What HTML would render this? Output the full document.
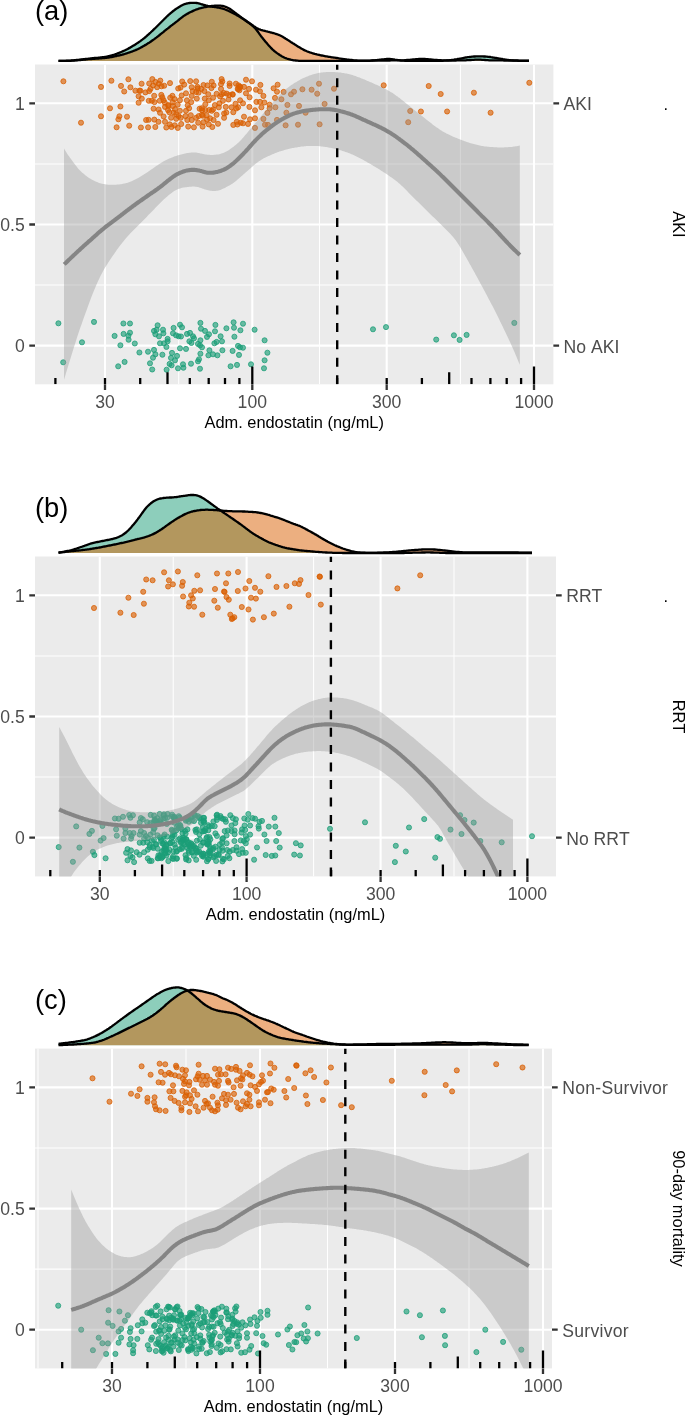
<!DOCTYPE html>
<html><head><meta charset="utf-8"><title>Figure</title>
<style>
html,body{margin:0;padding:0;background:#fff;}
body{width:685px;height:1416px;overflow:hidden;}
svg{display:block;will-change:transform;font-family:"Liberation Sans",sans-serif;font-kerning:none;}
</style></head><body>
<svg width="685" height="1416" viewBox="0 0 685 1416">
<rect width="685" height="1416" fill="#fff"/>
<clipPath id="clip_a"><rect x="35" y="64.5" width="518.4" height="319.8"/></clipPath>
<path d="M58.5 60.9L59.5 60.9L60.5 60.9L61.5 60.9L62.5 60.8L63.5 60.8L64.5 60.8L65.5 60.8L66.5 60.7L67.5 60.7L68.5 60.7L69.5 60.6L70.5 60.6L71.5 60.5L72.5 60.4L73.5 60.3L74.5 60.2L75.5 60.1L76.5 60L77.5 59.9L78.5 59.8L79.5 59.7L80.5 59.6L81.5 59.5L82.5 59.4L83.5 59.2L84.5 59.1L85.5 59L86.5 58.9L87.5 58.8L88.5 58.7L89.5 58.6L90.5 58.4L91.5 58.3L92.5 58.2L93.5 58.1L94.5 58L95.5 58L96.5 57.9L97.5 57.8L98.5 57.7L99.5 57.6L100.5 57.5L101.5 57.4L102.5 57.2L103.5 57.1L104.5 57L105.6 56.8L106.6 56.6L107.6 56.4L108.6 56.1L109.6 55.9L110.6 55.6L111.6 55.4L112.6 55.1L113.6 54.8L114.6 54.5L115.6 54.1L116.6 53.8L117.6 53.4L118.6 53L119.6 52.6L120.6 52.2L121.6 51.8L122.6 51.4L123.6 50.9L124.6 50.5L125.6 50L126.6 49.5L127.6 49L128.6 48.4L129.6 47.9L130.6 47.3L131.6 46.7L132.6 46.1L133.6 45.5L134.6 44.9L135.6 44.3L136.6 43.6L137.6 42.9L138.6 42.3L139.6 41.6L140.6 40.9L141.6 40.1L142.6 39.4L143.6 38.6L144.6 37.8L145.6 37L146.6 36.1L147.6 35.2L148.6 34.3L149.6 33.4L150.6 32.5L151.6 31.5L152.6 30.6L153.6 29.6L154.6 28.7L155.6 27.7L156.6 26.7L157.6 25.7L158.6 24.7L159.6 23.7L160.6 22.7L161.6 21.7L162.6 20.7L163.6 19.7L164.6 18.7L165.6 17.8L166.6 16.8L167.6 15.8L168.6 14.9L169.6 14L170.6 13.2L171.6 12.3L172.6 11.5L173.6 10.7L174.6 10L175.6 9.2L176.6 8.6L177.6 7.9L178.6 7.3L179.6 6.7L180.6 6.1L181.6 5.5L182.6 5L183.6 4.5L184.6 4.1L185.6 3.8L186.6 3.5L187.6 3.3L188.6 3.1L189.6 3L190.6 2.9L191.6 2.8L192.6 2.8L193.6 2.8L194.6 2.8L195.6 2.9L196.6 3L197.6 3.2L198.6 3.4L199.7 3.7L200.7 4L201.7 4.3L202.7 4.5L203.7 4.8L204.7 5.1L205.7 5.4L206.7 5.6L207.7 5.9L208.7 6.1L209.7 6.3L210.7 6.5L211.7 6.6L212.7 6.8L213.7 6.9L214.7 7L215.7 7.2L216.7 7.3L217.7 7.5L218.7 7.7L219.7 7.8L220.7 8.1L221.7 8.3L222.7 8.6L223.7 8.9L224.7 9.3L225.7 9.7L226.7 10.1L227.7 10.5L228.7 11L229.7 11.5L230.7 12L231.7 12.5L232.7 13L233.7 13.5L234.7 14L235.7 14.5L236.7 15.1L237.7 15.6L238.7 16.2L239.7 16.8L240.7 17.4L241.7 18L242.7 18.7L243.7 19.4L244.7 20.1L245.7 20.8L246.7 21.5L247.7 22.2L248.7 22.9L249.7 23.7L250.7 24.4L251.7 25.2L252.7 26L253.7 26.9L254.7 27.8L255.7 28.9L256.7 30.2L257.7 31.5L258.7 32.9L259.7 34.3L260.7 35.7L261.7 37L262.7 38.2L263.7 39.5L264.7 40.7L265.7 41.9L266.7 43.1L267.7 44.3L268.7 45.4L269.7 46.5L270.7 47.6L271.7 48.6L272.7 49.6L273.7 50.5L274.7 51.3L275.7 52.1L276.7 52.9L277.7 53.6L278.7 54.3L279.7 55L280.7 55.6L281.7 56.2L282.7 56.7L283.7 57.2L284.7 57.7L285.7 58.1L286.7 58.5L287.7 58.8L288.7 59.2L289.7 59.4L290.7 59.7L291.7 59.9L292.7 60.1L293.8 60.3L294.8 60.4L295.8 60.5L296.8 60.6L297.8 60.7L298.8 60.8L299.8 60.8L300.8 60.8L301.8 60.9L302.8 60.9L303.8 60.9L304.8 60.9L305.8 60.9L306.8 60.9L307.8 60.9L308.8 60.9L309.8 60.9L310.8 60.9L311.8 60.9L312.8 60.9L313.8 60.9L314.8 60.9L315.8 60.9L316.8 60.9L317.8 60.9L318.8 60.9L319.8 60.9L320.8 60.9L321.8 60.9L322.8 60.9L323.8 60.9L324.8 60.9L325.8 60.9L326.8 60.9L327.8 60.9L328.8 60.9L329.8 60.9L330.8 60.9L331.8 60.9L332.8 60.9L333.8 60.9L334.8 60.9L335.8 60.9L336.8 60.9L337.8 60.9L338.8 60.9L339.8 60.9L340.8 60.9L341.8 60.9L342.8 60.9L343.8 60.9L344.8 60.9L345.8 60.9L346.8 60.9L347.8 60.9L348.8 60.9L349.8 60.9L350.8 60.9L351.8 60.9L352.8 60.9L353.8 60.9L354.8 60.9L355.8 60.9L356.8 60.9L357.8 60.9L358.8 60.9L359.8 60.9L360.8 60.9L361.8 60.9L362.8 60.9L363.8 60.9L364.8 60.9L365.8 60.9L366.8 60.9L367.8 60.9L368.8 60.8L369.8 60.8L370.8 60.7L371.8 60.6L372.8 60.5L373.8 60.4L374.8 60.3L375.8 60.2L376.8 60.1L377.8 59.9L378.8 59.8L379.8 59.7L380.8 59.6L381.8 59.5L382.8 59.4L383.8 59.3L384.8 59.2L385.8 59.1L386.8 59L387.9 59L388.9 59L389.9 59L390.9 59.1L391.9 59.2L392.9 59.4L393.9 59.5L394.9 59.7L395.9 59.8L396.9 59.9L397.9 60.1L398.9 60.2L399.9 60.3L400.9 60.5L401.9 60.6L402.9 60.6L403.9 60.7L404.9 60.8L405.9 60.8L406.9 60.9L407.9 60.9L408.9 60.9L409.9 60.9L410.9 60.9L411.9 60.9L412.9 60.9L413.9 60.9L414.9 60.9L415.9 60.9L416.9 60.9L417.9 60.9L418.9 60.9L419.9 60.9L420.9 60.9L421.9 60.9L422.9 60.9L423.9 60.9L424.9 60.9L425.9 60.9L426.9 60.9L427.9 60.9L428.9 60.9L429.9 60.9L430.9 60.9L431.9 60.9L432.9 60.9L433.9 60.9L434.9 60.9L435.9 60.9L436.9 60.9L437.9 60.9L438.9 60.9L439.9 60.9L440.9 60.9L441.9 60.8L442.9 60.8L443.9 60.7L444.9 60.7L445.9 60.6L446.9 60.5L447.9 60.4L448.9 60.3L449.9 60.2L450.9 60.1L451.9 59.9L452.9 59.8L453.9 59.7L454.9 59.5L455.9 59.3L456.9 59.2L457.9 59L458.9 58.8L459.9 58.6L460.9 58.5L461.9 58.3L462.9 58.1L463.9 57.9L464.9 57.7L465.9 57.5L466.9 57.4L467.9 57.2L468.9 57.1L469.9 56.9L470.9 56.8L471.9 56.7L472.9 56.6L473.9 56.5L474.9 56.5L475.9 56.4L476.9 56.4L477.9 56.3L478.9 56.3L479.9 56.3L480.9 56.3L481.9 56.4L483 56.4L484 56.5L485 56.5L486 56.6L487 56.7L488 56.8L489 56.9L490 57L491 57.2L492 57.3L493 57.5L494 57.6L495 57.8L496 57.9L497 58.1L498 58.3L499 58.5L500 58.6L501 58.8L502 59L503 59.2L504 59.3L505 59.5L506 59.6L507 59.8L508 59.9L509 60.1L510 60.2L511 60.3L512 60.4L513 60.5L514 60.6L515 60.6L516 60.7L517 60.7L518 60.8L519 60.8L520 60.9L521 60.9L522 60.9L523 60.9L524 60.9L525 60.9L526 60.9L527 60.9L528 60.9L529 60.9L529 60.9L58.5 60.9Z" fill="#1B9E77" fill-opacity="0.5" stroke="none"/>
<path d="M58.5 60.9L59.5 60.9L60.5 60.9L61.5 60.9L62.5 60.9L63.5 60.9L64.5 60.9L65.5 60.9L66.5 60.9L67.5 60.9L68.5 60.8L69.5 60.8L70.5 60.8L71.5 60.7L72.5 60.7L73.5 60.6L74.5 60.5L75.5 60.4L76.5 60.4L77.5 60.3L78.5 60.2L79.5 60.1L80.5 60L81.5 59.9L82.5 59.8L83.5 59.7L84.5 59.6L85.5 59.5L86.5 59.4L87.5 59.3L88.5 59.2L89.5 59.1L90.5 59.1L91.5 59L92.5 58.9L93.5 58.8L94.5 58.8L95.5 58.7L96.5 58.6L97.5 58.6L98.5 58.5L99.5 58.4L100.5 58.4L101.5 58.3L102.5 58.2L103.5 58.1L104.5 58L105.6 57.9L106.6 57.8L107.6 57.7L108.6 57.5L109.6 57.4L110.6 57.2L111.6 57L112.6 56.8L113.6 56.6L114.6 56.4L115.6 56.2L116.6 56L117.6 55.7L118.6 55.5L119.6 55.3L120.6 55L121.6 54.8L122.6 54.5L123.6 54.3L124.6 54L125.6 53.7L126.6 53.4L127.6 53L128.6 52.7L129.6 52.4L130.6 52L131.6 51.6L132.6 51.3L133.6 50.9L134.6 50.5L135.6 50.1L136.6 49.6L137.6 49.2L138.6 48.7L139.6 48.2L140.6 47.7L141.6 47.1L142.6 46.6L143.6 46L144.6 45.4L145.6 44.9L146.6 44.3L147.6 43.6L148.6 43L149.6 42.4L150.6 41.7L151.6 41L152.6 40.3L153.6 39.6L154.6 38.9L155.6 38.1L156.6 37.4L157.6 36.6L158.6 35.8L159.6 35L160.6 34.2L161.6 33.4L162.6 32.6L163.6 31.8L164.6 30.9L165.6 30.1L166.6 29.3L167.6 28.6L168.6 27.8L169.6 27L170.6 26.2L171.6 25.4L172.6 24.7L173.6 23.9L174.6 23.2L175.6 22.4L176.6 21.6L177.6 20.9L178.6 20L179.6 19.2L180.6 18.4L181.6 17.6L182.6 16.8L183.6 16.1L184.6 15.4L185.6 14.8L186.6 14.2L187.6 13.6L188.6 13.1L189.6 12.5L190.6 12L191.6 11.6L192.6 11.1L193.6 10.6L194.6 10.2L195.6 9.8L196.6 9.4L197.6 9.1L198.6 8.7L199.7 8.4L200.7 8.2L201.7 7.9L202.7 7.7L203.7 7.4L204.7 7.2L205.7 7L206.7 6.8L207.7 6.6L208.7 6.4L209.7 6.3L210.7 6.1L211.7 6L212.7 5.9L213.7 5.8L214.7 5.7L215.7 5.6L216.7 5.6L217.7 5.6L218.7 5.6L219.7 5.7L220.7 5.7L221.7 5.8L222.7 6L223.7 6.2L224.7 6.5L225.7 6.8L226.7 7.2L227.7 7.7L228.7 8.2L229.7 8.8L230.7 9.5L231.7 10.2L232.7 10.9L233.7 11.6L234.7 12.4L235.7 13.1L236.7 13.9L237.7 14.6L238.7 15.4L239.7 16.2L240.7 16.9L241.7 17.7L242.7 18.4L243.7 19.1L244.7 19.8L245.7 20.5L246.7 21.2L247.7 21.9L248.7 22.6L249.7 23.2L250.7 23.9L251.7 24.6L252.7 25.3L253.7 26.1L254.7 26.8L255.7 27.5L256.7 28.1L257.7 28.6L258.7 29.1L259.7 29.4L260.7 29.8L261.7 30.1L262.7 30.4L263.7 30.6L264.7 30.9L265.7 31.2L266.7 31.4L267.7 31.7L268.7 31.9L269.7 32.2L270.7 32.5L271.7 32.7L272.7 33L273.7 33.2L274.7 33.5L275.7 33.8L276.7 34.1L277.7 34.5L278.7 34.9L279.7 35.3L280.7 35.8L281.7 36.3L282.7 36.8L283.7 37.4L284.7 38L285.7 38.7L286.7 39.3L287.7 39.9L288.7 40.6L289.7 41.2L290.7 41.9L291.7 42.5L292.7 43.2L293.8 43.8L294.8 44.5L295.8 45.1L296.8 45.8L297.8 46.4L298.8 47L299.8 47.6L300.8 48.2L301.8 48.8L302.8 49.3L303.8 49.9L304.8 50.4L305.8 50.8L306.8 51.3L307.8 51.7L308.8 52L309.8 52.4L310.8 52.7L311.8 53L312.8 53.3L313.8 53.6L314.8 53.9L315.8 54.1L316.8 54.4L317.8 54.6L318.8 54.8L319.8 55L320.8 55.3L321.8 55.5L322.8 55.7L323.8 55.9L324.8 56.1L325.8 56.3L326.8 56.4L327.8 56.6L328.8 56.8L329.8 56.9L330.8 57.1L331.8 57.3L332.8 57.4L333.8 57.6L334.8 57.7L335.8 57.9L336.8 58L337.8 58.2L338.8 58.4L339.8 58.6L340.8 58.7L341.8 58.9L342.8 59L343.8 59.1L344.8 59.2L345.8 59.3L346.8 59.5L347.8 59.6L348.8 59.7L349.8 59.8L350.8 59.9L351.8 60L352.8 60.1L353.8 60.3L354.8 60.4L355.8 60.4L356.8 60.5L357.8 60.6L358.8 60.6L359.8 60.6L360.8 60.6L361.8 60.6L362.8 60.6L363.8 60.6L364.8 60.6L365.8 60.6L366.8 60.6L367.8 60.6L368.8 60.6L369.8 60.6L370.8 60.6L371.8 60.5L372.8 60.5L373.8 60.5L374.8 60.5L375.8 60.5L376.8 60.5L377.8 60.5L378.8 60.5L379.8 60.5L380.8 60.5L381.8 60.5L382.8 60.5L383.8 60.5L384.8 60.5L385.8 60.5L386.8 60.5L387.9 60.5L388.9 60.5L389.9 60.5L390.9 60.4L391.9 60.4L392.9 60.4L393.9 60.4L394.9 60.4L395.9 60.4L396.9 60.4L397.9 60.4L398.9 60.4L399.9 60.4L400.9 60.4L401.9 60.3L402.9 60.3L403.9 60.3L404.9 60.2L405.9 60.1L406.9 60L407.9 60L408.9 59.9L409.9 59.8L410.9 59.7L411.9 59.6L412.9 59.5L413.9 59.4L414.9 59.3L415.9 59.2L416.9 59.1L417.9 59.1L418.9 59L419.9 59L420.9 58.9L421.9 58.9L422.9 58.9L423.9 59L424.9 59L425.9 59.1L426.9 59.1L427.9 59.2L428.9 59.3L429.9 59.4L430.9 59.5L431.9 59.6L432.9 59.7L433.9 59.8L434.9 59.9L435.9 59.9L436.9 60L437.9 60.1L438.9 60.1L439.9 60.2L440.9 60.2L441.9 60.3L442.9 60.3L443.9 60.4L444.9 60.4L445.9 60.4L446.9 60.4L447.9 60.5L448.9 60.5L449.9 60.5L450.9 60.5L451.9 60.5L452.9 60.5L453.9 60.5L454.9 60.5L455.9 60.5L456.9 60.4L457.9 60.4L458.9 60.4L459.9 60.4L460.9 60.4L461.9 60.4L462.9 60.3L463.9 60.3L464.9 60.3L465.9 60.3L466.9 60.2L467.9 60.2L468.9 60.1L469.9 60L470.9 60L471.9 59.9L472.9 59.8L473.9 59.8L474.9 59.7L475.9 59.7L476.9 59.6L477.9 59.6L478.9 59.6L479.9 59.7L480.9 59.7L481.9 59.8L483 59.9L484 59.9L485 60L486 60.1L487 60.2L488 60.2L489 60.3L490 60.3L491 60.3L492 60.3L493 60.3L494 60.3L495 60.4L496 60.4L497 60.4L498 60.4L499 60.4L500 60.4L501 60.4L502 60.4L503 60.4L504 60.5L505 60.5L506 60.5L507 60.5L508 60.5L509 60.5L510 60.5L511 60.5L512 60.5L513 60.5L514 60.5L515 60.5L516 60.5L517 60.5L518 60.5L519 60.6L520 60.6L521 60.6L522 60.6L523 60.6L524 60.6L525 60.6L526 60.6L527 60.6L528 60.6L529 60.6L529 60.9L58.5 60.9Z" fill="#D95F02" fill-opacity="0.5" stroke="none"/>
<path d="M58.5 60.9L59.5 60.9L60.5 60.9L61.5 60.9L62.5 60.8L63.5 60.8L64.5 60.8L65.5 60.8L66.5 60.7L67.5 60.7L68.5 60.7L69.5 60.6L70.5 60.6L71.5 60.5L72.5 60.4L73.5 60.3L74.5 60.2L75.5 60.1L76.5 60L77.5 59.9L78.5 59.8L79.5 59.7L80.5 59.6L81.5 59.5L82.5 59.4L83.5 59.2L84.5 59.1L85.5 59L86.5 58.9L87.5 58.8L88.5 58.7L89.5 58.6L90.5 58.4L91.5 58.3L92.5 58.2L93.5 58.1L94.5 58L95.5 58L96.5 57.9L97.5 57.8L98.5 57.7L99.5 57.6L100.5 57.5L101.5 57.4L102.5 57.2L103.5 57.1L104.5 57L105.6 56.8L106.6 56.6L107.6 56.4L108.6 56.1L109.6 55.9L110.6 55.6L111.6 55.4L112.6 55.1L113.6 54.8L114.6 54.5L115.6 54.1L116.6 53.8L117.6 53.4L118.6 53L119.6 52.6L120.6 52.2L121.6 51.8L122.6 51.4L123.6 50.9L124.6 50.5L125.6 50L126.6 49.5L127.6 49L128.6 48.4L129.6 47.9L130.6 47.3L131.6 46.7L132.6 46.1L133.6 45.5L134.6 44.9L135.6 44.3L136.6 43.6L137.6 42.9L138.6 42.3L139.6 41.6L140.6 40.9L141.6 40.1L142.6 39.4L143.6 38.6L144.6 37.8L145.6 37L146.6 36.1L147.6 35.2L148.6 34.3L149.6 33.4L150.6 32.5L151.6 31.5L152.6 30.6L153.6 29.6L154.6 28.7L155.6 27.7L156.6 26.7L157.6 25.7L158.6 24.7L159.6 23.7L160.6 22.7L161.6 21.7L162.6 20.7L163.6 19.7L164.6 18.7L165.6 17.8L166.6 16.8L167.6 15.8L168.6 14.9L169.6 14L170.6 13.2L171.6 12.3L172.6 11.5L173.6 10.7L174.6 10L175.6 9.2L176.6 8.6L177.6 7.9L178.6 7.3L179.6 6.7L180.6 6.1L181.6 5.5L182.6 5L183.6 4.5L184.6 4.1L185.6 3.8L186.6 3.5L187.6 3.3L188.6 3.1L189.6 3L190.6 2.9L191.6 2.8L192.6 2.8L193.6 2.8L194.6 2.8L195.6 2.9L196.6 3L197.6 3.2L198.6 3.4L199.7 3.7L200.7 4L201.7 4.3L202.7 4.5L203.7 4.8L204.7 5.1L205.7 5.4L206.7 5.6L207.7 5.9L208.7 6.1L209.7 6.3L210.7 6.5L211.7 6.6L212.7 6.8L213.7 6.9L214.7 7L215.7 7.2L216.7 7.3L217.7 7.5L218.7 7.7L219.7 7.8L220.7 8.1L221.7 8.3L222.7 8.6L223.7 8.9L224.7 9.3L225.7 9.7L226.7 10.1L227.7 10.5L228.7 11L229.7 11.5L230.7 12L231.7 12.5L232.7 13L233.7 13.5L234.7 14L235.7 14.5L236.7 15.1L237.7 15.6L238.7 16.2L239.7 16.8L240.7 17.4L241.7 18L242.7 18.7L243.7 19.4L244.7 20.1L245.7 20.8L246.7 21.5L247.7 22.2L248.7 22.9L249.7 23.7L250.7 24.4L251.7 25.2L252.7 26L253.7 26.9L254.7 27.8L255.7 28.9L256.7 30.2L257.7 31.5L258.7 32.9L259.7 34.3L260.7 35.7L261.7 37L262.7 38.2L263.7 39.5L264.7 40.7L265.7 41.9L266.7 43.1L267.7 44.3L268.7 45.4L269.7 46.5L270.7 47.6L271.7 48.6L272.7 49.6L273.7 50.5L274.7 51.3L275.7 52.1L276.7 52.9L277.7 53.6L278.7 54.3L279.7 55L280.7 55.6L281.7 56.2L282.7 56.7L283.7 57.2L284.7 57.7L285.7 58.1L286.7 58.5L287.7 58.8L288.7 59.2L289.7 59.4L290.7 59.7L291.7 59.9L292.7 60.1L293.8 60.3L294.8 60.4L295.8 60.5L296.8 60.6L297.8 60.7L298.8 60.8L299.8 60.8L300.8 60.8L301.8 60.9L302.8 60.9L303.8 60.9L304.8 60.9L305.8 60.9L306.8 60.9L307.8 60.9L308.8 60.9L309.8 60.9L310.8 60.9L311.8 60.9L312.8 60.9L313.8 60.9L314.8 60.9L315.8 60.9L316.8 60.9L317.8 60.9L318.8 60.9L319.8 60.9L320.8 60.9L321.8 60.9L322.8 60.9L323.8 60.9L324.8 60.9L325.8 60.9L326.8 60.9L327.8 60.9L328.8 60.9L329.8 60.9L330.8 60.9L331.8 60.9L332.8 60.9L333.8 60.9L334.8 60.9L335.8 60.9L336.8 60.9L337.8 60.9L338.8 60.9L339.8 60.9L340.8 60.9L341.8 60.9L342.8 60.9L343.8 60.9L344.8 60.9L345.8 60.9L346.8 60.9L347.8 60.9L348.8 60.9L349.8 60.9L350.8 60.9L351.8 60.9L352.8 60.9L353.8 60.9L354.8 60.9L355.8 60.9L356.8 60.9L357.8 60.9L358.8 60.9L359.8 60.9L360.8 60.9L361.8 60.9L362.8 60.9L363.8 60.9L364.8 60.9L365.8 60.9L366.8 60.9L367.8 60.9L368.8 60.8L369.8 60.8L370.8 60.7L371.8 60.6L372.8 60.5L373.8 60.4L374.8 60.3L375.8 60.2L376.8 60.1L377.8 59.9L378.8 59.8L379.8 59.7L380.8 59.6L381.8 59.5L382.8 59.4L383.8 59.3L384.8 59.2L385.8 59.1L386.8 59L387.9 59L388.9 59L389.9 59L390.9 59.1L391.9 59.2L392.9 59.4L393.9 59.5L394.9 59.7L395.9 59.8L396.9 59.9L397.9 60.1L398.9 60.2L399.9 60.3L400.9 60.5L401.9 60.6L402.9 60.6L403.9 60.7L404.9 60.8L405.9 60.8L406.9 60.9L407.9 60.9L408.9 60.9L409.9 60.9L410.9 60.9L411.9 60.9L412.9 60.9L413.9 60.9L414.9 60.9L415.9 60.9L416.9 60.9L417.9 60.9L418.9 60.9L419.9 60.9L420.9 60.9L421.9 60.9L422.9 60.9L423.9 60.9L424.9 60.9L425.9 60.9L426.9 60.9L427.9 60.9L428.9 60.9L429.9 60.9L430.9 60.9L431.9 60.9L432.9 60.9L433.9 60.9L434.9 60.9L435.9 60.9L436.9 60.9L437.9 60.9L438.9 60.9L439.9 60.9L440.9 60.9L441.9 60.8L442.9 60.8L443.9 60.7L444.9 60.7L445.9 60.6L446.9 60.5L447.9 60.4L448.9 60.3L449.9 60.2L450.9 60.1L451.9 59.9L452.9 59.8L453.9 59.7L454.9 59.5L455.9 59.3L456.9 59.2L457.9 59L458.9 58.8L459.9 58.6L460.9 58.5L461.9 58.3L462.9 58.1L463.9 57.9L464.9 57.7L465.9 57.5L466.9 57.4L467.9 57.2L468.9 57.1L469.9 56.9L470.9 56.8L471.9 56.7L472.9 56.6L473.9 56.5L474.9 56.5L475.9 56.4L476.9 56.4L477.9 56.3L478.9 56.3L479.9 56.3L480.9 56.3L481.9 56.4L483 56.4L484 56.5L485 56.5L486 56.6L487 56.7L488 56.8L489 56.9L490 57L491 57.2L492 57.3L493 57.5L494 57.6L495 57.8L496 57.9L497 58.1L498 58.3L499 58.5L500 58.6L501 58.8L502 59L503 59.2L504 59.3L505 59.5L506 59.6L507 59.8L508 59.9L509 60.1L510 60.2L511 60.3L512 60.4L513 60.5L514 60.6L515 60.6L516 60.7L517 60.7L518 60.8L519 60.8L520 60.9L521 60.9L522 60.9L523 60.9L524 60.9L525 60.9L526 60.9L527 60.9L528 60.9L529 60.9" fill="none" stroke="#000" stroke-width="2.3" stroke-linejoin="round"/>
<path d="M58.5 60.9L59.5 60.9L60.5 60.9L61.5 60.9L62.5 60.9L63.5 60.9L64.5 60.9L65.5 60.9L66.5 60.9L67.5 60.9L68.5 60.8L69.5 60.8L70.5 60.8L71.5 60.7L72.5 60.7L73.5 60.6L74.5 60.5L75.5 60.4L76.5 60.4L77.5 60.3L78.5 60.2L79.5 60.1L80.5 60L81.5 59.9L82.5 59.8L83.5 59.7L84.5 59.6L85.5 59.5L86.5 59.4L87.5 59.3L88.5 59.2L89.5 59.1L90.5 59.1L91.5 59L92.5 58.9L93.5 58.8L94.5 58.8L95.5 58.7L96.5 58.6L97.5 58.6L98.5 58.5L99.5 58.4L100.5 58.4L101.5 58.3L102.5 58.2L103.5 58.1L104.5 58L105.6 57.9L106.6 57.8L107.6 57.7L108.6 57.5L109.6 57.4L110.6 57.2L111.6 57L112.6 56.8L113.6 56.6L114.6 56.4L115.6 56.2L116.6 56L117.6 55.7L118.6 55.5L119.6 55.3L120.6 55L121.6 54.8L122.6 54.5L123.6 54.3L124.6 54L125.6 53.7L126.6 53.4L127.6 53L128.6 52.7L129.6 52.4L130.6 52L131.6 51.6L132.6 51.3L133.6 50.9L134.6 50.5L135.6 50.1L136.6 49.6L137.6 49.2L138.6 48.7L139.6 48.2L140.6 47.7L141.6 47.1L142.6 46.6L143.6 46L144.6 45.4L145.6 44.9L146.6 44.3L147.6 43.6L148.6 43L149.6 42.4L150.6 41.7L151.6 41L152.6 40.3L153.6 39.6L154.6 38.9L155.6 38.1L156.6 37.4L157.6 36.6L158.6 35.8L159.6 35L160.6 34.2L161.6 33.4L162.6 32.6L163.6 31.8L164.6 30.9L165.6 30.1L166.6 29.3L167.6 28.6L168.6 27.8L169.6 27L170.6 26.2L171.6 25.4L172.6 24.7L173.6 23.9L174.6 23.2L175.6 22.4L176.6 21.6L177.6 20.9L178.6 20L179.6 19.2L180.6 18.4L181.6 17.6L182.6 16.8L183.6 16.1L184.6 15.4L185.6 14.8L186.6 14.2L187.6 13.6L188.6 13.1L189.6 12.5L190.6 12L191.6 11.6L192.6 11.1L193.6 10.6L194.6 10.2L195.6 9.8L196.6 9.4L197.6 9.1L198.6 8.7L199.7 8.4L200.7 8.2L201.7 7.9L202.7 7.7L203.7 7.4L204.7 7.2L205.7 7L206.7 6.8L207.7 6.6L208.7 6.4L209.7 6.3L210.7 6.1L211.7 6L212.7 5.9L213.7 5.8L214.7 5.7L215.7 5.6L216.7 5.6L217.7 5.6L218.7 5.6L219.7 5.7L220.7 5.7L221.7 5.8L222.7 6L223.7 6.2L224.7 6.5L225.7 6.8L226.7 7.2L227.7 7.7L228.7 8.2L229.7 8.8L230.7 9.5L231.7 10.2L232.7 10.9L233.7 11.6L234.7 12.4L235.7 13.1L236.7 13.9L237.7 14.6L238.7 15.4L239.7 16.2L240.7 16.9L241.7 17.7L242.7 18.4L243.7 19.1L244.7 19.8L245.7 20.5L246.7 21.2L247.7 21.9L248.7 22.6L249.7 23.2L250.7 23.9L251.7 24.6L252.7 25.3L253.7 26.1L254.7 26.8L255.7 27.5L256.7 28.1L257.7 28.6L258.7 29.1L259.7 29.4L260.7 29.8L261.7 30.1L262.7 30.4L263.7 30.6L264.7 30.9L265.7 31.2L266.7 31.4L267.7 31.7L268.7 31.9L269.7 32.2L270.7 32.5L271.7 32.7L272.7 33L273.7 33.2L274.7 33.5L275.7 33.8L276.7 34.1L277.7 34.5L278.7 34.9L279.7 35.3L280.7 35.8L281.7 36.3L282.7 36.8L283.7 37.4L284.7 38L285.7 38.7L286.7 39.3L287.7 39.9L288.7 40.6L289.7 41.2L290.7 41.9L291.7 42.5L292.7 43.2L293.8 43.8L294.8 44.5L295.8 45.1L296.8 45.8L297.8 46.4L298.8 47L299.8 47.6L300.8 48.2L301.8 48.8L302.8 49.3L303.8 49.9L304.8 50.4L305.8 50.8L306.8 51.3L307.8 51.7L308.8 52L309.8 52.4L310.8 52.7L311.8 53L312.8 53.3L313.8 53.6L314.8 53.9L315.8 54.1L316.8 54.4L317.8 54.6L318.8 54.8L319.8 55L320.8 55.3L321.8 55.5L322.8 55.7L323.8 55.9L324.8 56.1L325.8 56.3L326.8 56.4L327.8 56.6L328.8 56.8L329.8 56.9L330.8 57.1L331.8 57.3L332.8 57.4L333.8 57.6L334.8 57.7L335.8 57.9L336.8 58L337.8 58.2L338.8 58.4L339.8 58.6L340.8 58.7L341.8 58.9L342.8 59L343.8 59.1L344.8 59.2L345.8 59.3L346.8 59.5L347.8 59.6L348.8 59.7L349.8 59.8L350.8 59.9L351.8 60L352.8 60.1L353.8 60.3L354.8 60.4L355.8 60.4L356.8 60.5L357.8 60.6L358.8 60.6L359.8 60.6L360.8 60.6L361.8 60.6L362.8 60.6L363.8 60.6L364.8 60.6L365.8 60.6L366.8 60.6L367.8 60.6L368.8 60.6L369.8 60.6L370.8 60.6L371.8 60.5L372.8 60.5L373.8 60.5L374.8 60.5L375.8 60.5L376.8 60.5L377.8 60.5L378.8 60.5L379.8 60.5L380.8 60.5L381.8 60.5L382.8 60.5L383.8 60.5L384.8 60.5L385.8 60.5L386.8 60.5L387.9 60.5L388.9 60.5L389.9 60.5L390.9 60.4L391.9 60.4L392.9 60.4L393.9 60.4L394.9 60.4L395.9 60.4L396.9 60.4L397.9 60.4L398.9 60.4L399.9 60.4L400.9 60.4L401.9 60.3L402.9 60.3L403.9 60.3L404.9 60.2L405.9 60.1L406.9 60L407.9 60L408.9 59.9L409.9 59.8L410.9 59.7L411.9 59.6L412.9 59.5L413.9 59.4L414.9 59.3L415.9 59.2L416.9 59.1L417.9 59.1L418.9 59L419.9 59L420.9 58.9L421.9 58.9L422.9 58.9L423.9 59L424.9 59L425.9 59.1L426.9 59.1L427.9 59.2L428.9 59.3L429.9 59.4L430.9 59.5L431.9 59.6L432.9 59.7L433.9 59.8L434.9 59.9L435.9 59.9L436.9 60L437.9 60.1L438.9 60.1L439.9 60.2L440.9 60.2L441.9 60.3L442.9 60.3L443.9 60.4L444.9 60.4L445.9 60.4L446.9 60.4L447.9 60.5L448.9 60.5L449.9 60.5L450.9 60.5L451.9 60.5L452.9 60.5L453.9 60.5L454.9 60.5L455.9 60.5L456.9 60.4L457.9 60.4L458.9 60.4L459.9 60.4L460.9 60.4L461.9 60.4L462.9 60.3L463.9 60.3L464.9 60.3L465.9 60.3L466.9 60.2L467.9 60.2L468.9 60.1L469.9 60L470.9 60L471.9 59.9L472.9 59.8L473.9 59.8L474.9 59.7L475.9 59.7L476.9 59.6L477.9 59.6L478.9 59.6L479.9 59.7L480.9 59.7L481.9 59.8L483 59.9L484 59.9L485 60L486 60.1L487 60.2L488 60.2L489 60.3L490 60.3L491 60.3L492 60.3L493 60.3L494 60.3L495 60.4L496 60.4L497 60.4L498 60.4L499 60.4L500 60.4L501 60.4L502 60.4L503 60.4L504 60.5L505 60.5L506 60.5L507 60.5L508 60.5L509 60.5L510 60.5L511 60.5L512 60.5L513 60.5L514 60.5L515 60.5L516 60.5L517 60.5L518 60.5L519 60.6L520 60.6L521 60.6L522 60.6L523 60.6L524 60.6L525 60.6L526 60.6L527 60.6L528 60.6L529 60.6" fill="none" stroke="#000" stroke-width="2.3" stroke-linejoin="round"/>
<rect x="35" y="64.5" width="518.4" height="319.8" fill="#EBEBEB"/>
<g clip-path="url(#clip_a)">
<path d="M31.4 64.5V384.3M178.7 64.5V384.3M319.5 64.5V384.3M460.4 64.5V384.3M607.6 64.5V384.3M35 163.9H553.4M35 285H553.4" stroke="#fff" stroke-width="1.05" fill="none"/>
<path d="M105 64.5V384.3M252.3 64.5V384.3M386.7 64.5V384.3M534 64.5V384.3M35 103.3H553.4M35 224.5H553.4M35 345.6H553.4" stroke="#fff" stroke-width="2.1" fill="none"/>
<g fill="#1B9E77" fill-opacity="0.64" stroke="#1B9E77" stroke-opacity="0.85" stroke-width="0.9"><circle cx="58.4" cy="323.3" r="2.55"/><circle cx="94" cy="321.9" r="2.55"/><circle cx="82" cy="342.3" r="2.55"/><circle cx="63.2" cy="362.3" r="2.55"/><circle cx="123.4" cy="323.5" r="2.55"/><circle cx="130" cy="323.5" r="2.55"/><circle cx="114.6" cy="335.9" r="2.55"/><circle cx="123.6" cy="333.9" r="2.55"/><circle cx="130" cy="332.7" r="2.55"/><circle cx="128.4" cy="335.7" r="2.55"/><circle cx="128.6" cy="339.7" r="2.55"/><circle cx="120.4" cy="345.3" r="2.55"/><circle cx="134.8" cy="343.5" r="2.55"/><circle cx="139.4" cy="352.5" r="2.55"/><circle cx="124.6" cy="361.9" r="2.55"/><circle cx="118.2" cy="366.3" r="2.55"/><circle cx="148" cy="351.7" r="2.55"/><circle cx="154" cy="349.9" r="2.55"/><circle cx="155.4" cy="354.3" r="2.55"/><circle cx="153" cy="357.7" r="2.55"/><circle cx="150" cy="363.3" r="2.55"/><circle cx="152.2" cy="369.5" r="2.55"/><circle cx="157.6" cy="325.3" r="2.55"/><circle cx="154" cy="330.9" r="2.55"/><circle cx="156.6" cy="329.7" r="2.55"/><circle cx="155.4" cy="334.3" r="2.55"/><circle cx="159" cy="336.3" r="2.55"/><circle cx="163" cy="329.7" r="2.55"/><circle cx="163.4" cy="333.3" r="2.55"/><circle cx="160" cy="343.3" r="2.55"/><circle cx="164" cy="343.3" r="2.55"/><circle cx="167.6" cy="338.9" r="2.55"/><circle cx="167.6" cy="341.3" r="2.55"/><circle cx="166.4" cy="346.9" r="2.55"/><circle cx="162.4" cy="354.7" r="2.55"/><circle cx="166.6" cy="369.7" r="2.55"/><circle cx="173.6" cy="327.9" r="2.55"/><circle cx="180" cy="324.7" r="2.55"/><circle cx="182" cy="327.3" r="2.55"/><circle cx="173" cy="333.3" r="2.55"/><circle cx="176" cy="335.3" r="2.55"/><circle cx="178.6" cy="336.3" r="2.55"/><circle cx="181" cy="336.5" r="2.55"/><circle cx="187" cy="333.9" r="2.55"/><circle cx="190" cy="332.9" r="2.55"/><circle cx="193" cy="336.3" r="2.55"/><circle cx="194" cy="338.3" r="2.55"/><circle cx="189.4" cy="341.3" r="2.55"/><circle cx="191.4" cy="342.9" r="2.55"/><circle cx="180" cy="348.3" r="2.55"/><circle cx="186" cy="348.9" r="2.55"/><circle cx="172" cy="352.9" r="2.55"/><circle cx="177" cy="355.9" r="2.55"/><circle cx="171" cy="357.9" r="2.55"/><circle cx="175" cy="360.3" r="2.55"/><circle cx="169.6" cy="363.9" r="2.55"/><circle cx="171.6" cy="365.3" r="2.55"/><circle cx="178" cy="368.3" r="2.55"/><circle cx="183" cy="364.3" r="2.55"/><circle cx="183.4" cy="367.7" r="2.55"/><circle cx="191" cy="363.7" r="2.55"/><circle cx="200.4" cy="322.9" r="2.55"/><circle cx="201" cy="328.7" r="2.55"/><circle cx="205" cy="330.9" r="2.55"/><circle cx="209" cy="334.3" r="2.55"/><circle cx="207" cy="336.9" r="2.55"/><circle cx="200.4" cy="340.3" r="2.55"/><circle cx="198" cy="343.9" r="2.55"/><circle cx="200" cy="345.3" r="2.55"/><circle cx="202" cy="347.3" r="2.55"/><circle cx="200.4" cy="353.7" r="2.55"/><circle cx="199" cy="359.3" r="2.55"/><circle cx="198" cy="361.3" r="2.55"/><circle cx="200" cy="368.7" r="2.55"/><circle cx="215.4" cy="324.9" r="2.55"/><circle cx="215" cy="331.3" r="2.55"/><circle cx="220.6" cy="336.3" r="2.55"/><circle cx="222" cy="341.3" r="2.55"/><circle cx="216.6" cy="341.9" r="2.55"/><circle cx="214.4" cy="343.3" r="2.55"/><circle cx="209.4" cy="350.3" r="2.55"/><circle cx="208.4" cy="355.3" r="2.55"/><circle cx="213" cy="354.3" r="2.55"/><circle cx="217.4" cy="355.3" r="2.55"/><circle cx="222.4" cy="350.3" r="2.55"/><circle cx="226.4" cy="328.3" r="2.55"/><circle cx="233.6" cy="322.3" r="2.55"/><circle cx="234" cy="327.7" r="2.55"/><circle cx="243" cy="323.7" r="2.55"/><circle cx="240.4" cy="330.3" r="2.55"/><circle cx="234.4" cy="336.7" r="2.55"/><circle cx="238" cy="345.9" r="2.55"/><circle cx="240" cy="347.3" r="2.55"/><circle cx="243" cy="347.7" r="2.55"/><circle cx="232.6" cy="350.9" r="2.55"/><circle cx="239" cy="354.9" r="2.55"/><circle cx="230.6" cy="366.3" r="2.55"/><circle cx="237" cy="364.9" r="2.55"/><circle cx="251" cy="364.3" r="2.55"/><circle cx="254.6" cy="329.7" r="2.55"/><circle cx="264.6" cy="340.3" r="2.55"/><circle cx="267.4" cy="352.7" r="2.55"/><circle cx="264.6" cy="360.3" r="2.55"/><circle cx="264" cy="368.3" r="2.55"/><circle cx="373" cy="329.3" r="2.55"/><circle cx="386" cy="327.1" r="2.55"/><circle cx="436.2" cy="339.6" r="2.55"/><circle cx="453.9" cy="335.3" r="2.55"/><circle cx="459.6" cy="339.9" r="2.55"/><circle cx="466.6" cy="334.9" r="2.55"/><circle cx="514.3" cy="322.9" r="2.55"/></g>
<g fill="#D95F02" fill-opacity="0.64" stroke="#D95F02" stroke-opacity="0.85" stroke-width="0.9"><circle cx="63.4" cy="81.3" r="2.55"/><circle cx="101" cy="86.9" r="2.55"/><circle cx="111.4" cy="80.7" r="2.55"/><circle cx="128.4" cy="79.3" r="2.55"/><circle cx="121" cy="85.9" r="2.55"/><circle cx="130.4" cy="87.3" r="2.55"/><circle cx="124.2" cy="91.5" r="2.55"/><circle cx="135.4" cy="90.7" r="2.55"/><circle cx="139.4" cy="90.7" r="2.55"/><circle cx="138.6" cy="96.3" r="2.55"/><circle cx="138.6" cy="102.7" r="2.55"/><circle cx="110" cy="108.3" r="2.55"/><circle cx="120.4" cy="106.5" r="2.55"/><circle cx="101" cy="116.3" r="2.55"/><circle cx="81" cy="122.7" r="2.55"/><circle cx="119.4" cy="116.3" r="2.55"/><circle cx="118.4" cy="119.3" r="2.55"/><circle cx="127" cy="116.7" r="2.55"/><circle cx="116.6" cy="127.3" r="2.55"/><circle cx="129.2" cy="125.7" r="2.55"/><circle cx="246" cy="79.7" r="2.55"/><circle cx="252" cy="81.3" r="2.55"/><circle cx="260.4" cy="84.9" r="2.55"/><circle cx="277.6" cy="84.7" r="2.55"/><circle cx="244" cy="86.9" r="2.55"/><circle cx="249" cy="88.9" r="2.55"/><circle cx="256" cy="89.7" r="2.55"/><circle cx="260" cy="91.3" r="2.55"/><circle cx="273.6" cy="88.3" r="2.55"/><circle cx="277" cy="91.7" r="2.55"/><circle cx="283.6" cy="91.9" r="2.55"/><circle cx="246" cy="93.3" r="2.55"/><circle cx="249.6" cy="97.3" r="2.55"/><circle cx="263.4" cy="95.9" r="2.55"/><circle cx="275" cy="97.9" r="2.55"/><circle cx="281.4" cy="99.3" r="2.55"/><circle cx="291" cy="94.3" r="2.55"/><circle cx="294" cy="91.7" r="2.55"/><circle cx="302.4" cy="89.3" r="2.55"/><circle cx="311.6" cy="89.7" r="2.55"/><circle cx="319" cy="83.7" r="2.55"/><circle cx="317.2" cy="93.7" r="2.55"/><circle cx="334" cy="88.7" r="2.55"/><circle cx="256.4" cy="101.9" r="2.55"/><circle cx="260" cy="101.9" r="2.55"/><circle cx="264.4" cy="102.5" r="2.55"/><circle cx="269.6" cy="104.7" r="2.55"/><circle cx="243" cy="103.3" r="2.55"/><circle cx="249.4" cy="106.9" r="2.55"/><circle cx="261.4" cy="107.3" r="2.55"/><circle cx="269.6" cy="108.3" r="2.55"/><circle cx="275.4" cy="107.3" r="2.55"/><circle cx="287.4" cy="104.9" r="2.55"/><circle cx="299" cy="105.9" r="2.55"/><circle cx="324.6" cy="103.9" r="2.55"/><circle cx="255" cy="110.3" r="2.55"/><circle cx="267.4" cy="112.9" r="2.55"/><circle cx="286.4" cy="112.7" r="2.55"/><circle cx="305.6" cy="112.7" r="2.55"/><circle cx="244" cy="116.7" r="2.55"/><circle cx="250" cy="119.3" r="2.55"/><circle cx="255" cy="118.3" r="2.55"/><circle cx="263.4" cy="118.9" r="2.55"/><circle cx="277" cy="119.9" r="2.55"/><circle cx="243" cy="123.3" r="2.55"/><circle cx="248" cy="123.9" r="2.55"/><circle cx="255" cy="127.9" r="2.55"/><circle cx="265" cy="124.7" r="2.55"/><circle cx="268" cy="124.9" r="2.55"/><circle cx="285.6" cy="125.3" r="2.55"/><circle cx="298" cy="124.7" r="2.55"/><circle cx="319.6" cy="124.3" r="2.55"/><circle cx="383.7" cy="85.3" r="2.55"/><circle cx="428.7" cy="86" r="2.55"/><circle cx="440.7" cy="94" r="2.55"/><circle cx="473.9" cy="92.7" r="2.55"/><circle cx="529.3" cy="82.8" r="2.55"/><circle cx="410.2" cy="111" r="2.55"/><circle cx="420.9" cy="111.5" r="2.55"/><circle cx="447.1" cy="111.5" r="2.55"/><circle cx="490.6" cy="112.7" r="2.55"/><circle cx="408.2" cy="122.2" r="2.55"/><circle cx="141.6" cy="83.7" r="2.55"/><circle cx="152.3" cy="79.1" r="2.55"/><circle cx="149.2" cy="83.5" r="2.55"/><circle cx="155.3" cy="81.9" r="2.55"/><circle cx="160.3" cy="80.6" r="2.55"/><circle cx="158.8" cy="83.7" r="2.55"/><circle cx="153.1" cy="85.4" r="2.55"/><circle cx="157.1" cy="87.2" r="2.55"/><circle cx="161.5" cy="86.3" r="2.55"/><circle cx="150.5" cy="88.9" r="2.55"/><circle cx="149.2" cy="91.1" r="2.55"/><circle cx="145.4" cy="92.4" r="2.55"/><circle cx="140.4" cy="90.7" r="2.55"/><circle cx="170" cy="83.1" r="2.55"/><circle cx="182.2" cy="81.5" r="2.55"/><circle cx="184.2" cy="84.6" r="2.55"/><circle cx="180.5" cy="87.6" r="2.55"/><circle cx="190.2" cy="81.1" r="2.55"/><circle cx="196.1" cy="81.3" r="2.55"/><circle cx="191.7" cy="87.2" r="2.55"/><circle cx="197.4" cy="86.8" r="2.55"/><circle cx="192.6" cy="91.1" r="2.55"/><circle cx="196.1" cy="92" r="2.55"/><circle cx="154.2" cy="95.8" r="2.55"/><circle cx="161.3" cy="94.9" r="2.55"/><circle cx="141.8" cy="98.6" r="2.55"/><circle cx="148.8" cy="100.8" r="2.55"/><circle cx="151.8" cy="100.8" r="2.55"/><circle cx="154.5" cy="102.1" r="2.55"/><circle cx="159.7" cy="100.8" r="2.55"/><circle cx="163.6" cy="100.2" r="2.55"/><circle cx="170.2" cy="97.7" r="2.55"/><circle cx="172.4" cy="95.8" r="2.55"/><circle cx="174.6" cy="99" r="2.55"/><circle cx="179.9" cy="100.2" r="2.55"/><circle cx="181.6" cy="95.5" r="2.55"/><circle cx="186" cy="93.3" r="2.55"/><circle cx="186.9" cy="100.3" r="2.55"/><circle cx="191.2" cy="102.1" r="2.55"/><circle cx="191.7" cy="95.9" r="2.55"/><circle cx="196.8" cy="98.6" r="2.55"/><circle cx="153.6" cy="108.7" r="2.55"/><circle cx="158.6" cy="109.5" r="2.55"/><circle cx="160" cy="112.8" r="2.55"/><circle cx="165" cy="106.9" r="2.55"/><circle cx="168.5" cy="106" r="2.55"/><circle cx="172.8" cy="106" r="2.55"/><circle cx="177.7" cy="104.7" r="2.55"/><circle cx="175" cy="109.1" r="2.55"/><circle cx="179.9" cy="110.8" r="2.55"/><circle cx="169.3" cy="112.2" r="2.55"/><circle cx="173.7" cy="112.6" r="2.55"/><circle cx="186" cy="110.8" r="2.55"/><circle cx="189.1" cy="108.2" r="2.55"/><circle cx="199.6" cy="108.7" r="2.55"/><circle cx="146.1" cy="120" r="2.55"/><circle cx="148.6" cy="119.8" r="2.55"/><circle cx="154.3" cy="119.6" r="2.55"/><circle cx="158.4" cy="121.8" r="2.55"/><circle cx="163.6" cy="116.5" r="2.55"/><circle cx="165" cy="121.8" r="2.55"/><circle cx="171.1" cy="117.7" r="2.55"/><circle cx="178.5" cy="116.1" r="2.55"/><circle cx="180.7" cy="117.8" r="2.55"/><circle cx="185.5" cy="116.1" r="2.55"/><circle cx="190.8" cy="115.2" r="2.55"/><circle cx="187.3" cy="120" r="2.55"/><circle cx="191.7" cy="120" r="2.55"/><circle cx="196.1" cy="117.8" r="2.55"/><circle cx="198.7" cy="116.1" r="2.55"/><circle cx="198.2" cy="122.7" r="2.55"/><circle cx="140.9" cy="127.5" r="2.55"/><circle cx="148.1" cy="127.3" r="2.55"/><circle cx="155.3" cy="127" r="2.55"/><circle cx="166.3" cy="127.5" r="2.55"/><circle cx="169.8" cy="124.4" r="2.55"/><circle cx="171.5" cy="127" r="2.55"/><circle cx="174.8" cy="125.3" r="2.55"/><circle cx="177.8" cy="127.9" r="2.55"/><circle cx="181.2" cy="124" r="2.55"/><circle cx="188.2" cy="126.6" r="2.55"/><circle cx="193.9" cy="127.3" r="2.55"/><circle cx="221.6" cy="79.1" r="2.55"/><circle cx="222.3" cy="81.5" r="2.55"/><circle cx="221" cy="84.1" r="2.55"/><circle cx="211.8" cy="81.8" r="2.55"/><circle cx="213.6" cy="85.4" r="2.55"/><circle cx="211.4" cy="88.1" r="2.55"/><circle cx="203.5" cy="85" r="2.55"/><circle cx="207.4" cy="85.4" r="2.55"/><circle cx="201.3" cy="88.9" r="2.55"/><circle cx="204.4" cy="91.1" r="2.55"/><circle cx="221" cy="88.9" r="2.55"/><circle cx="229.6" cy="83.5" r="2.55"/><circle cx="229.6" cy="85.9" r="2.55"/><circle cx="235.9" cy="83.7" r="2.55"/><circle cx="238.5" cy="85.4" r="2.55"/><circle cx="240.3" cy="86.8" r="2.55"/><circle cx="237.7" cy="88.9" r="2.55"/><circle cx="239.4" cy="90.3" r="2.55"/><circle cx="208.3" cy="94.2" r="2.55"/><circle cx="216.6" cy="93.8" r="2.55"/><circle cx="220.1" cy="96.4" r="2.55"/><circle cx="213.1" cy="97.7" r="2.55"/><circle cx="204.8" cy="98.6" r="2.55"/><circle cx="208.8" cy="100.3" r="2.55"/><circle cx="226.7" cy="93.6" r="2.55"/><circle cx="229.3" cy="95.1" r="2.55"/><circle cx="232.8" cy="94.6" r="2.55"/><circle cx="228.5" cy="99.5" r="2.55"/><circle cx="222.9" cy="100.8" r="2.55"/><circle cx="240.1" cy="100.3" r="2.55"/><circle cx="205.3" cy="104.3" r="2.55"/><circle cx="214.9" cy="105.1" r="2.55"/><circle cx="219.4" cy="103.4" r="2.55"/><circle cx="218.8" cy="107.3" r="2.55"/><circle cx="201.8" cy="108.2" r="2.55"/><circle cx="205.3" cy="110" r="2.55"/><circle cx="209.2" cy="110" r="2.55"/><circle cx="213.1" cy="109.5" r="2.55"/><circle cx="225.8" cy="106.9" r="2.55"/><circle cx="231.5" cy="107.3" r="2.55"/><circle cx="235.5" cy="103.8" r="2.55"/><circle cx="238.1" cy="107.3" r="2.55"/><circle cx="233.3" cy="112.2" r="2.55"/><circle cx="201.8" cy="114.8" r="2.55"/><circle cx="206.6" cy="115.2" r="2.55"/><circle cx="216.6" cy="114.8" r="2.55"/><circle cx="224.1" cy="113.5" r="2.55"/><circle cx="226.3" cy="112.6" r="2.55"/><circle cx="224.1" cy="117.8" r="2.55"/><circle cx="210.1" cy="118.3" r="2.55"/><circle cx="213.6" cy="120" r="2.55"/><circle cx="207" cy="119.6" r="2.55"/><circle cx="236.8" cy="121.8" r="2.55"/><circle cx="240.7" cy="122.7" r="2.55"/><circle cx="203.5" cy="122.2" r="2.55"/><circle cx="202.6" cy="126.6" r="2.55"/><circle cx="208.8" cy="124.4" r="2.55"/><circle cx="212.3" cy="127" r="2.55"/><circle cx="218" cy="123.8" r="2.55"/><circle cx="233.3" cy="124.9" r="2.55"/><circle cx="198.6" cy="92.6" r="2.55"/><circle cx="202.8" cy="115.7" r="2.55"/><circle cx="211.8" cy="110.8" r="2.55"/><circle cx="164.7" cy="102.6" r="2.55"/><circle cx="238.4" cy="89.1" r="2.55"/><circle cx="172.7" cy="102.2" r="2.55"/><circle cx="176.2" cy="114.5" r="2.55"/><circle cx="197.7" cy="88.5" r="2.55"/><circle cx="202.2" cy="110.2" r="2.55"/><circle cx="239.8" cy="86.9" r="2.55"/><circle cx="187.7" cy="105.3" r="2.55"/><circle cx="221.6" cy="94.5" r="2.55"/><circle cx="236.3" cy="108.5" r="2.55"/><circle cx="232.4" cy="94.2" r="2.55"/><circle cx="162.3" cy="97.2" r="2.55"/><circle cx="164.2" cy="85.7" r="2.55"/><circle cx="168.2" cy="105" r="2.55"/><circle cx="223.9" cy="93" r="2.55"/><circle cx="176.2" cy="118.8" r="2.55"/><circle cx="168" cy="110" r="2.55"/><circle cx="237.4" cy="124.5" r="2.55"/><circle cx="178.2" cy="88.5" r="2.55"/></g>
<path d="M64 148.6L65 150.2L66 151.8L67 153.4L68 154.9L69 156.3L70 157.7L71 159.1L72 160.5L73 161.8L74 163.2L75 164.5L76 165.8L77 167.1L78 168.4L79 169.5L80 170.6L81 171.6L82 172.5L83 173.3L84 174.1L85 174.9L86 175.7L87 176.4L88 177.2L89 177.9L90 178.5L91 179.1L92 179.7L93.1 180.3L94.1 180.8L95.1 181.3L96.1 181.7L97.1 182.1L98.1 182.5L99.1 182.9L100.1 183.2L101.1 183.5L102.1 183.7L103.1 184L104.1 184.1L105.1 184.3L106.1 184.5L107.1 184.6L108.1 184.7L109.1 184.7L110.1 184.8L111.1 184.8L112.1 184.8L113.1 184.8L114.1 184.8L115.1 184.7L116.1 184.7L117.1 184.6L118.1 184.5L119.1 184.4L120.1 184.3L121.1 184.2L122.1 184L123.1 183.8L124.1 183.6L125.1 183.4L126.1 183.1L127.1 182.9L128.1 182.6L129.1 182.2L130.1 181.8L131.1 181.5L132.1 181L133.1 180.6L134.1 180.1L135.1 179.6L136.1 179.1L137.1 178.5L138.1 177.9L139.1 177.4L140.1 176.8L141.1 176.2L142.1 175.6L143.1 175L144.1 174.3L145.1 173.7L146.1 173L147.1 172.4L148.1 171.7L149.1 171L150.2 170.3L151.2 169.6L152.2 168.9L153.2 168.2L154.2 167.5L155.2 166.8L156.2 166.1L157.2 165.4L158.2 164.7L159.2 164.1L160.2 163.4L161.2 162.8L162.2 162.2L163.2 161.6L164.2 161.1L165.2 160.6L166.2 160L167.2 159.6L168.2 159.1L169.2 158.6L170.2 158.2L171.2 157.8L172.2 157.4L173.2 157L174.2 156.6L175.2 156.3L176.2 155.9L177.2 155.6L178.2 155.3L179.2 155L180.2 154.7L181.2 154.5L182.2 154.2L183.2 154L184.2 153.8L185.2 153.5L186.2 153.3L187.2 153.1L188.2 153L189.2 152.8L190.2 152.7L191.2 152.6L192.2 152.5L193.2 152.5L194.2 152.5L195.2 152.5L196.2 152.6L197.2 152.7L198.2 152.9L199.2 153.1L200.2 153.4L201.2 153.6L202.2 153.8L203.2 154.1L204.2 154.3L205.2 154.4L206.2 154.6L207.3 154.7L208.3 154.8L209.3 154.8L210.3 154.9L211.3 154.9L212.3 154.9L213.3 154.9L214.3 154.8L215.3 154.7L216.3 154.6L217.3 154.5L218.3 154.4L219.3 154.2L220.3 153.9L221.3 153.6L222.3 153.3L223.3 152.9L224.3 152.5L225.3 152L226.3 151.5L227.3 151L228.3 150.4L229.3 149.7L230.3 149L231.3 148.3L232.3 147.6L233.3 146.9L234.3 146.1L235.3 145.3L236.3 144.4L237.3 143.6L238.3 142.7L239.3 141.7L240.3 140.7L241.3 139.7L242.3 138.6L243.3 137.4L244.3 136.3L245.3 135.1L246.3 133.9L247.3 132.7L248.3 131.5L249.3 130.3L250.3 129.1L251.3 127.9L252.3 126.7L253.3 125.5L254.3 124.3L255.3 123.1L256.3 121.9L257.3 120.7L258.3 119.5L259.3 118.3L260.3 117.1L261.3 115.9L262.3 114.7L263.3 113.5L264.4 112.3L265.4 111.1L266.4 109.9L267.4 108.7L268.4 107.5L269.4 106.3L270.4 105.1L271.4 104L272.4 102.8L273.4 101.7L274.4 100.6L275.4 99.5L276.4 98.4L277.4 97.4L278.4 96.3L279.4 95.3L280.4 94.3L281.4 93.3L282.4 92.3L283.4 91.4L284.4 90.5L285.4 89.6L286.4 88.8L287.4 88L288.4 87.2L289.4 86.5L290.4 85.8L291.4 85.1L292.4 84.4L293.4 83.7L294.4 83.1L295.4 82.5L296.4 81.9L297.4 81.3L298.4 80.7L299.4 80.2L300.4 79.6L301.4 79.1L302.4 78.6L303.4 78.1L304.4 77.7L305.4 77.2L306.4 76.8L307.4 76.4L308.4 76L309.4 75.6L310.4 75.2L311.4 74.9L312.4 74.6L313.4 74.2L314.4 74L315.4 73.7L316.4 73.4L317.4 73.2L318.4 73L319.4 72.8L320.5 72.7L321.5 72.5L322.5 72.4L323.5 72.3L324.5 72.2L325.5 72.2L326.5 72.1L327.5 72.1L328.5 72L329.5 72L330.5 72L331.5 72L332.5 72L333.5 72.1L334.5 72.1L335.5 72.2L336.5 72.2L337.5 72.3L338.5 72.4L339.5 72.5L340.5 72.6L341.5 72.7L342.5 72.9L343.5 73.1L344.5 73.2L345.5 73.4L346.5 73.6L347.5 73.8L348.5 74.1L349.5 74.3L350.5 74.6L351.5 74.8L352.5 75.1L353.5 75.4L354.5 75.8L355.5 76.1L356.5 76.5L357.5 76.9L358.5 77.2L359.5 77.6L360.5 78L361.5 78.4L362.5 78.8L363.5 79.2L364.5 79.6L365.5 80L366.5 80.5L367.5 80.9L368.5 81.3L369.5 81.7L370.5 82.2L371.5 82.6L372.5 83L373.5 83.5L374.5 83.9L375.5 84.4L376.5 84.8L377.6 85.3L378.6 85.7L379.6 86.2L380.6 86.6L381.6 87.1L382.6 87.6L383.6 88.1L384.6 88.6L385.6 89.1L386.6 89.6L387.6 90.2L388.6 90.7L389.6 91.3L390.6 91.9L391.6 92.5L392.6 93.1L393.6 93.8L394.6 94.5L395.6 95.2L396.6 95.9L397.6 96.6L398.6 97.4L399.6 98.1L400.6 98.9L401.6 99.7L402.6 100.5L403.6 101.3L404.6 102.1L405.6 102.9L406.6 103.7L407.6 104.5L408.6 105.3L409.6 106.1L410.6 107L411.6 107.8L412.6 108.6L413.6 109.4L414.6 110.2L415.6 111L416.6 111.8L417.6 112.6L418.6 113.4L419.6 114.2L420.6 114.9L421.6 115.7L422.6 116.5L423.6 117.3L424.6 118.1L425.6 118.9L426.6 119.7L427.6 120.5L428.6 121.3L429.6 122.1L430.6 122.8L431.6 123.6L432.6 124.4L433.6 125.2L434.7 125.9L435.7 126.7L436.7 127.4L437.7 128.1L438.7 128.8L439.7 129.5L440.7 130.2L441.7 130.8L442.7 131.5L443.7 132L444.7 132.6L445.7 133.1L446.7 133.7L447.7 134.1L448.7 134.6L449.7 135.1L450.7 135.5L451.7 136L452.7 136.4L453.7 136.9L454.7 137.3L455.7 137.7L456.7 138.1L457.7 138.5L458.7 138.9L459.7 139.3L460.7 139.7L461.7 140.1L462.7 140.5L463.7 140.8L464.7 141.2L465.7 141.5L466.7 141.9L467.7 142.2L468.7 142.5L469.7 142.9L470.7 143.2L471.7 143.5L472.7 143.8L473.7 144.1L474.7 144.3L475.7 144.6L476.7 144.8L477.7 145.1L478.7 145.3L479.7 145.5L480.7 145.7L481.7 145.9L482.7 146.1L483.7 146.2L484.7 146.4L485.7 146.5L486.7 146.6L487.7 146.7L488.7 146.8L489.7 146.9L490.7 147L491.8 147.1L492.8 147.1L493.8 147.2L494.8 147.2L495.8 147.3L496.8 147.3L497.8 147.4L498.8 147.4L499.8 147.4L500.8 147.4L501.8 147.4L502.8 147.4L503.8 147.4L504.8 147.3L505.8 147.3L506.8 147.2L507.8 147.2L508.8 147.1L509.8 147.1L510.8 147L511.8 146.9L512.8 146.8L513.8 146.6L514.8 146.5L515.8 146.3L516.8 146.2L517.8 146L518.8 145.8L519.8 145.6L519.8 364.8L518.8 362.4L517.8 360L516.8 357.6L515.8 355.2L514.8 352.8L513.8 350.5L512.8 348.3L511.8 346L510.8 343.8L509.8 341.6L508.8 339.5L507.8 337.3L506.8 335.2L505.8 333.1L504.8 331L503.8 328.9L502.8 326.8L501.8 324.8L500.8 322.7L499.8 320.7L498.8 318.6L497.8 316.6L496.8 314.6L495.8 312.6L494.8 310.6L493.8 308.6L492.8 306.6L491.8 304.7L490.7 302.7L489.7 300.8L488.7 298.9L487.7 297L486.7 295.1L485.7 293.2L484.7 291.3L483.7 289.4L482.7 287.6L481.7 285.7L480.7 283.9L479.7 282L478.7 280.2L477.7 278.3L476.7 276.5L475.7 274.7L474.7 272.8L473.7 271L472.7 269.2L471.7 267.4L470.7 265.6L469.7 263.9L468.7 262.1L467.7 260.3L466.7 258.6L465.7 256.8L464.7 255L463.7 253.3L462.7 251.6L461.7 249.8L460.7 248.1L459.7 246.5L458.7 244.8L457.7 243.3L456.7 241.8L455.7 240.3L454.7 239L453.7 237.7L452.7 236.5L451.7 235.4L450.7 234.3L449.7 233.3L448.7 232.2L447.7 231.2L446.7 230.2L445.7 229.2L444.7 228.2L443.7 227.2L442.7 226.2L441.7 225.2L440.7 224.2L439.7 223.3L438.7 222.3L437.7 221.3L436.7 220.3L435.7 219.3L434.7 218.3L433.6 217.3L432.6 216.4L431.6 215.4L430.6 214.4L429.6 213.4L428.6 212.4L427.6 211.4L426.6 210.4L425.6 209.5L424.6 208.5L423.6 207.5L422.6 206.5L421.6 205.5L420.6 204.6L419.6 203.6L418.6 202.6L417.6 201.6L416.6 200.7L415.6 199.7L414.6 198.7L413.6 197.7L412.6 196.7L411.6 195.7L410.6 194.7L409.6 193.7L408.6 192.7L407.6 191.6L406.6 190.6L405.6 189.6L404.6 188.6L403.6 187.6L402.6 186.6L401.6 185.7L400.6 184.7L399.6 183.8L398.6 183L397.6 182.1L396.6 181.3L395.6 180.5L394.6 179.7L393.6 179L392.6 178.3L391.6 177.6L390.6 176.9L389.6 176.2L388.6 175.5L387.6 174.8L386.6 174.1L385.6 173.5L384.6 172.8L383.6 172.2L382.6 171.5L381.6 170.9L380.6 170.2L379.6 169.6L378.6 169L377.6 168.3L376.5 167.7L375.5 167.1L374.5 166.5L373.5 165.9L372.5 165.3L371.5 164.7L370.5 164.1L369.5 163.5L368.5 162.9L367.5 162.4L366.5 161.8L365.5 161.2L364.5 160.7L363.5 160.1L362.5 159.6L361.5 159L360.5 158.5L359.5 158L358.5 157.5L357.5 157L356.5 156.5L355.5 156L354.5 155.5L353.5 155L352.5 154.6L351.5 154.2L350.5 153.7L349.5 153.3L348.5 152.9L347.5 152.6L346.5 152.2L345.5 151.9L344.5 151.5L343.5 151.2L342.5 150.9L341.5 150.6L340.5 150.3L339.5 150L338.5 149.7L337.5 149.4L336.5 149.2L335.5 148.9L334.5 148.7L333.5 148.5L332.5 148.3L331.5 148.1L330.5 147.8L329.5 147.7L328.5 147.5L327.5 147.3L326.5 147.1L325.5 147L324.5 146.8L323.5 146.7L322.5 146.5L321.5 146.4L320.5 146.3L319.4 146.2L318.4 146.1L317.4 146.1L316.4 146L315.4 145.9L314.4 145.9L313.4 145.9L312.4 145.9L311.4 145.9L310.4 145.9L309.4 145.9L308.4 146L307.4 146L306.4 146.1L305.4 146.2L304.4 146.3L303.4 146.4L302.4 146.5L301.4 146.6L300.4 146.7L299.4 146.9L298.4 147L297.4 147.2L296.4 147.4L295.4 147.5L294.4 147.7L293.4 147.9L292.4 148.1L291.4 148.3L290.4 148.6L289.4 148.8L288.4 149L287.4 149.3L286.4 149.5L285.4 149.8L284.4 150.1L283.4 150.4L282.4 150.7L281.4 151L280.4 151.3L279.4 151.6L278.4 152L277.4 152.3L276.4 152.7L275.4 153.1L274.4 153.5L273.4 153.9L272.4 154.3L271.4 154.8L270.4 155.2L269.4 155.7L268.4 156.1L267.4 156.6L266.4 157.1L265.4 157.6L264.4 158.1L263.3 158.6L262.3 159.2L261.3 159.8L260.3 160.4L259.3 161.1L258.3 161.8L257.3 162.5L256.3 163.3L255.3 164.1L254.3 165L253.3 165.8L252.3 166.7L251.3 167.6L250.3 168.4L249.3 169.3L248.3 170.2L247.3 171.1L246.3 171.9L245.3 172.8L244.3 173.7L243.3 174.6L242.3 175.5L241.3 176.3L240.3 177.2L239.3 178.1L238.3 179L237.3 179.8L236.3 180.7L235.3 181.5L234.3 182.3L233.3 183L232.3 183.7L231.3 184.3L230.3 184.9L229.3 185.5L228.3 186.1L227.3 186.6L226.3 187.1L225.3 187.7L224.3 188.2L223.3 188.6L222.3 189.1L221.3 189.5L220.3 189.9L219.3 190.2L218.3 190.5L217.3 190.7L216.3 190.8L215.3 190.9L214.3 191L213.3 191L212.3 190.9L211.3 190.8L210.3 190.7L209.3 190.5L208.3 190.3L207.3 190.1L206.2 189.8L205.2 189.5L204.2 189.2L203.2 188.8L202.2 188.4L201.2 188.1L200.2 187.7L199.2 187.4L198.2 187.1L197.2 186.9L196.2 186.8L195.2 186.7L194.2 186.6L193.2 186.6L192.2 186.6L191.2 186.7L190.2 186.7L189.2 186.8L188.2 186.9L187.2 187L186.2 187.2L185.2 187.3L184.2 187.5L183.2 187.6L182.2 187.8L181.2 188.1L180.2 188.4L179.2 188.7L178.2 189.1L177.2 189.5L176.2 190L175.2 190.6L174.2 191.1L173.2 191.8L172.2 192.5L171.2 193.2L170.2 194L169.2 194.8L168.2 195.6L167.2 196.4L166.2 197.3L165.2 198.2L164.2 199.1L163.2 200L162.2 200.9L161.2 201.9L160.2 202.9L159.2 203.9L158.2 205L157.2 206L156.2 207.1L155.2 208.1L154.2 209.2L153.2 210.2L152.2 211.2L151.2 212.3L150.2 213.3L149.1 214.3L148.1 215.3L147.1 216.4L146.1 217.4L145.1 218.4L144.1 219.4L143.1 220.5L142.1 221.5L141.1 222.5L140.1 223.4L139.1 224.4L138.1 225.4L137.1 226.4L136.1 227.4L135.1 228.4L134.1 229.4L133.1 230.4L132.1 231.5L131.1 232.5L130.1 233.6L129.1 234.7L128.1 235.8L127.1 237L126.1 238.1L125.1 239.3L124.1 240.5L123.1 241.7L122.1 242.9L121.1 244.2L120.1 245.5L119.1 246.8L118.1 248.2L117.1 249.6L116.1 251L115.1 252.4L114.1 253.9L113.1 255.3L112.1 256.8L111.1 258.3L110.1 259.8L109.1 261.3L108.1 262.8L107.1 264.4L106.1 266L105.1 267.6L104.1 269.3L103.1 271L102.1 272.9L101.1 274.8L100.1 276.8L99.1 278.9L98.1 281L97.1 283.3L96.1 285.6L95.1 287.9L94.1 290.3L93.1 292.8L92 295.4L91 298L90 300.7L89 303.4L88 306.2L87 308.9L86 311.7L85 314.5L84 317.3L83 320.1L82 322.9L81 325.8L80 328.6L79 331.6L78 334.6L77 337.6L76 340.8L75 343.9L74 347.1L73 350.3L72 353.5L71 356.8L70 360L69 363.3L68 366.5L67 369.8L66 373.1L65 376.5L64 379.8Z" fill="#999999" fill-opacity="0.4" stroke="none"/>
<path d="M64.2 264.4L65.2 263.4L66.2 262.5L67.2 261.5L68.2 260.5L69.2 259.6L70.2 258.6L71.2 257.6L72.2 256.7L73.2 255.7L74.2 254.8L75.2 253.9L76.2 252.9L77.2 252L78.2 251.1L79.2 250.2L80.2 249.2L81.2 248.3L82.2 247.4L83.2 246.5L84.2 245.6L85.2 244.7L86.2 243.8L87.2 242.9L88.2 242L89.2 241.1L90.2 240.3L91.2 239.4L92.2 238.5L93.2 237.6L94.2 236.7L95.2 235.8L96.2 234.9L97.2 234L98.2 233.1L99.2 232.2L100.2 231.4L101.2 230.5L102.3 229.7L103.3 228.8L104.3 228L105.3 227.2L106.3 226.4L107.3 225.6L108.3 224.9L109.3 224.1L110.3 223.4L111.3 222.6L112.3 221.9L113.3 221.1L114.3 220.4L115.3 219.6L116.3 218.8L117.3 218.1L118.3 217.3L119.3 216.6L120.3 215.8L121.3 215L122.3 214.3L123.3 213.5L124.3 212.7L125.3 212L126.3 211.2L127.3 210.4L128.3 209.7L129.3 208.9L130.3 208.2L131.3 207.4L132.3 206.7L133.3 205.9L134.3 205.2L135.3 204.5L136.3 203.7L137.3 203L138.3 202.3L139.3 201.6L140.3 200.9L141.3 200.2L142.3 199.5L143.3 198.8L144.3 198.1L145.3 197.4L146.3 196.7L147.3 196L148.3 195.3L149.3 194.6L150.3 193.9L151.3 193.2L152.3 192.5L153.3 191.9L154.3 191.2L155.3 190.5L156.3 189.8L157.3 189.1L158.3 188.3L159.3 187.6L160.3 186.9L161.3 186.1L162.3 185.3L163.3 184.5L164.3 183.7L165.3 182.9L166.3 182.1L167.3 181.2L168.3 180.4L169.3 179.7L170.3 178.9L171.3 178.1L172.3 177.4L173.3 176.6L174.3 176L175.3 175.3L176.3 174.7L177.3 174.2L178.4 173.7L179.4 173.2L180.4 172.7L181.4 172.3L182.4 171.9L183.4 171.5L184.4 171.2L185.4 170.9L186.4 170.6L187.4 170.4L188.4 170.2L189.4 170.1L190.4 170L191.4 169.9L192.4 169.9L193.4 169.9L194.4 169.9L195.4 170L196.4 170.1L197.4 170.2L198.4 170.4L199.4 170.6L200.4 170.9L201.4 171.1L202.4 171.4L203.4 171.8L204.4 172L205.4 172.3L206.4 172.5L207.4 172.7L208.4 172.8L209.4 172.8L210.4 172.8L211.4 172.8L212.4 172.7L213.4 172.6L214.4 172.5L215.4 172.3L216.4 172.1L217.4 171.9L218.4 171.6L219.4 171.3L220.4 171L221.4 170.6L222.4 170.2L223.4 169.8L224.4 169.3L225.4 168.8L226.4 168.3L227.4 167.7L228.4 167.1L229.4 166.4L230.4 165.7L231.4 164.9L232.4 164.1L233.4 163.3L234.4 162.5L235.4 161.6L236.4 160.6L237.4 159.7L238.4 158.7L239.4 157.7L240.4 156.7L241.4 155.7L242.4 154.7L243.4 153.7L244.4 152.6L245.4 151.6L246.4 150.5L247.4 149.4L248.4 148.3L249.4 147.1L250.4 146L251.4 144.9L252.4 143.7L253.4 142.6L254.5 141.5L255.5 140.4L256.5 139.4L257.5 138.4L258.5 137.4L259.5 136.4L260.5 135.5L261.5 134.5L262.5 133.6L263.5 132.7L264.5 131.9L265.5 131L266.5 130.2L267.5 129.4L268.5 128.6L269.5 127.8L270.5 127L271.5 126.3L272.5 125.5L273.5 124.8L274.5 124.1L275.5 123.4L276.5 122.7L277.5 122.1L278.5 121.4L279.5 120.8L280.5 120.2L281.5 119.6L282.5 119L283.5 118.4L284.5 117.8L285.5 117.3L286.5 116.8L287.5 116.3L288.5 115.8L289.5 115.3L290.5 114.9L291.5 114.5L292.5 114.1L293.5 113.7L294.5 113.4L295.5 113.1L296.5 112.8L297.5 112.5L298.5 112.2L299.5 112L300.5 111.7L301.5 111.5L302.5 111.3L303.5 111.1L304.5 110.9L305.5 110.8L306.5 110.6L307.5 110.5L308.5 110.4L309.5 110.2L310.5 110.1L311.5 110L312.5 109.9L313.5 109.8L314.5 109.7L315.5 109.6L316.5 109.5L317.5 109.5L318.5 109.4L319.5 109.3L320.5 109.3L321.5 109.3L322.5 109.2L323.5 109.2L324.5 109.2L325.5 109.2L326.5 109.2L327.5 109.2L328.5 109.3L329.5 109.3L330.6 109.4L331.6 109.5L332.6 109.6L333.6 109.8L334.6 109.9L335.6 110.1L336.6 110.3L337.6 110.5L338.6 110.7L339.6 110.9L340.6 111.2L341.6 111.4L342.6 111.7L343.6 112L344.6 112.3L345.6 112.6L346.6 112.9L347.6 113.2L348.6 113.5L349.6 113.8L350.6 114.2L351.6 114.5L352.6 114.9L353.6 115.3L354.6 115.7L355.6 116.1L356.6 116.6L357.6 117L358.6 117.5L359.6 117.9L360.6 118.4L361.6 118.8L362.6 119.3L363.6 119.8L364.6 120.2L365.6 120.7L366.6 121.1L367.6 121.6L368.6 122L369.6 122.5L370.6 122.9L371.6 123.4L372.6 123.8L373.6 124.3L374.6 124.7L375.6 125.2L376.6 125.6L377.6 126.1L378.6 126.6L379.6 127.1L380.6 127.5L381.6 128.1L382.6 128.6L383.6 129.1L384.6 129.6L385.6 130.2L386.6 130.8L387.6 131.3L388.6 131.9L389.6 132.5L390.6 133.1L391.6 133.8L392.6 134.4L393.6 135.1L394.6 135.7L395.6 136.4L396.6 137.1L397.6 137.9L398.6 138.6L399.6 139.3L400.6 140.1L401.6 140.8L402.6 141.6L403.6 142.4L404.6 143.2L405.6 143.9L406.7 144.7L407.7 145.5L408.7 146.3L409.7 147.1L410.7 148L411.7 148.8L412.7 149.6L413.7 150.5L414.7 151.3L415.7 152.2L416.7 153.1L417.7 154L418.7 154.9L419.7 155.7L420.7 156.6L421.7 157.5L422.7 158.4L423.7 159.3L424.7 160.2L425.7 161.1L426.7 162L427.7 162.9L428.7 163.8L429.7 164.7L430.7 165.6L431.7 166.5L432.7 167.4L433.7 168.3L434.7 169.2L435.7 170.1L436.7 171.1L437.7 172L438.7 172.9L439.7 173.9L440.7 174.9L441.7 175.9L442.7 176.8L443.7 177.8L444.7 178.8L445.7 179.8L446.7 180.8L447.7 181.8L448.7 182.8L449.7 183.8L450.7 184.8L451.7 185.8L452.7 186.8L453.7 187.8L454.7 188.8L455.7 189.8L456.7 190.8L457.7 191.8L458.7 192.8L459.7 193.8L460.7 194.8L461.7 195.8L462.7 196.8L463.7 197.8L464.7 198.8L465.7 199.8L466.7 200.8L467.7 201.8L468.7 202.8L469.7 203.8L470.7 204.8L471.7 205.8L472.7 206.8L473.7 207.8L474.7 208.8L475.7 209.8L476.7 210.8L477.7 211.8L478.7 212.9L479.7 213.9L480.7 214.9L481.7 215.9L482.8 216.9L483.8 217.9L484.8 218.9L485.8 219.9L486.8 220.9L487.8 221.9L488.8 223L489.8 224L490.8 225L491.8 226L492.8 227.1L493.8 228.1L494.8 229.1L495.8 230.2L496.8 231.3L497.8 232.3L498.8 233.4L499.8 234.5L500.8 235.6L501.8 236.7L502.8 237.7L503.8 238.8L504.8 239.9L505.8 241L506.8 242L507.8 243.1L508.8 244.1L509.8 245.2L510.8 246.2L511.8 247.2L512.8 248.2L513.8 249.2L514.8 250.2L515.8 251.1L516.8 252.1L517.8 253.1L518.8 254L519.8 255" fill="none" stroke="#858585" stroke-width="4.1" stroke-linejoin="round"/>
<line x1="337.2" y1="384.3" x2="337.2" y2="64.5" stroke="#000" stroke-width="2.4" stroke-dasharray="9 8.47"/>
<path d="M55.4 384.3V377.9M105 384.3V377.9M140.2 384.3V377.9M167.5 384.3V372.3M189.8 384.3V377.9M208.7 384.3V377.9M225 384.3V377.9M239.4 384.3V377.9M252.3 384.3V366.5M337.1 384.3V377.9M386.7 384.3V377.9M421.9 384.3V377.9M449.2 384.3V372.3M471.5 384.3V377.9M490.4 384.3V377.9M506.7 384.3V377.9M521.1 384.3V377.9M534 384.3V366.5" stroke="#000" stroke-width="2.3" fill="none"/>
</g>
<path d="M105 384.3V389.9M252.3 384.3V389.9M386.7 384.3V389.9M534 384.3V389.9M35 103.3H29.3M35 224.5H29.3M35 345.6H29.3M553.4 103.3H559.1M553.4 345.6H559.1" stroke="#333333" stroke-width="2.3" fill="none"/>
<g font-size="17.6" fill="#4D4D4D"><text x="105" y="407.9" text-anchor="middle">30</text><text x="252.3" y="407.9" text-anchor="middle">100</text><text x="386.7" y="407.9" text-anchor="middle">300</text><text x="534" y="407.9" text-anchor="middle">1000</text><text x="24.7" y="109.6" text-anchor="end">1</text><text x="24.7" y="230.8" text-anchor="end">0.5</text><text x="24.7" y="351.9" text-anchor="end">0</text><text x="563.6" y="110.3">AKI</text><text x="563.6" y="352.6">No AKI</text></g><text x="294.2" y="427.5" text-anchor="middle" font-size="16.4" fill="#000">Adm. endostatin (ng/mL)</text><text transform="translate(673 224.4) rotate(90)" text-anchor="middle" font-size="16.4" fill="#000">AKI</text><text x="34.9" y="20" font-size="27.3" fill="#000">(a)</text>
<clipPath id="clip_b"><rect x="35" y="556.5" width="521" height="319.9"/></clipPath>
<path d="M58.5 552.6L59.5 552.5L60.5 552.3L61.5 552.1L62.5 552L63.5 551.8L64.5 551.6L65.5 551.4L66.5 551.2L67.5 551L68.5 550.8L69.5 550.6L70.5 550.3L71.5 550.1L72.5 549.8L73.5 549.5L74.5 549.2L75.5 548.9L76.5 548.6L77.5 548.2L78.5 547.9L79.5 547.5L80.5 547.2L81.5 546.8L82.5 546.5L83.5 546.1L84.5 545.8L85.5 545.4L86.5 545.1L87.5 544.7L88.5 544.4L89.5 544L90.5 543.7L91.5 543.4L92.5 543.1L93.5 542.8L94.5 542.6L95.5 542.4L96.5 542.2L97.5 542L98.5 541.8L99.5 541.6L100.5 541.4L101.5 541.2L102.5 541L103.5 540.8L104.5 540.6L105.5 540.4L106.6 540.2L107.6 540L108.6 539.8L109.6 539.6L110.6 539.4L111.6 539.2L112.6 539L113.6 538.7L114.6 538.4L115.6 538.1L116.6 537.8L117.6 537.4L118.6 537L119.6 536.5L120.6 536L121.6 535.5L122.6 534.9L123.6 534.2L124.6 533.5L125.6 532.8L126.6 531.9L127.6 531L128.6 530.1L129.6 529L130.6 527.9L131.6 526.8L132.6 525.6L133.6 524.4L134.6 523.2L135.6 522L136.6 520.7L137.6 519.4L138.6 518L139.6 516.7L140.6 515.3L141.6 513.9L142.6 512.5L143.6 511.1L144.6 509.8L145.6 508.5L146.6 507.3L147.6 506.3L148.6 505.3L149.6 504.4L150.6 503.5L151.6 502.7L152.6 502L153.6 501.3L154.6 500.7L155.6 500.2L156.6 499.7L157.6 499.3L158.6 499L159.6 498.7L160.6 498.5L161.6 498.3L162.6 498.2L163.6 498L164.6 497.9L165.6 497.8L166.6 497.7L167.6 497.6L168.6 497.6L169.6 497.5L170.6 497.5L171.6 497.5L172.6 497.4L173.6 497.3L174.6 497.2L175.6 497.1L176.6 497L177.6 496.8L178.6 496.7L179.6 496.5L180.6 496.4L181.6 496.2L182.6 496.1L183.6 495.9L184.6 495.8L185.6 495.6L186.6 495.5L187.6 495.3L188.6 495.2L189.6 495.1L190.6 495L191.6 495L192.6 495L193.6 495L194.6 495.1L195.6 495.2L196.6 495.4L197.6 495.7L198.6 496L199.6 496.4L200.7 496.9L201.7 497.4L202.7 498L203.7 498.6L204.7 499.2L205.7 499.9L206.7 500.6L207.7 501.3L208.7 502L209.7 502.7L210.7 503.5L211.7 504.2L212.7 504.9L213.7 505.7L214.7 506.4L215.7 507.1L216.7 507.8L217.7 508.6L218.7 509.3L219.7 510L220.7 510.6L221.7 511.3L222.7 512L223.7 512.7L224.7 513.4L225.7 514.1L226.7 514.7L227.7 515.4L228.7 516.1L229.7 516.8L230.7 517.5L231.7 518.1L232.7 518.8L233.7 519.5L234.7 520.2L235.7 520.9L236.7 521.6L237.7 522.3L238.7 523L239.7 523.7L240.7 524.4L241.7 525.1L242.7 525.9L243.7 526.6L244.7 527.4L245.7 528.2L246.7 528.9L247.7 529.7L248.7 530.4L249.7 531.2L250.7 531.9L251.7 532.6L252.7 533.3L253.7 533.9L254.7 534.6L255.7 535.2L256.7 535.8L257.7 536.3L258.7 536.9L259.7 537.5L260.7 538L261.7 538.6L262.7 539.1L263.7 539.7L264.7 540.2L265.7 540.7L266.7 541.2L267.7 541.7L268.7 542.2L269.7 542.6L270.7 543L271.7 543.4L272.7 543.8L273.7 544.2L274.7 544.5L275.7 544.9L276.7 545.2L277.7 545.5L278.7 545.9L279.7 546.2L280.7 546.5L281.7 546.8L282.7 547.1L283.7 547.3L284.7 547.6L285.7 547.8L286.7 548.1L287.7 548.3L288.7 548.5L289.7 548.7L290.7 548.9L291.7 549L292.7 549.2L293.7 549.4L294.7 549.5L295.8 549.7L296.8 549.9L297.8 550L298.8 550.1L299.8 550.3L300.8 550.4L301.8 550.5L302.8 550.6L303.8 550.7L304.8 550.8L305.8 550.9L306.8 551L307.8 551.1L308.8 551.2L309.8 551.2L310.8 551.3L311.8 551.4L312.8 551.5L313.8 551.6L314.8 551.7L315.8 551.8L316.8 551.8L317.8 551.9L318.8 552L319.8 552.1L320.8 552.2L321.8 552.2L322.8 552.3L323.8 552.4L324.8 552.4L325.8 552.5L326.8 552.5L327.8 552.6L328.8 552.6L329.8 552.7L330.8 552.7L331.8 552.7L332.8 552.8L333.8 552.8L334.8 552.8L335.8 552.8L336.8 552.8L337.8 552.9L338.8 552.9L339.8 552.9L340.8 552.9L341.8 552.9L342.8 553L343.8 553L344.8 553L345.8 553L346.8 553L347.8 553L348.8 553L349.8 553L350.8 553L351.8 553L352.8 553L353.8 553L354.8 553L355.8 553L356.8 553L357.8 553L358.8 553L359.8 553L360.8 553L361.8 553L362.8 553L363.8 553L364.8 553L365.8 553L366.8 553L367.8 553L368.8 553L369.8 553L370.8 553L371.8 553L372.8 553L373.8 553L374.8 553L375.8 553L376.8 553L377.8 553L378.8 553L379.8 553L380.8 553L381.8 553L382.8 553L383.8 553L384.8 553L385.8 553L386.8 553L387.8 553L388.8 553L389.8 553L390.9 553L391.9 553L392.9 553L393.9 553L394.9 553L395.9 553L396.9 553L397.9 553L398.9 553L399.9 553L400.9 553L401.9 553L402.9 553L403.9 553L404.9 552.9L405.9 552.9L406.9 552.9L407.9 552.9L408.9 552.8L409.9 552.8L410.9 552.8L411.9 552.8L412.9 552.7L413.9 552.7L414.9 552.7L415.9 552.7L416.9 552.7L417.9 552.6L418.9 552.6L419.9 552.6L420.9 552.6L421.9 552.5L422.9 552.5L423.9 552.5L424.9 552.5L425.9 552.4L426.9 552.4L427.9 552.4L428.9 552.4L429.9 552.4L430.9 552.5L431.9 552.5L432.9 552.5L433.9 552.6L434.9 552.6L435.9 552.6L436.9 552.7L437.9 552.7L438.9 552.7L439.9 552.8L440.9 552.8L441.9 552.8L442.9 552.9L443.9 552.9L444.9 552.9L445.9 553L446.9 553L447.9 553L448.9 553L449.9 553L450.9 553L451.9 553L452.9 553L453.9 553L454.9 553L455.9 553L456.9 553L457.9 553L458.9 553L459.9 553L460.9 553L461.9 553L462.9 553L463.9 553L464.9 553L465.9 553L466.9 553L467.9 553L468.9 553L469.9 553L470.9 553L471.9 553L472.9 553L473.9 553L474.9 553L475.9 553L476.9 553L477.9 553L478.9 553L479.9 553L480.9 553L481.9 553L482.9 553L483.9 553L485 553L486 553L487 553L488 553L489 553L490 553L491 553L492 553L493 553L494 553L495 553L496 553L497 553L498 553L499 553L500 553L501 553L502 553L503 553L504 553L505 553L506 553L507 553L508 553L509 553L510 553L511 553L512 553L513 553L514 553L515 553L516 553L517 553L518 553L519 553L520 553L521 553L522 553L523 553L524 553L525 553L526 553L527 553L528 553L529 553L530 553L531 553L532 553L532 553L58.5 553Z" fill="#1B9E77" fill-opacity="0.5" stroke="none"/>
<path d="M58.5 552.6L59.5 552.5L60.5 552.4L61.5 552.3L62.5 552.2L63.5 552.1L64.5 552L65.5 551.9L66.5 551.7L67.5 551.6L68.5 551.5L69.5 551.4L70.5 551.3L71.5 551.2L72.5 551.1L73.5 551L74.5 550.9L75.5 550.8L76.5 550.7L77.5 550.6L78.5 550.5L79.5 550.4L80.5 550.3L81.5 550.2L82.5 550L83.5 549.9L84.5 549.8L85.5 549.7L86.5 549.6L87.5 549.4L88.5 549.3L89.5 549.2L90.5 549L91.5 548.9L92.5 548.7L93.5 548.5L94.5 548.4L95.5 548.2L96.5 548L97.5 547.8L98.5 547.7L99.5 547.5L100.5 547.3L101.5 547.1L102.5 546.9L103.5 546.7L104.5 546.5L105.5 546.3L106.6 546.1L107.6 545.9L108.6 545.7L109.6 545.5L110.6 545.3L111.6 545.1L112.6 544.9L113.6 544.7L114.6 544.5L115.6 544.3L116.6 544.1L117.6 543.9L118.6 543.7L119.6 543.4L120.6 543.2L121.6 543L122.6 542.8L123.6 542.6L124.6 542.3L125.6 542.1L126.6 541.9L127.6 541.6L128.6 541.4L129.6 541.1L130.6 540.9L131.6 540.6L132.6 540.3L133.6 540.1L134.6 539.8L135.6 539.5L136.6 539.3L137.6 539L138.6 538.8L139.6 538.6L140.6 538.3L141.6 538.1L142.6 537.8L143.6 537.6L144.6 537.3L145.6 537L146.6 536.7L147.6 536.3L148.6 536L149.6 535.6L150.6 535.2L151.6 534.8L152.6 534.4L153.6 533.9L154.6 533.4L155.6 532.9L156.6 532.3L157.6 531.7L158.6 531.1L159.6 530.5L160.6 529.8L161.6 529.2L162.6 528.5L163.6 527.8L164.6 527.1L165.6 526.3L166.6 525.6L167.6 524.9L168.6 524.2L169.6 523.5L170.6 522.8L171.6 522.1L172.6 521.4L173.6 520.8L174.6 520.1L175.6 519.4L176.6 518.8L177.6 518.2L178.6 517.6L179.6 517.1L180.6 516.5L181.6 516L182.6 515.4L183.6 514.9L184.6 514.4L185.6 513.9L186.6 513.5L187.6 513L188.6 512.7L189.6 512.3L190.6 512L191.6 511.7L192.6 511.5L193.6 511.2L194.6 511L195.6 510.8L196.6 510.6L197.6 510.4L198.6 510.3L199.6 510.2L200.7 510L201.7 509.9L202.7 509.9L203.7 509.8L204.7 509.8L205.7 509.7L206.7 509.7L207.7 509.7L208.7 509.8L209.7 509.8L210.7 509.8L211.7 509.9L212.7 509.9L213.7 510L214.7 510.1L215.7 510.1L216.7 510.2L217.7 510.3L218.7 510.4L219.7 510.5L220.7 510.5L221.7 510.6L222.7 510.7L223.7 510.8L224.7 510.8L225.7 510.9L226.7 511L227.7 511.1L228.7 511.1L229.7 511.2L230.7 511.2L231.7 511.2L232.7 511.3L233.7 511.3L234.7 511.3L235.7 511.3L236.7 511.3L237.7 511.3L238.7 511.4L239.7 511.4L240.7 511.4L241.7 511.4L242.7 511.5L243.7 511.5L244.7 511.5L245.7 511.6L246.7 511.6L247.7 511.7L248.7 511.8L249.7 511.8L250.7 511.9L251.7 511.9L252.7 512L253.7 512.1L254.7 512.1L255.7 512.2L256.7 512.4L257.7 512.5L258.7 512.6L259.7 512.8L260.7 513L261.7 513.2L262.7 513.4L263.7 513.6L264.7 513.8L265.7 514.1L266.7 514.4L267.7 514.7L268.7 514.9L269.7 515.2L270.7 515.6L271.7 515.9L272.7 516.2L273.7 516.5L274.7 516.8L275.7 517.1L276.7 517.4L277.7 517.7L278.7 518L279.7 518.4L280.7 518.7L281.7 519.1L282.7 519.5L283.7 519.9L284.7 520.3L285.7 520.7L286.7 521.1L287.7 521.5L288.7 521.9L289.7 522.3L290.7 522.7L291.7 523.1L292.7 523.5L293.7 523.9L294.7 524.2L295.8 524.6L296.8 524.9L297.8 525.3L298.8 525.6L299.8 526L300.8 526.5L301.8 526.9L302.8 527.5L303.8 528L304.8 528.5L305.8 529.1L306.8 529.6L307.8 530.2L308.8 530.8L309.8 531.3L310.8 531.8L311.8 532.4L312.8 532.9L313.8 533.5L314.8 534.1L315.8 534.6L316.8 535.2L317.8 535.8L318.8 536.5L319.8 537.1L320.8 537.7L321.8 538.3L322.8 538.9L323.8 539.4L324.8 540L325.8 540.6L326.8 541.1L327.8 541.7L328.8 542.2L329.8 542.7L330.8 543.2L331.8 543.7L332.8 544.2L333.8 544.7L334.8 545.2L335.8 545.6L336.8 546.1L337.8 546.5L338.8 546.9L339.8 547.3L340.8 547.7L341.8 548.1L342.8 548.5L343.8 548.8L344.8 549.2L345.8 549.5L346.8 549.8L347.8 550.1L348.8 550.4L349.8 550.7L350.8 551L351.8 551.3L352.8 551.5L353.8 551.7L354.8 551.9L355.8 552.1L356.8 552.2L357.8 552.3L358.8 552.4L359.8 552.5L360.8 552.6L361.8 552.6L362.8 552.7L363.8 552.7L364.8 552.7L365.8 552.8L366.8 552.8L367.8 552.8L368.8 552.8L369.8 552.8L370.8 552.8L371.8 552.8L372.8 552.8L373.8 552.8L374.8 552.8L375.8 552.8L376.8 552.8L377.8 552.7L378.8 552.7L379.8 552.7L380.8 552.7L381.8 552.6L382.8 552.6L383.8 552.5L384.8 552.5L385.8 552.4L386.8 552.4L387.8 552.3L388.8 552.3L389.8 552.2L390.9 552.1L391.9 552.1L392.9 552L393.9 551.9L394.9 551.8L395.9 551.8L396.9 551.7L397.9 551.6L398.9 551.5L399.9 551.4L400.9 551.3L401.9 551.2L402.9 551.1L403.9 551L404.9 550.9L405.9 550.8L406.9 550.7L407.9 550.6L408.9 550.5L409.9 550.4L410.9 550.3L411.9 550.2L412.9 550.1L413.9 550.1L414.9 550L415.9 549.9L416.9 549.8L417.9 549.8L418.9 549.7L419.9 549.6L420.9 549.6L421.9 549.5L422.9 549.4L423.9 549.4L424.9 549.4L425.9 549.3L426.9 549.3L427.9 549.3L428.9 549.3L429.9 549.3L430.9 549.3L431.9 549.4L432.9 549.4L433.9 549.5L434.9 549.5L435.9 549.6L436.9 549.7L437.9 549.8L438.9 549.9L439.9 550L440.9 550.1L441.9 550.2L442.9 550.3L443.9 550.4L444.9 550.5L445.9 550.6L446.9 550.7L447.9 550.9L448.9 551L449.9 551.1L450.9 551.2L451.9 551.4L452.9 551.5L453.9 551.6L454.9 551.7L455.9 551.8L456.9 551.9L457.9 552L458.9 552L459.9 552.1L460.9 552.2L461.9 552.2L462.9 552.3L463.9 552.3L464.9 552.4L465.9 552.4L466.9 552.4L467.9 552.5L468.9 552.5L469.9 552.5L470.9 552.5L471.9 552.5L472.9 552.5L473.9 552.5L474.9 552.5L475.9 552.5L476.9 552.5L477.9 552.5L478.9 552.5L479.9 552.5L480.9 552.5L481.9 552.5L482.9 552.5L483.9 552.5L485 552.5L486 552.5L487 552.5L488 552.5L489 552.5L490 552.5L491 552.5L492 552.5L493 552.5L494 552.5L495 552.5L496 552.5L497 552.5L498 552.5L499 552.5L500 552.5L501 552.5L502 552.5L503 552.5L504 552.5L505 552.5L506 552.5L507 552.5L508 552.5L509 552.5L510 552.5L511 552.5L512 552.5L513 552.5L514 552.5L515 552.5L516 552.5L517 552.5L518 552.5L519 552.6L520 552.6L521 552.6L522 552.6L523 552.6L524 552.6L525 552.6L526 552.6L527 552.6L528 552.6L529 552.6L530 552.6L531 552.6L532 552.6L532 553L58.5 553Z" fill="#D95F02" fill-opacity="0.5" stroke="none"/>
<path d="M58.5 552.6L59.5 552.5L60.5 552.3L61.5 552.1L62.5 552L63.5 551.8L64.5 551.6L65.5 551.4L66.5 551.2L67.5 551L68.5 550.8L69.5 550.6L70.5 550.3L71.5 550.1L72.5 549.8L73.5 549.5L74.5 549.2L75.5 548.9L76.5 548.6L77.5 548.2L78.5 547.9L79.5 547.5L80.5 547.2L81.5 546.8L82.5 546.5L83.5 546.1L84.5 545.8L85.5 545.4L86.5 545.1L87.5 544.7L88.5 544.4L89.5 544L90.5 543.7L91.5 543.4L92.5 543.1L93.5 542.8L94.5 542.6L95.5 542.4L96.5 542.2L97.5 542L98.5 541.8L99.5 541.6L100.5 541.4L101.5 541.2L102.5 541L103.5 540.8L104.5 540.6L105.5 540.4L106.6 540.2L107.6 540L108.6 539.8L109.6 539.6L110.6 539.4L111.6 539.2L112.6 539L113.6 538.7L114.6 538.4L115.6 538.1L116.6 537.8L117.6 537.4L118.6 537L119.6 536.5L120.6 536L121.6 535.5L122.6 534.9L123.6 534.2L124.6 533.5L125.6 532.8L126.6 531.9L127.6 531L128.6 530.1L129.6 529L130.6 527.9L131.6 526.8L132.6 525.6L133.6 524.4L134.6 523.2L135.6 522L136.6 520.7L137.6 519.4L138.6 518L139.6 516.7L140.6 515.3L141.6 513.9L142.6 512.5L143.6 511.1L144.6 509.8L145.6 508.5L146.6 507.3L147.6 506.3L148.6 505.3L149.6 504.4L150.6 503.5L151.6 502.7L152.6 502L153.6 501.3L154.6 500.7L155.6 500.2L156.6 499.7L157.6 499.3L158.6 499L159.6 498.7L160.6 498.5L161.6 498.3L162.6 498.2L163.6 498L164.6 497.9L165.6 497.8L166.6 497.7L167.6 497.6L168.6 497.6L169.6 497.5L170.6 497.5L171.6 497.5L172.6 497.4L173.6 497.3L174.6 497.2L175.6 497.1L176.6 497L177.6 496.8L178.6 496.7L179.6 496.5L180.6 496.4L181.6 496.2L182.6 496.1L183.6 495.9L184.6 495.8L185.6 495.6L186.6 495.5L187.6 495.3L188.6 495.2L189.6 495.1L190.6 495L191.6 495L192.6 495L193.6 495L194.6 495.1L195.6 495.2L196.6 495.4L197.6 495.7L198.6 496L199.6 496.4L200.7 496.9L201.7 497.4L202.7 498L203.7 498.6L204.7 499.2L205.7 499.9L206.7 500.6L207.7 501.3L208.7 502L209.7 502.7L210.7 503.5L211.7 504.2L212.7 504.9L213.7 505.7L214.7 506.4L215.7 507.1L216.7 507.8L217.7 508.6L218.7 509.3L219.7 510L220.7 510.6L221.7 511.3L222.7 512L223.7 512.7L224.7 513.4L225.7 514.1L226.7 514.7L227.7 515.4L228.7 516.1L229.7 516.8L230.7 517.5L231.7 518.1L232.7 518.8L233.7 519.5L234.7 520.2L235.7 520.9L236.7 521.6L237.7 522.3L238.7 523L239.7 523.7L240.7 524.4L241.7 525.1L242.7 525.9L243.7 526.6L244.7 527.4L245.7 528.2L246.7 528.9L247.7 529.7L248.7 530.4L249.7 531.2L250.7 531.9L251.7 532.6L252.7 533.3L253.7 533.9L254.7 534.6L255.7 535.2L256.7 535.8L257.7 536.3L258.7 536.9L259.7 537.5L260.7 538L261.7 538.6L262.7 539.1L263.7 539.7L264.7 540.2L265.7 540.7L266.7 541.2L267.7 541.7L268.7 542.2L269.7 542.6L270.7 543L271.7 543.4L272.7 543.8L273.7 544.2L274.7 544.5L275.7 544.9L276.7 545.2L277.7 545.5L278.7 545.9L279.7 546.2L280.7 546.5L281.7 546.8L282.7 547.1L283.7 547.3L284.7 547.6L285.7 547.8L286.7 548.1L287.7 548.3L288.7 548.5L289.7 548.7L290.7 548.9L291.7 549L292.7 549.2L293.7 549.4L294.7 549.5L295.8 549.7L296.8 549.9L297.8 550L298.8 550.1L299.8 550.3L300.8 550.4L301.8 550.5L302.8 550.6L303.8 550.7L304.8 550.8L305.8 550.9L306.8 551L307.8 551.1L308.8 551.2L309.8 551.2L310.8 551.3L311.8 551.4L312.8 551.5L313.8 551.6L314.8 551.7L315.8 551.8L316.8 551.8L317.8 551.9L318.8 552L319.8 552.1L320.8 552.2L321.8 552.2L322.8 552.3L323.8 552.4L324.8 552.4L325.8 552.5L326.8 552.5L327.8 552.6L328.8 552.6L329.8 552.7L330.8 552.7L331.8 552.7L332.8 552.8L333.8 552.8L334.8 552.8L335.8 552.8L336.8 552.8L337.8 552.9L338.8 552.9L339.8 552.9L340.8 552.9L341.8 552.9L342.8 553L343.8 553L344.8 553L345.8 553L346.8 553L347.8 553L348.8 553L349.8 553L350.8 553L351.8 553L352.8 553L353.8 553L354.8 553L355.8 553L356.8 553L357.8 553L358.8 553L359.8 553L360.8 553L361.8 553L362.8 553L363.8 553L364.8 553L365.8 553L366.8 553L367.8 553L368.8 553L369.8 553L370.8 553L371.8 553L372.8 553L373.8 553L374.8 553L375.8 553L376.8 553L377.8 553L378.8 553L379.8 553L380.8 553L381.8 553L382.8 553L383.8 553L384.8 553L385.8 553L386.8 553L387.8 553L388.8 553L389.8 553L390.9 553L391.9 553L392.9 553L393.9 553L394.9 553L395.9 553L396.9 553L397.9 553L398.9 553L399.9 553L400.9 553L401.9 553L402.9 553L403.9 553L404.9 552.9L405.9 552.9L406.9 552.9L407.9 552.9L408.9 552.8L409.9 552.8L410.9 552.8L411.9 552.8L412.9 552.7L413.9 552.7L414.9 552.7L415.9 552.7L416.9 552.7L417.9 552.6L418.9 552.6L419.9 552.6L420.9 552.6L421.9 552.5L422.9 552.5L423.9 552.5L424.9 552.5L425.9 552.4L426.9 552.4L427.9 552.4L428.9 552.4L429.9 552.4L430.9 552.5L431.9 552.5L432.9 552.5L433.9 552.6L434.9 552.6L435.9 552.6L436.9 552.7L437.9 552.7L438.9 552.7L439.9 552.8L440.9 552.8L441.9 552.8L442.9 552.9L443.9 552.9L444.9 552.9L445.9 553L446.9 553L447.9 553L448.9 553L449.9 553L450.9 553L451.9 553L452.9 553L453.9 553L454.9 553L455.9 553L456.9 553L457.9 553L458.9 553L459.9 553L460.9 553L461.9 553L462.9 553L463.9 553L464.9 553L465.9 553L466.9 553L467.9 553L468.9 553L469.9 553L470.9 553L471.9 553L472.9 553L473.9 553L474.9 553L475.9 553L476.9 553L477.9 553L478.9 553L479.9 553L480.9 553L481.9 553L482.9 553L483.9 553L485 553L486 553L487 553L488 553L489 553L490 553L491 553L492 553L493 553L494 553L495 553L496 553L497 553L498 553L499 553L500 553L501 553L502 553L503 553L504 553L505 553L506 553L507 553L508 553L509 553L510 553L511 553L512 553L513 553L514 553L515 553L516 553L517 553L518 553L519 553L520 553L521 553L522 553L523 553L524 553L525 553L526 553L527 553L528 553L529 553L530 553L531 553L532 553" fill="none" stroke="#000" stroke-width="2.3" stroke-linejoin="round"/>
<path d="M58.5 552.6L59.5 552.5L60.5 552.4L61.5 552.3L62.5 552.2L63.5 552.1L64.5 552L65.5 551.9L66.5 551.7L67.5 551.6L68.5 551.5L69.5 551.4L70.5 551.3L71.5 551.2L72.5 551.1L73.5 551L74.5 550.9L75.5 550.8L76.5 550.7L77.5 550.6L78.5 550.5L79.5 550.4L80.5 550.3L81.5 550.2L82.5 550L83.5 549.9L84.5 549.8L85.5 549.7L86.5 549.6L87.5 549.4L88.5 549.3L89.5 549.2L90.5 549L91.5 548.9L92.5 548.7L93.5 548.5L94.5 548.4L95.5 548.2L96.5 548L97.5 547.8L98.5 547.7L99.5 547.5L100.5 547.3L101.5 547.1L102.5 546.9L103.5 546.7L104.5 546.5L105.5 546.3L106.6 546.1L107.6 545.9L108.6 545.7L109.6 545.5L110.6 545.3L111.6 545.1L112.6 544.9L113.6 544.7L114.6 544.5L115.6 544.3L116.6 544.1L117.6 543.9L118.6 543.7L119.6 543.4L120.6 543.2L121.6 543L122.6 542.8L123.6 542.6L124.6 542.3L125.6 542.1L126.6 541.9L127.6 541.6L128.6 541.4L129.6 541.1L130.6 540.9L131.6 540.6L132.6 540.3L133.6 540.1L134.6 539.8L135.6 539.5L136.6 539.3L137.6 539L138.6 538.8L139.6 538.6L140.6 538.3L141.6 538.1L142.6 537.8L143.6 537.6L144.6 537.3L145.6 537L146.6 536.7L147.6 536.3L148.6 536L149.6 535.6L150.6 535.2L151.6 534.8L152.6 534.4L153.6 533.9L154.6 533.4L155.6 532.9L156.6 532.3L157.6 531.7L158.6 531.1L159.6 530.5L160.6 529.8L161.6 529.2L162.6 528.5L163.6 527.8L164.6 527.1L165.6 526.3L166.6 525.6L167.6 524.9L168.6 524.2L169.6 523.5L170.6 522.8L171.6 522.1L172.6 521.4L173.6 520.8L174.6 520.1L175.6 519.4L176.6 518.8L177.6 518.2L178.6 517.6L179.6 517.1L180.6 516.5L181.6 516L182.6 515.4L183.6 514.9L184.6 514.4L185.6 513.9L186.6 513.5L187.6 513L188.6 512.7L189.6 512.3L190.6 512L191.6 511.7L192.6 511.5L193.6 511.2L194.6 511L195.6 510.8L196.6 510.6L197.6 510.4L198.6 510.3L199.6 510.2L200.7 510L201.7 509.9L202.7 509.9L203.7 509.8L204.7 509.8L205.7 509.7L206.7 509.7L207.7 509.7L208.7 509.8L209.7 509.8L210.7 509.8L211.7 509.9L212.7 509.9L213.7 510L214.7 510.1L215.7 510.1L216.7 510.2L217.7 510.3L218.7 510.4L219.7 510.5L220.7 510.5L221.7 510.6L222.7 510.7L223.7 510.8L224.7 510.8L225.7 510.9L226.7 511L227.7 511.1L228.7 511.1L229.7 511.2L230.7 511.2L231.7 511.2L232.7 511.3L233.7 511.3L234.7 511.3L235.7 511.3L236.7 511.3L237.7 511.3L238.7 511.4L239.7 511.4L240.7 511.4L241.7 511.4L242.7 511.5L243.7 511.5L244.7 511.5L245.7 511.6L246.7 511.6L247.7 511.7L248.7 511.8L249.7 511.8L250.7 511.9L251.7 511.9L252.7 512L253.7 512.1L254.7 512.1L255.7 512.2L256.7 512.4L257.7 512.5L258.7 512.6L259.7 512.8L260.7 513L261.7 513.2L262.7 513.4L263.7 513.6L264.7 513.8L265.7 514.1L266.7 514.4L267.7 514.7L268.7 514.9L269.7 515.2L270.7 515.6L271.7 515.9L272.7 516.2L273.7 516.5L274.7 516.8L275.7 517.1L276.7 517.4L277.7 517.7L278.7 518L279.7 518.4L280.7 518.7L281.7 519.1L282.7 519.5L283.7 519.9L284.7 520.3L285.7 520.7L286.7 521.1L287.7 521.5L288.7 521.9L289.7 522.3L290.7 522.7L291.7 523.1L292.7 523.5L293.7 523.9L294.7 524.2L295.8 524.6L296.8 524.9L297.8 525.3L298.8 525.6L299.8 526L300.8 526.5L301.8 526.9L302.8 527.5L303.8 528L304.8 528.5L305.8 529.1L306.8 529.6L307.8 530.2L308.8 530.8L309.8 531.3L310.8 531.8L311.8 532.4L312.8 532.9L313.8 533.5L314.8 534.1L315.8 534.6L316.8 535.2L317.8 535.8L318.8 536.5L319.8 537.1L320.8 537.7L321.8 538.3L322.8 538.9L323.8 539.4L324.8 540L325.8 540.6L326.8 541.1L327.8 541.7L328.8 542.2L329.8 542.7L330.8 543.2L331.8 543.7L332.8 544.2L333.8 544.7L334.8 545.2L335.8 545.6L336.8 546.1L337.8 546.5L338.8 546.9L339.8 547.3L340.8 547.7L341.8 548.1L342.8 548.5L343.8 548.8L344.8 549.2L345.8 549.5L346.8 549.8L347.8 550.1L348.8 550.4L349.8 550.7L350.8 551L351.8 551.3L352.8 551.5L353.8 551.7L354.8 551.9L355.8 552.1L356.8 552.2L357.8 552.3L358.8 552.4L359.8 552.5L360.8 552.6L361.8 552.6L362.8 552.7L363.8 552.7L364.8 552.7L365.8 552.8L366.8 552.8L367.8 552.8L368.8 552.8L369.8 552.8L370.8 552.8L371.8 552.8L372.8 552.8L373.8 552.8L374.8 552.8L375.8 552.8L376.8 552.8L377.8 552.7L378.8 552.7L379.8 552.7L380.8 552.7L381.8 552.6L382.8 552.6L383.8 552.5L384.8 552.5L385.8 552.4L386.8 552.4L387.8 552.3L388.8 552.3L389.8 552.2L390.9 552.1L391.9 552.1L392.9 552L393.9 551.9L394.9 551.8L395.9 551.8L396.9 551.7L397.9 551.6L398.9 551.5L399.9 551.4L400.9 551.3L401.9 551.2L402.9 551.1L403.9 551L404.9 550.9L405.9 550.8L406.9 550.7L407.9 550.6L408.9 550.5L409.9 550.4L410.9 550.3L411.9 550.2L412.9 550.1L413.9 550.1L414.9 550L415.9 549.9L416.9 549.8L417.9 549.8L418.9 549.7L419.9 549.6L420.9 549.6L421.9 549.5L422.9 549.4L423.9 549.4L424.9 549.4L425.9 549.3L426.9 549.3L427.9 549.3L428.9 549.3L429.9 549.3L430.9 549.3L431.9 549.4L432.9 549.4L433.9 549.5L434.9 549.5L435.9 549.6L436.9 549.7L437.9 549.8L438.9 549.9L439.9 550L440.9 550.1L441.9 550.2L442.9 550.3L443.9 550.4L444.9 550.5L445.9 550.6L446.9 550.7L447.9 550.9L448.9 551L449.9 551.1L450.9 551.2L451.9 551.4L452.9 551.5L453.9 551.6L454.9 551.7L455.9 551.8L456.9 551.9L457.9 552L458.9 552L459.9 552.1L460.9 552.2L461.9 552.2L462.9 552.3L463.9 552.3L464.9 552.4L465.9 552.4L466.9 552.4L467.9 552.5L468.9 552.5L469.9 552.5L470.9 552.5L471.9 552.5L472.9 552.5L473.9 552.5L474.9 552.5L475.9 552.5L476.9 552.5L477.9 552.5L478.9 552.5L479.9 552.5L480.9 552.5L481.9 552.5L482.9 552.5L483.9 552.5L485 552.5L486 552.5L487 552.5L488 552.5L489 552.5L490 552.5L491 552.5L492 552.5L493 552.5L494 552.5L495 552.5L496 552.5L497 552.5L498 552.5L499 552.5L500 552.5L501 552.5L502 552.5L503 552.5L504 552.5L505 552.5L506 552.5L507 552.5L508 552.5L509 552.5L510 552.5L511 552.5L512 552.5L513 552.5L514 552.5L515 552.5L516 552.5L517 552.5L518 552.5L519 552.6L520 552.6L521 552.6L522 552.6L523 552.6L524 552.6L525 552.6L526 552.6L527 552.6L528 552.6L529 552.6L530 552.6L531 552.6L532 552.6" fill="none" stroke="#000" stroke-width="2.3" stroke-linejoin="round"/>
<rect x="35" y="556.5" width="521" height="319.9" fill="#EBEBEB"/>
<g clip-path="url(#clip_b)">
<path d="M26.4 556.5V876.4M173.2 556.5V876.4M313.6 556.5V876.4M454 556.5V876.4M600.8 556.5V876.4M35 655.9H556M35 777H556" stroke="#fff" stroke-width="1.05" fill="none"/>
<path d="M99.8 556.5V876.4M246.6 556.5V876.4M380.6 556.5V876.4M527.4 556.5V876.4M35 595.3H556M35 716.5H556M35 837.6H556" stroke="#fff" stroke-width="2.1" fill="none"/>
<g fill="#1B9E77" fill-opacity="0.64" stroke="#1B9E77" stroke-opacity="0.85" stroke-width="0.9"><circle cx="58.7" cy="847.1" r="2.55"/><circle cx="76.2" cy="826.4" r="2.55"/><circle cx="79.4" cy="847.6" r="2.55"/><circle cx="72.9" cy="861.8" r="2.55"/><circle cx="91.9" cy="830.9" r="2.55"/><circle cx="89.4" cy="833.9" r="2.55"/><circle cx="102.4" cy="825.9" r="2.55"/><circle cx="103.6" cy="838.1" r="2.55"/><circle cx="100.6" cy="840.6" r="2.55"/><circle cx="92.9" cy="851.8" r="2.55"/><circle cx="94.4" cy="855.1" r="2.55"/><circle cx="105.6" cy="858.3" r="2.55"/><circle cx="262" cy="820.9" r="2.55"/><circle cx="274.5" cy="817.8" r="2.55"/><circle cx="268.8" cy="826.6" r="2.55"/><circle cx="275.3" cy="826.6" r="2.55"/><circle cx="264.4" cy="834.5" r="2.55"/><circle cx="278.8" cy="833.1" r="2.55"/><circle cx="266.6" cy="841" r="2.55"/><circle cx="276.2" cy="841" r="2.55"/><circle cx="279.7" cy="847.6" r="2.55"/><circle cx="265.7" cy="855" r="2.55"/><circle cx="271.8" cy="855.9" r="2.55"/><circle cx="275.3" cy="855.5" r="2.55"/><circle cx="295.9" cy="843.2" r="2.55"/><circle cx="300.7" cy="845.4" r="2.55"/><circle cx="294.2" cy="854.6" r="2.55"/><circle cx="299.9" cy="855.5" r="2.55"/><circle cx="330" cy="828.8" r="2.55"/><circle cx="365" cy="822.3" r="2.55"/><circle cx="409" cy="827.5" r="2.55"/><circle cx="424.2" cy="819.1" r="2.55"/><circle cx="395.8" cy="845.8" r="2.55"/><circle cx="405.8" cy="851.5" r="2.55"/><circle cx="394.9" cy="862.1" r="2.55"/><circle cx="435.2" cy="857.7" r="2.55"/><circle cx="437.4" cy="837.1" r="2.55"/><circle cx="440" cy="838.8" r="2.55"/><circle cx="450.5" cy="829.6" r="2.55"/><circle cx="461.5" cy="834" r="2.55"/><circle cx="460.1" cy="815.2" r="2.55"/><circle cx="464.5" cy="820" r="2.55"/><circle cx="473.7" cy="822.6" r="2.55"/><circle cx="480.3" cy="841" r="2.55"/><circle cx="501.7" cy="842.3" r="2.55"/><circle cx="532" cy="836.2" r="2.55"/><circle cx="114.9" cy="818.5" r="2.55"/><circle cx="118.6" cy="818.7" r="2.55"/><circle cx="123" cy="816.8" r="2.55"/><circle cx="129.2" cy="815" r="2.55"/><circle cx="132.9" cy="815.2" r="2.55"/><circle cx="130.4" cy="817.7" r="2.55"/><circle cx="116.1" cy="829.3" r="2.55"/><circle cx="116.8" cy="835.7" r="2.55"/><circle cx="123.6" cy="838.6" r="2.55"/><circle cx="125.4" cy="833" r="2.55"/><circle cx="129.8" cy="833" r="2.55"/><circle cx="133.5" cy="833" r="2.55"/><circle cx="131.6" cy="836.1" r="2.55"/><circle cx="131" cy="838.6" r="2.55"/><circle cx="125.4" cy="828.6" r="2.55"/><circle cx="140.9" cy="818.1" r="2.55"/><circle cx="142.8" cy="819.3" r="2.55"/><circle cx="139.7" cy="822.4" r="2.55"/><circle cx="147.2" cy="822.2" r="2.55"/><circle cx="140.9" cy="831.1" r="2.55"/><circle cx="139.7" cy="834.6" r="2.55"/><circle cx="144.1" cy="833" r="2.55"/><circle cx="145.9" cy="836.1" r="2.55"/><circle cx="144.1" cy="838.6" r="2.55"/><circle cx="147.8" cy="837.9" r="2.55"/><circle cx="139.7" cy="842.7" r="2.55"/><circle cx="143.2" cy="842.7" r="2.55"/><circle cx="147.2" cy="842.3" r="2.55"/><circle cx="127.5" cy="849.1" r="2.55"/><circle cx="131" cy="850.4" r="2.55"/><circle cx="126.1" cy="852.8" r="2.55"/><circle cx="130.4" cy="855.9" r="2.55"/><circle cx="132.5" cy="857.4" r="2.55"/><circle cx="127.5" cy="860.3" r="2.55"/><circle cx="134.1" cy="862.1" r="2.55"/><circle cx="136.6" cy="852.2" r="2.55"/><circle cx="139.5" cy="854.7" r="2.55"/><circle cx="144.1" cy="852.2" r="2.55"/><circle cx="147.8" cy="849.7" r="2.55"/><circle cx="149.6" cy="847.2" r="2.55"/><circle cx="147.8" cy="858.4" r="2.55"/><circle cx="149.6" cy="860.9" r="2.55"/><circle cx="154" cy="815.6" r="2.55"/><circle cx="154.6" cy="819.3" r="2.55"/><circle cx="159.6" cy="814" r="2.55"/><circle cx="163.9" cy="814.4" r="2.55"/><circle cx="167.6" cy="814" r="2.55"/><circle cx="165.1" cy="818.1" r="2.55"/><circle cx="157.1" cy="821.8" r="2.55"/><circle cx="173.8" cy="817.7" r="2.55"/><circle cx="178.8" cy="816.2" r="2.55"/><circle cx="225.3" cy="819.3" r="2.55"/><circle cx="225.9" cy="821.8" r="2.55"/><circle cx="230.3" cy="815.2" r="2.55"/><circle cx="232.8" cy="818.1" r="2.55"/><circle cx="235.9" cy="819.3" r="2.55"/><circle cx="235.3" cy="823.1" r="2.55"/><circle cx="231.5" cy="825.5" r="2.55"/><circle cx="224.7" cy="831.1" r="2.55"/><circle cx="227.8" cy="830.5" r="2.55"/><circle cx="226.6" cy="835.5" r="2.55"/><circle cx="231.5" cy="831.1" r="2.55"/><circle cx="234.6" cy="830.5" r="2.55"/><circle cx="234.6" cy="834.2" r="2.55"/><circle cx="234.4" cy="841" r="2.55"/><circle cx="226.6" cy="843.3" r="2.55"/><circle cx="227.2" cy="850" r="2.55"/><circle cx="229.7" cy="851.6" r="2.55"/><circle cx="232.8" cy="850" r="2.55"/><circle cx="236.5" cy="847.2" r="2.55"/><circle cx="236.5" cy="850.7" r="2.55"/><circle cx="227.8" cy="855.9" r="2.55"/><circle cx="229.4" cy="858.2" r="2.55"/><circle cx="239" cy="854.1" r="2.55"/><circle cx="242.1" cy="849.1" r="2.55"/><circle cx="242.7" cy="852.8" r="2.55"/><circle cx="245.8" cy="852.8" r="2.55"/><circle cx="244.3" cy="818.5" r="2.55"/><circle cx="248.3" cy="814" r="2.55"/><circle cx="247.7" cy="819.7" r="2.55"/><circle cx="252.6" cy="818.1" r="2.55"/><circle cx="255.1" cy="818.7" r="2.55"/><circle cx="244.6" cy="825.5" r="2.55"/><circle cx="250.1" cy="825.5" r="2.55"/><circle cx="242.1" cy="829.3" r="2.55"/><circle cx="245.2" cy="829.9" r="2.55"/><circle cx="241.5" cy="832.6" r="2.55"/><circle cx="245.8" cy="836.1" r="2.55"/><circle cx="250.1" cy="834.6" r="2.55"/><circle cx="246.8" cy="839.2" r="2.55"/><circle cx="240.8" cy="840.4" r="2.55"/><circle cx="243.9" cy="841" r="2.55"/><circle cx="245.8" cy="843.3" r="2.55"/><circle cx="259.5" cy="821.8" r="2.55"/><circle cx="258.5" cy="826.2" r="2.55"/><circle cx="258.8" cy="828.6" r="2.55"/><circle cx="257" cy="847.5" r="2.55"/><circle cx="254.1" cy="859.7" r="2.55"/><circle cx="216.9" cy="835.9" r="2.55"/><circle cx="188.8" cy="842.4" r="2.55"/><circle cx="183.1" cy="839.9" r="2.55"/><circle cx="187.4" cy="829.4" r="2.55"/><circle cx="153.4" cy="822.4" r="2.55"/><circle cx="193.8" cy="855.8" r="2.55"/><circle cx="176.2" cy="830.5" r="2.55"/><circle cx="202.8" cy="827.3" r="2.55"/><circle cx="162.4" cy="857.2" r="2.55"/><circle cx="156.4" cy="844.4" r="2.55"/><circle cx="190.5" cy="846.6" r="2.55"/><circle cx="207.3" cy="844" r="2.55"/><circle cx="157.2" cy="818.3" r="2.55"/><circle cx="166.8" cy="823.9" r="2.55"/><circle cx="222.1" cy="847.7" r="2.55"/><circle cx="150.7" cy="814.9" r="2.55"/><circle cx="207" cy="861.2" r="2.55"/><circle cx="222.1" cy="842.5" r="2.55"/><circle cx="163.7" cy="815.5" r="2.55"/><circle cx="188.7" cy="850.7" r="2.55"/><circle cx="180.6" cy="827.4" r="2.55"/><circle cx="174.3" cy="816.8" r="2.55"/><circle cx="201" cy="822.8" r="2.55"/><circle cx="179.7" cy="824.8" r="2.55"/><circle cx="188.9" cy="852.8" r="2.55"/><circle cx="173.6" cy="832" r="2.55"/><circle cx="191.2" cy="843.4" r="2.55"/><circle cx="182.7" cy="837.8" r="2.55"/><circle cx="176.8" cy="858.4" r="2.55"/><circle cx="164.3" cy="848.5" r="2.55"/><circle cx="201.5" cy="854.2" r="2.55"/><circle cx="188.2" cy="844.9" r="2.55"/><circle cx="214.7" cy="826.2" r="2.55"/><circle cx="204.9" cy="831" r="2.55"/><circle cx="171.7" cy="829.8" r="2.55"/><circle cx="210.2" cy="851" r="2.55"/><circle cx="155.7" cy="844.1" r="2.55"/><circle cx="210.7" cy="848.8" r="2.55"/><circle cx="158.2" cy="858.2" r="2.55"/><circle cx="168.3" cy="861.1" r="2.55"/><circle cx="209.5" cy="846.4" r="2.55"/><circle cx="160.1" cy="855.3" r="2.55"/><circle cx="178.1" cy="839.7" r="2.55"/><circle cx="216.1" cy="860.9" r="2.55"/><circle cx="150.4" cy="834.6" r="2.55"/><circle cx="202.2" cy="856.1" r="2.55"/><circle cx="208.3" cy="830.2" r="2.55"/><circle cx="213.3" cy="848" r="2.55"/><circle cx="172.4" cy="858.2" r="2.55"/><circle cx="197.8" cy="816.1" r="2.55"/><circle cx="172.1" cy="814.7" r="2.55"/><circle cx="207" cy="837" r="2.55"/><circle cx="178.1" cy="825.3" r="2.55"/><circle cx="153.4" cy="848" r="2.55"/><circle cx="208.4" cy="843.7" r="2.55"/><circle cx="172.3" cy="842" r="2.55"/><circle cx="208.3" cy="825.2" r="2.55"/><circle cx="194.6" cy="814.7" r="2.55"/><circle cx="153.7" cy="828.7" r="2.55"/><circle cx="151.6" cy="860.9" r="2.55"/><circle cx="202.2" cy="831.5" r="2.55"/><circle cx="161.7" cy="851.8" r="2.55"/><circle cx="186.5" cy="839.5" r="2.55"/><circle cx="197.1" cy="852.5" r="2.55"/><circle cx="202.9" cy="842.6" r="2.55"/><circle cx="174.6" cy="844.6" r="2.55"/><circle cx="185" cy="830.9" r="2.55"/><circle cx="208.3" cy="859.2" r="2.55"/><circle cx="160.6" cy="822.2" r="2.55"/><circle cx="157.6" cy="835.3" r="2.55"/><circle cx="155.1" cy="820.9" r="2.55"/><circle cx="219.9" cy="844.3" r="2.55"/><circle cx="190.5" cy="817.2" r="2.55"/><circle cx="163.8" cy="836.2" r="2.55"/><circle cx="165.3" cy="853.5" r="2.55"/><circle cx="159.8" cy="857" r="2.55"/><circle cx="203.6" cy="856.7" r="2.55"/><circle cx="208.8" cy="851.7" r="2.55"/><circle cx="186.3" cy="858" r="2.55"/><circle cx="199.3" cy="818.3" r="2.55"/><circle cx="164.6" cy="834.5" r="2.55"/><circle cx="159.6" cy="823.4" r="2.55"/><circle cx="180.4" cy="825.6" r="2.55"/><circle cx="188" cy="819" r="2.55"/><circle cx="194" cy="821" r="2.55"/><circle cx="219.4" cy="849.9" r="2.55"/><circle cx="186.6" cy="819.8" r="2.55"/><circle cx="176.7" cy="827.1" r="2.55"/><circle cx="161" cy="838.8" r="2.55"/><circle cx="191.9" cy="820.5" r="2.55"/><circle cx="160.5" cy="820" r="2.55"/><circle cx="218.6" cy="855.3" r="2.55"/><circle cx="182.9" cy="840.1" r="2.55"/><circle cx="208.4" cy="853.6" r="2.55"/><circle cx="176.7" cy="858.7" r="2.55"/><circle cx="213.4" cy="821.5" r="2.55"/><circle cx="157.1" cy="823.1" r="2.55"/><circle cx="220.5" cy="816.1" r="2.55"/><circle cx="188.7" cy="860.4" r="2.55"/><circle cx="194.9" cy="815.6" r="2.55"/><circle cx="178.4" cy="828.4" r="2.55"/><circle cx="149.8" cy="845" r="2.55"/><circle cx="175.3" cy="819.5" r="2.55"/><circle cx="196.9" cy="840.6" r="2.55"/><circle cx="222.9" cy="858.8" r="2.55"/><circle cx="196" cy="831.9" r="2.55"/><circle cx="217.1" cy="814.7" r="2.55"/><circle cx="203.8" cy="820.6" r="2.55"/><circle cx="174.1" cy="817.8" r="2.55"/><circle cx="172.6" cy="835.1" r="2.55"/><circle cx="157.7" cy="858.3" r="2.55"/><circle cx="199.2" cy="851.4" r="2.55"/><circle cx="204" cy="817.8" r="2.55"/><circle cx="203.8" cy="831.2" r="2.55"/><circle cx="185.8" cy="820.7" r="2.55"/><circle cx="210" cy="853" r="2.55"/><circle cx="203.5" cy="817.9" r="2.55"/><circle cx="215.4" cy="833.4" r="2.55"/><circle cx="151.9" cy="840.5" r="2.55"/><circle cx="223" cy="818.9" r="2.55"/><circle cx="168.1" cy="852.4" r="2.55"/><circle cx="180.9" cy="842.8" r="2.55"/><circle cx="179.5" cy="817.5" r="2.55"/><circle cx="162.5" cy="843.6" r="2.55"/><circle cx="164.1" cy="842.1" r="2.55"/><circle cx="163.5" cy="850.6" r="2.55"/><circle cx="164.9" cy="846.7" r="2.55"/><circle cx="179.8" cy="849.3" r="2.55"/><circle cx="213.9" cy="856.1" r="2.55"/><circle cx="163.5" cy="843.7" r="2.55"/><circle cx="212.9" cy="849.6" r="2.55"/><circle cx="186" cy="839" r="2.55"/><circle cx="186.9" cy="817.9" r="2.55"/><circle cx="172.5" cy="837.1" r="2.55"/><circle cx="203.2" cy="853.6" r="2.55"/><circle cx="209.4" cy="826.4" r="2.55"/><circle cx="155.7" cy="821.4" r="2.55"/><circle cx="172.3" cy="830.5" r="2.55"/><circle cx="167.1" cy="836.6" r="2.55"/><circle cx="191.9" cy="816.6" r="2.55"/><circle cx="187.4" cy="847.9" r="2.55"/><circle cx="191.6" cy="844.2" r="2.55"/><circle cx="209.4" cy="837.1" r="2.55"/><circle cx="203.7" cy="855.5" r="2.55"/><circle cx="161.4" cy="858.2" r="2.55"/><circle cx="216.6" cy="815.3" r="2.55"/><circle cx="203.6" cy="842.4" r="2.55"/><circle cx="165.4" cy="848.7" r="2.55"/><circle cx="216.3" cy="854.9" r="2.55"/><circle cx="163.2" cy="818.7" r="2.55"/><circle cx="182" cy="848.7" r="2.55"/><circle cx="195.4" cy="829.9" r="2.55"/><circle cx="203.4" cy="821.8" r="2.55"/><circle cx="173.4" cy="851.3" r="2.55"/><circle cx="182.5" cy="833.2" r="2.55"/><circle cx="205.4" cy="829.1" r="2.55"/><circle cx="165.7" cy="850.3" r="2.55"/><circle cx="200.8" cy="845.7" r="2.55"/><circle cx="189.9" cy="845.1" r="2.55"/><circle cx="185.6" cy="833.6" r="2.55"/><circle cx="191.9" cy="852.1" r="2.55"/><circle cx="162.5" cy="856.4" r="2.55"/><circle cx="223" cy="838.2" r="2.55"/><circle cx="158.4" cy="855.3" r="2.55"/><circle cx="195.7" cy="848.1" r="2.55"/><circle cx="223.9" cy="859.3" r="2.55"/><circle cx="190.3" cy="846.9" r="2.55"/><circle cx="199.4" cy="834.4" r="2.55"/><circle cx="166.4" cy="855.6" r="2.55"/><circle cx="150.4" cy="823.1" r="2.55"/><circle cx="155" cy="820.2" r="2.55"/><circle cx="207.1" cy="844.3" r="2.55"/><circle cx="196.9" cy="829.4" r="2.55"/><circle cx="170.1" cy="843.5" r="2.55"/><circle cx="204.3" cy="822.2" r="2.55"/><circle cx="175.6" cy="847.6" r="2.55"/><circle cx="213.5" cy="857.4" r="2.55"/><circle cx="203.5" cy="853.9" r="2.55"/><circle cx="196.2" cy="859.8" r="2.55"/><circle cx="192.4" cy="852.5" r="2.55"/><circle cx="173.1" cy="856.5" r="2.55"/><circle cx="193.2" cy="846.8" r="2.55"/><circle cx="181.2" cy="841.7" r="2.55"/><circle cx="195.8" cy="848.4" r="2.55"/><circle cx="211.9" cy="826.1" r="2.55"/><circle cx="199.9" cy="839.5" r="2.55"/><circle cx="152.7" cy="846.8" r="2.55"/><circle cx="166.5" cy="844.8" r="2.55"/><circle cx="206.3" cy="838.2" r="2.55"/><circle cx="181.8" cy="829.3" r="2.55"/><circle cx="221.3" cy="818" r="2.55"/><circle cx="208.3" cy="859.1" r="2.55"/><circle cx="154.5" cy="828.2" r="2.55"/><circle cx="208.9" cy="842.2" r="2.55"/><circle cx="171.5" cy="838.3" r="2.55"/><circle cx="184.2" cy="838.3" r="2.55"/><circle cx="166.4" cy="845.7" r="2.55"/><circle cx="153.2" cy="832.3" r="2.55"/><circle cx="196.5" cy="850.6" r="2.55"/><circle cx="183" cy="843.3" r="2.55"/><circle cx="222.4" cy="861.4" r="2.55"/><circle cx="173.3" cy="859" r="2.55"/><circle cx="182.1" cy="847.2" r="2.55"/><circle cx="174.5" cy="834.7" r="2.55"/><circle cx="153.9" cy="839.6" r="2.55"/><circle cx="216.8" cy="819.9" r="2.55"/><circle cx="179.9" cy="838.4" r="2.55"/><circle cx="169.5" cy="849.8" r="2.55"/><circle cx="166.3" cy="849.9" r="2.55"/><circle cx="159.8" cy="837.4" r="2.55"/><circle cx="217.1" cy="817.5" r="2.55"/><circle cx="176.3" cy="851.7" r="2.55"/><circle cx="177" cy="851.1" r="2.55"/><circle cx="215.4" cy="846.7" r="2.55"/><circle cx="222.6" cy="850.7" r="2.55"/><circle cx="184.3" cy="844.4" r="2.55"/><circle cx="218.7" cy="854.2" r="2.55"/><circle cx="207.7" cy="841.5" r="2.55"/><circle cx="172.4" cy="816.6" r="2.55"/><circle cx="185.5" cy="855.2" r="2.55"/><circle cx="222.3" cy="838.9" r="2.55"/><circle cx="170" cy="842.9" r="2.55"/><circle cx="188.8" cy="821.7" r="2.55"/><circle cx="157.7" cy="848.7" r="2.55"/><circle cx="209.8" cy="855.4" r="2.55"/><circle cx="210.4" cy="839.2" r="2.55"/><circle cx="199.6" cy="817.2" r="2.55"/><circle cx="197.9" cy="851.7" r="2.55"/><circle cx="186.1" cy="859.4" r="2.55"/><circle cx="161.1" cy="841" r="2.55"/><circle cx="167.2" cy="817.8" r="2.55"/><circle cx="174.1" cy="822.6" r="2.55"/><circle cx="193.8" cy="845.7" r="2.55"/><circle cx="187.5" cy="842.4" r="2.55"/><circle cx="165" cy="852.6" r="2.55"/></g>
<g fill="#D95F02" fill-opacity="0.64" stroke="#D95F02" stroke-opacity="0.85" stroke-width="0.9"><circle cx="94" cy="608" r="2.55"/><circle cx="120.4" cy="612.7" r="2.55"/><circle cx="133.7" cy="615" r="2.55"/><circle cx="128.4" cy="597.7" r="2.55"/><circle cx="143.9" cy="603.7" r="2.55"/><circle cx="143.2" cy="591.8" r="2.55"/><circle cx="146.2" cy="579.5" r="2.55"/><circle cx="152.6" cy="580.3" r="2.55"/><circle cx="164.1" cy="572.3" r="2.55"/><circle cx="168.9" cy="580.3" r="2.55"/><circle cx="172.9" cy="584.3" r="2.55"/><circle cx="168.1" cy="586.5" r="2.55"/><circle cx="177.9" cy="571.5" r="2.55"/><circle cx="182.8" cy="582" r="2.55"/><circle cx="182.1" cy="585.8" r="2.55"/><circle cx="183.1" cy="596.5" r="2.55"/><circle cx="197.3" cy="575.3" r="2.55"/><circle cx="194.3" cy="590.8" r="2.55"/><circle cx="200.1" cy="590.3" r="2.55"/><circle cx="191.1" cy="595.3" r="2.55"/><circle cx="192.8" cy="598.5" r="2.55"/><circle cx="189.3" cy="602.7" r="2.55"/><circle cx="188.8" cy="606.5" r="2.55"/><circle cx="194.1" cy="606.7" r="2.55"/><circle cx="202.3" cy="614.7" r="2.55"/><circle cx="217" cy="573.5" r="2.55"/><circle cx="228.3" cy="573.5" r="2.55"/><circle cx="238" cy="572" r="2.55"/><circle cx="226" cy="583.3" r="2.55"/><circle cx="215" cy="589" r="2.55"/><circle cx="224" cy="591.5" r="2.55"/><circle cx="224.6" cy="591.9" r="2.55"/><circle cx="237.8" cy="591" r="2.55"/><circle cx="245.5" cy="588.5" r="2.55"/><circle cx="249.3" cy="581" r="2.55"/><circle cx="214.3" cy="600.7" r="2.55"/><circle cx="226.5" cy="597" r="2.55"/><circle cx="228.8" cy="599.7" r="2.55"/><circle cx="217.8" cy="607.7" r="2.55"/><circle cx="230.3" cy="614.7" r="2.55"/><circle cx="234.3" cy="617.2" r="2.55"/><circle cx="231.8" cy="619" r="2.55"/><circle cx="232.6" cy="618.3" r="2.55"/><circle cx="241.8" cy="607" r="2.55"/><circle cx="248.5" cy="609.5" r="2.55"/><circle cx="251" cy="597.7" r="2.55"/><circle cx="268.4" cy="576.2" r="2.55"/><circle cx="255" cy="587.8" r="2.55"/><circle cx="260.3" cy="591.7" r="2.55"/><circle cx="276.5" cy="586.9" r="2.55"/><circle cx="286.4" cy="586" r="2.55"/><circle cx="294.8" cy="583.3" r="2.55"/><circle cx="299" cy="583.9" r="2.55"/><circle cx="300.5" cy="580.1" r="2.55"/><circle cx="319.6" cy="576.5" r="2.55"/><circle cx="319.9" cy="576.8" r="2.55"/><circle cx="308.5" cy="595" r="2.55"/><circle cx="255.9" cy="598.6" r="2.55"/><circle cx="289.4" cy="606.7" r="2.55"/><circle cx="320.8" cy="604.6" r="2.55"/><circle cx="273.8" cy="613.6" r="2.55"/><circle cx="263.9" cy="617.2" r="2.55"/><circle cx="252.9" cy="619.6" r="2.55"/><circle cx="397.4" cy="588.4" r="2.55"/><circle cx="420.2" cy="575.3" r="2.55"/></g>
<path d="M59.2 727L60.2 728.8L61.2 730.7L62.2 732.6L63.2 734.4L64.2 736.3L65.2 738.3L66.2 740.2L67.2 742.2L68.2 744.2L69.2 746.3L70.2 748.3L71.2 750.3L72.2 752.4L73.2 754.4L74.2 756.3L75.2 758.3L76.2 760.2L77.2 762L78.2 763.9L79.2 765.7L80.2 767.4L81.2 769.1L82.2 770.8L83.2 772.4L84.2 773.9L85.2 775.4L86.2 776.9L87.2 778.4L88.3 779.8L89.3 781.2L90.3 782.6L91.3 783.9L92.3 785.2L93.3 786.4L94.3 787.6L95.3 788.7L96.3 789.8L97.3 790.9L98.3 792L99.3 793.1L100.3 794.2L101.3 795.2L102.3 796.2L103.3 797.2L104.3 798.1L105.3 798.9L106.3 799.7L107.3 800.5L108.3 801.2L109.3 801.9L110.3 802.6L111.3 803.3L112.3 803.9L113.3 804.5L114.3 805.1L115.3 805.6L116.3 806.1L117.3 806.5L118.3 807L119.3 807.4L120.3 807.8L121.3 808.2L122.3 808.5L123.3 808.9L124.3 809.3L125.3 809.6L126.3 809.9L127.3 810.3L128.3 810.5L129.3 810.8L130.3 811L131.3 811.2L132.3 811.4L133.3 811.6L134.3 811.7L135.3 811.8L136.3 811.9L137.3 812L138.3 812.1L139.3 812.1L140.3 812.2L141.3 812.2L142.3 812.2L143.3 812.3L144.4 812.3L145.4 812.3L146.4 812.3L147.4 812.3L148.4 812.3L149.4 812.3L150.4 812.3L151.4 812.2L152.4 812.2L153.4 812.2L154.4 812.1L155.4 812.1L156.4 812L157.4 812L158.4 811.9L159.4 811.8L160.4 811.7L161.4 811.6L162.4 811.5L163.4 811.4L164.4 811.2L165.4 811.1L166.4 810.9L167.4 810.7L168.4 810.6L169.4 810.4L170.4 810.2L171.4 810L172.4 809.8L173.4 809.5L174.4 809.3L175.4 809L176.4 808.8L177.4 808.5L178.4 808.2L179.4 807.9L180.4 807.6L181.4 807.2L182.4 806.9L183.4 806.6L184.4 806.2L185.4 805.9L186.4 805.5L187.4 805.1L188.4 804.7L189.4 804.2L190.4 803.7L191.4 803.2L192.4 802.6L193.4 802L194.4 801.3L195.4 800.5L196.4 799.7L197.4 798.9L198.4 798L199.4 797.2L200.4 796.3L201.5 795.4L202.5 794.5L203.5 793.7L204.5 792.8L205.5 792L206.5 791.1L207.5 790.3L208.5 789.5L209.5 788.7L210.5 787.9L211.5 787.1L212.5 786.3L213.5 785.5L214.5 784.7L215.5 783.9L216.5 783.1L217.5 782.3L218.5 781.5L219.5 780.7L220.5 779.9L221.5 779.2L222.5 778.4L223.5 777.6L224.5 776.8L225.5 776L226.5 775.3L227.5 774.5L228.5 773.7L229.5 773L230.5 772.2L231.5 771.5L232.5 770.7L233.5 770L234.5 769.3L235.5 768.6L236.5 767.8L237.5 767.1L238.5 766.3L239.5 765.5L240.5 764.7L241.5 763.9L242.5 763L243.5 762.1L244.5 761.1L245.5 760.2L246.5 759.1L247.5 758.1L248.5 757L249.5 755.9L250.5 754.7L251.5 753.6L252.5 752.5L253.5 751.3L254.5 750.2L255.5 749L256.5 747.8L257.5 746.6L258.6 745.4L259.6 744.2L260.6 743L261.6 741.8L262.6 740.6L263.6 739.4L264.6 738.2L265.6 737L266.6 735.8L267.6 734.6L268.6 733.5L269.6 732.3L270.6 731.2L271.6 730.2L272.6 729.1L273.6 728.1L274.6 727.1L275.6 726.1L276.6 725.2L277.6 724.2L278.6 723.3L279.6 722.4L280.6 721.5L281.6 720.6L282.6 719.7L283.6 718.9L284.6 718L285.6 717.2L286.6 716.4L287.6 715.6L288.6 714.8L289.6 714L290.6 713.3L291.6 712.5L292.6 711.8L293.6 711.1L294.6 710.4L295.6 709.7L296.6 709L297.6 708.4L298.6 707.8L299.6 707.2L300.6 706.6L301.6 706L302.6 705.4L303.6 704.9L304.6 704.4L305.6 703.9L306.6 703.4L307.6 702.9L308.6 702.5L309.6 702.1L310.6 701.7L311.6 701.3L312.6 700.9L313.6 700.6L314.7 700.3L315.7 700L316.7 699.7L317.7 699.4L318.7 699.1L319.7 698.9L320.7 698.7L321.7 698.5L322.7 698.3L323.7 698.1L324.7 698L325.7 697.8L326.7 697.7L327.7 697.6L328.7 697.5L329.7 697.5L330.7 697.4L331.7 697.4L332.7 697.4L333.7 697.4L334.7 697.4L335.7 697.5L336.7 697.5L337.7 697.6L338.7 697.7L339.7 697.8L340.7 697.9L341.7 698L342.7 698.1L343.7 698.3L344.7 698.4L345.7 698.6L346.7 698.8L347.7 699L348.7 699.2L349.7 699.4L350.7 699.7L351.7 699.9L352.7 700.2L353.7 700.5L354.7 700.9L355.7 701.2L356.7 701.6L357.7 702L358.7 702.3L359.7 702.7L360.7 703.1L361.7 703.5L362.7 703.9L363.7 704.3L364.7 704.7L365.7 705.2L366.7 705.6L367.7 706L368.7 706.4L369.7 706.8L370.7 707.2L371.8 707.6L372.8 708L373.8 708.5L374.8 708.9L375.8 709.4L376.8 709.8L377.8 710.4L378.8 710.9L379.8 711.5L380.8 712.2L381.8 712.8L382.8 713.5L383.8 714.3L384.8 715L385.8 715.8L386.8 716.6L387.8 717.3L388.8 718.1L389.8 718.9L390.8 719.7L391.8 720.5L392.8 721.3L393.8 722.1L394.8 722.9L395.8 723.7L396.8 724.5L397.8 725.3L398.8 726L399.8 726.8L400.8 727.6L401.8 728.4L402.8 729.2L403.8 730L404.8 730.8L405.8 731.6L406.8 732.4L407.8 733.2L408.8 734L409.8 734.9L410.8 735.7L411.8 736.5L412.8 737.3L413.8 738.1L414.8 739L415.8 739.8L416.8 740.7L417.8 741.5L418.8 742.4L419.8 743.2L420.8 744.1L421.8 745L422.8 745.8L423.8 746.7L424.8 747.5L425.8 748.4L426.8 749.3L427.8 750.1L428.9 751L429.9 751.8L430.9 752.6L431.9 753.5L432.9 754.3L433.9 755.1L434.9 756L435.9 756.8L436.9 757.7L437.9 758.6L438.9 759.4L439.9 760.3L440.9 761.2L441.9 762.1L442.9 763L443.9 763.9L444.9 764.8L445.9 765.7L446.9 766.6L447.9 767.5L448.9 768.4L449.9 769.3L450.9 770.2L451.9 771.1L452.9 772L453.9 772.9L454.9 773.8L455.9 774.7L456.9 775.6L457.9 776.5L458.9 777.4L459.9 778.3L460.9 779.2L461.9 780.1L462.9 781L463.9 781.9L464.9 782.8L465.9 783.7L466.9 784.6L467.9 785.5L468.9 786.4L469.9 787.2L470.9 788.1L471.9 789L472.9 789.9L473.9 790.8L474.9 791.7L475.9 792.6L476.9 793.5L477.9 794.4L478.9 795.3L479.9 796.1L480.9 797L481.9 797.8L482.9 798.6L483.9 799.4L485 800.2L486 801L487 801.7L488 802.5L489 803.2L490 804L491 804.7L492 805.4L493 806.1L494 806.9L495 807.6L496 808.3L497 809L498 809.7L499 810.4L500 811.1L501 811.7L502 812.4L503 813.1L504 813.8L505 814.5L506 815.1L507 815.8L508 816.5L509 817.1L510 817.8L511 818.5L512 819.1L513 819.8L513 960L512 958.1L511 956.2L510 954.2L509 952.3L508 950.4L507 948.5L506 946.6L505 944.7L504 942.8L503 940.9L502 939L501 937.1L500 935.2L499 933.3L498 931.4L497 929.5L496 927.6L495 925.8L494 923.9L493 922L492 920.1L491 918.3L490 916.4L489 914.6L488 912.7L487 910.8L486 909L485 907.1L483.9 905.3L482.9 903.4L481.9 901.6L480.9 899.7L479.9 897.9L478.9 896.1L477.9 894.2L476.9 892.4L475.9 890.6L474.9 888.8L473.9 887L472.9 885.2L471.9 883.4L470.9 881.7L469.9 879.9L468.9 878.2L467.9 876.5L466.9 874.8L465.9 873.1L464.9 871.5L463.9 869.8L462.9 868.2L461.9 866.5L460.9 864.9L459.9 863.2L458.9 861.5L457.9 859.8L456.9 858.1L455.9 856.4L454.9 854.7L453.9 853L452.9 851.2L451.9 849.5L450.9 847.8L449.9 846.1L448.9 844.4L447.9 842.7L446.9 840.9L445.9 839.2L444.9 837.4L443.9 835.6L442.9 833.7L441.9 831.8L440.9 830L439.9 828.4L438.9 826.9L437.9 825.6L436.9 824.4L435.9 823.2L434.9 822.1L433.9 821L432.9 819.9L431.9 818.8L430.9 817.7L429.9 816.6L428.9 815.5L427.8 814.4L426.8 813.3L425.8 812.2L424.8 811.2L423.8 810.1L422.8 809L421.8 807.9L420.8 806.8L419.8 805.7L418.8 804.6L417.8 803.5L416.8 802.4L415.8 801.4L414.8 800.3L413.8 799.2L412.8 798.1L411.8 797.1L410.8 796L409.8 795L408.8 793.9L407.8 792.9L406.8 791.9L405.8 790.9L404.8 790L403.8 789L402.8 788.1L401.8 787.2L400.8 786.3L399.8 785.4L398.8 784.5L397.8 783.7L396.8 782.9L395.8 782.1L394.8 781.3L393.8 780.5L392.8 779.8L391.8 779L390.8 778.3L389.8 777.5L388.8 776.8L387.8 776L386.8 775.3L385.8 774.5L384.8 773.8L383.8 773L382.8 772.3L381.8 771.6L380.8 771L379.8 770.3L378.8 769.7L377.8 769.1L376.8 768.5L375.8 768L374.8 767.4L373.8 766.9L372.8 766.4L371.8 765.9L370.7 765.5L369.7 765L368.7 764.5L367.7 764L366.7 763.6L365.7 763.1L364.7 762.6L363.7 762.2L362.7 761.7L361.7 761.2L360.7 760.8L359.7 760.3L358.7 759.9L357.7 759.5L356.7 759L355.7 758.6L354.7 758.2L353.7 757.8L352.7 757.4L351.7 757L350.7 756.7L349.7 756.3L348.7 756L347.7 755.7L346.7 755.4L345.7 755.1L344.7 754.8L343.7 754.5L342.7 754.3L341.7 754L340.7 753.8L339.7 753.5L338.7 753.3L337.7 753.1L336.7 752.9L335.7 752.7L334.7 752.5L333.7 752.3L332.7 752.2L331.7 752L330.7 751.9L329.7 751.8L328.7 751.7L327.7 751.6L326.7 751.5L325.7 751.4L324.7 751.3L323.7 751.3L322.7 751.2L321.7 751.2L320.7 751.1L319.7 751.1L318.7 751.1L317.7 751.1L316.7 751.1L315.7 751.2L314.7 751.2L313.6 751.2L312.6 751.3L311.6 751.4L310.6 751.4L309.6 751.5L308.6 751.6L307.6 751.7L306.6 751.8L305.6 752L304.6 752.1L303.6 752.2L302.6 752.4L301.6 752.6L300.6 752.7L299.6 752.9L298.6 753.1L297.6 753.4L296.6 753.6L295.6 753.8L294.6 754.1L293.6 754.4L292.6 754.7L291.6 755L290.6 755.3L289.6 755.7L288.6 756L287.6 756.4L286.6 756.8L285.6 757.3L284.6 757.7L283.6 758.1L282.6 758.6L281.6 759.1L280.6 759.6L279.6 760L278.6 760.5L277.6 761.1L276.6 761.6L275.6 762.2L274.6 762.7L273.6 763.4L272.6 764L271.6 764.8L270.6 765.5L269.6 766.4L268.6 767.2L267.6 768.2L266.6 769.1L265.6 770.1L264.6 771.1L263.6 772.1L262.6 773.1L261.6 774.1L260.6 775.1L259.6 776.1L258.6 777.2L257.5 778.2L256.5 779.1L255.5 780.1L254.5 781.1L253.5 782.1L252.5 783L251.5 784L250.5 784.9L249.5 785.9L248.5 786.8L247.5 787.7L246.5 788.6L245.5 789.4L244.5 790.2L243.5 790.9L242.5 791.5L241.5 792.1L240.5 792.6L239.5 793.1L238.5 793.7L237.5 794.1L236.5 794.6L235.5 795.1L234.5 795.6L233.5 796.1L232.5 796.6L231.5 797.1L230.5 797.5L229.5 798L228.5 798.5L227.5 799L226.5 799.5L225.5 800L224.5 800.5L223.5 801L222.5 801.5L221.5 802L220.5 802.5L219.5 803L218.5 803.5L217.5 804.1L216.5 804.6L215.5 805.2L214.5 805.8L213.5 806.4L212.5 807L211.5 807.7L210.5 808.4L209.5 809L208.5 809.7L207.5 810.5L206.5 811.2L205.5 812L204.5 812.9L203.5 813.8L202.5 814.8L201.5 815.8L200.4 816.8L199.4 817.8L198.4 818.9L197.4 819.8L196.4 820.8L195.4 821.7L194.4 822.5L193.4 823.3L192.4 824L191.4 824.7L190.4 825.4L189.4 826L188.4 826.6L187.4 827.2L186.4 827.7L185.4 828.2L184.4 828.7L183.4 829.2L182.4 829.6L181.4 830.1L180.4 830.5L179.4 830.9L178.4 831.3L177.4 831.7L176.4 832.1L175.4 832.5L174.4 832.9L173.4 833.2L172.4 833.6L171.4 833.9L170.4 834.2L169.4 834.5L168.4 834.8L167.4 835.2L166.4 835.5L165.4 835.8L164.4 836.1L163.4 836.3L162.4 836.6L161.4 836.9L160.4 837.1L159.4 837.4L158.4 837.6L157.4 837.9L156.4 838.1L155.4 838.3L154.4 838.6L153.4 838.8L152.4 839L151.4 839.2L150.4 839.3L149.4 839.5L148.4 839.6L147.4 839.8L146.4 839.9L145.4 840L144.4 840.1L143.3 840.2L142.3 840.3L141.3 840.4L140.3 840.5L139.3 840.6L138.3 840.7L137.3 840.8L136.3 840.9L135.3 841L134.3 841.1L133.3 841.2L132.3 841.3L131.3 841.4L130.3 841.5L129.3 841.6L128.3 841.7L127.3 841.8L126.3 841.9L125.3 842L124.3 842.1L123.3 842.2L122.3 842.3L121.3 842.5L120.3 842.6L119.3 842.7L118.3 842.9L117.3 843.1L116.3 843.3L115.3 843.5L114.3 843.7L113.3 843.9L112.3 844.2L111.3 844.5L110.3 844.7L109.3 845L108.3 845.3L107.3 845.6L106.3 846L105.3 846.3L104.3 846.7L103.3 847.1L102.3 847.5L101.3 847.9L100.3 848.4L99.3 848.8L98.3 849.3L97.3 849.8L96.3 850.3L95.3 850.9L94.3 851.6L93.3 852.3L92.3 853L91.3 853.7L90.3 854.5L89.3 855.3L88.3 856.1L87.2 857L86.2 857.9L85.2 858.9L84.2 859.9L83.2 861L82.2 862.1L81.2 863.3L80.2 864.4L79.2 865.6L78.2 866.7L77.2 867.9L76.2 869.2L75.2 870.4L74.2 871.8L73.2 873.3L72.2 874.9L71.2 876.6L70.2 878.4L69.2 880.2L68.2 882L67.2 883.9L66.2 885.7L65.2 887.7L64.2 889.6L63.2 891.6L62.2 893.7L61.2 895.8L60.2 897.9L59.2 900Z" fill="#999999" fill-opacity="0.4" stroke="none"/>
<path d="M59.2 809.4L60.2 809.9L61.2 810.3L62.2 810.8L63.2 811.2L64.2 811.6L65.2 812.1L66.2 812.5L67.2 812.9L68.2 813.2L69.2 813.6L70.2 814L71.2 814.4L72.2 814.7L73.2 815.1L74.2 815.5L75.2 815.8L76.2 816.2L77.2 816.5L78.2 816.9L79.2 817.2L80.2 817.6L81.2 817.9L82.2 818.2L83.2 818.6L84.2 818.9L85.2 819.2L86.2 819.5L87.2 819.8L88.3 820.1L89.3 820.4L90.3 820.6L91.3 820.9L92.3 821.1L93.3 821.4L94.3 821.6L95.3 821.8L96.3 822.1L97.3 822.3L98.3 822.5L99.3 822.6L100.3 822.8L101.3 823L102.3 823.2L103.3 823.3L104.3 823.5L105.3 823.7L106.3 823.8L107.3 823.9L108.3 824.1L109.3 824.2L110.3 824.3L111.3 824.5L112.3 824.6L113.3 824.7L114.3 824.8L115.3 824.9L116.3 825L117.3 825.1L118.3 825.2L119.3 825.3L120.3 825.4L121.3 825.5L122.3 825.6L123.3 825.7L124.3 825.7L125.3 825.8L126.3 825.9L127.3 825.9L128.3 826L129.3 826.1L130.3 826.1L131.3 826.2L132.3 826.2L133.3 826.2L134.3 826.3L135.3 826.3L136.3 826.3L137.3 826.3L138.3 826.3L139.3 826.3L140.3 826.3L141.3 826.3L142.3 826.3L143.4 826.3L144.4 826.2L145.4 826.2L146.4 826.1L147.4 826.1L148.4 826L149.4 825.9L150.4 825.9L151.4 825.8L152.4 825.7L153.4 825.6L154.4 825.5L155.4 825.4L156.4 825.2L157.4 825.1L158.4 825L159.4 824.8L160.4 824.7L161.4 824.5L162.4 824.4L163.4 824.2L164.4 824L165.4 823.8L166.4 823.7L167.4 823.4L168.4 823.2L169.4 823L170.4 822.8L171.4 822.5L172.4 822.2L173.4 821.9L174.4 821.6L175.4 821.3L176.4 821L177.4 820.7L178.4 820.3L179.4 819.9L180.4 819.6L181.4 819.2L182.4 818.8L183.4 818.3L184.4 817.9L185.4 817.4L186.4 816.9L187.4 816.3L188.4 815.7L189.4 815.1L190.4 814.4L191.4 813.7L192.4 812.9L193.4 812.2L194.4 811.3L195.4 810.4L196.4 809.5L197.4 808.6L198.4 807.6L199.4 806.6L200.5 805.5L201.5 804.5L202.5 803.4L203.5 802.4L204.5 801.4L205.5 800.4L206.5 799.5L207.5 798.7L208.5 797.9L209.5 797.3L210.5 796.7L211.5 796.1L212.5 795.5L213.5 795L214.5 794.4L215.5 793.9L216.5 793.4L217.5 792.8L218.5 792.3L219.5 791.8L220.5 791.3L221.5 790.8L222.5 790.3L223.5 789.8L224.5 789.3L225.5 788.8L226.5 788.3L227.5 787.9L228.5 787.4L229.5 786.8L230.5 786.3L231.5 785.8L232.5 785.2L233.5 784.7L234.5 784.1L235.5 783.5L236.5 782.9L237.5 782.3L238.5 781.6L239.5 780.9L240.5 780.2L241.5 779.5L242.5 778.7L243.5 777.8L244.5 776.9L245.5 776L246.5 775L247.5 773.9L248.5 772.9L249.5 771.8L250.5 770.7L251.5 769.6L252.5 768.5L253.5 767.4L254.5 766.3L255.6 765.2L256.6 764.1L257.6 763L258.6 761.9L259.6 760.8L260.6 759.7L261.6 758.6L262.6 757.5L263.6 756.4L264.6 755.3L265.6 754.2L266.6 753.1L267.6 752L268.6 751L269.6 749.9L270.6 748.9L271.6 747.9L272.6 746.9L273.6 746L274.6 745.1L275.6 744.2L276.6 743.4L277.6 742.5L278.6 741.7L279.6 740.9L280.6 740.2L281.6 739.4L282.6 738.7L283.6 738L284.6 737.4L285.6 736.7L286.6 736.1L287.6 735.5L288.6 734.9L289.6 734.4L290.6 733.8L291.6 733.3L292.6 732.8L293.6 732.3L294.6 731.8L295.6 731.4L296.6 730.9L297.6 730.5L298.6 730.1L299.6 729.6L300.6 729.3L301.6 728.9L302.6 728.5L303.6 728.2L304.6 727.8L305.6 727.5L306.6 727.2L307.6 727L308.6 726.7L309.6 726.4L310.6 726.2L311.6 726L312.7 725.8L313.7 725.6L314.7 725.4L315.7 725.3L316.7 725.1L317.7 725L318.7 724.9L319.7 724.8L320.7 724.7L321.7 724.6L322.7 724.5L323.7 724.5L324.7 724.4L325.7 724.4L326.7 724.4L327.7 724.4L328.7 724.4L329.7 724.4L330.7 724.4L331.7 724.5L332.7 724.5L333.7 724.6L334.7 724.7L335.7 724.8L336.7 724.9L337.7 725L338.7 725.1L339.7 725.2L340.7 725.3L341.7 725.5L342.7 725.6L343.7 725.8L344.7 725.9L345.7 726.1L346.7 726.2L347.7 726.4L348.7 726.6L349.7 726.8L350.7 727L351.7 727.3L352.7 727.6L353.7 727.9L354.7 728.3L355.7 728.6L356.7 729L357.7 729.5L358.7 729.9L359.7 730.4L360.7 730.8L361.7 731.3L362.7 731.8L363.7 732.2L364.7 732.7L365.7 733.2L366.7 733.7L367.8 734.1L368.8 734.6L369.8 735.1L370.8 735.6L371.8 736.1L372.8 736.5L373.8 737L374.8 737.5L375.8 738L376.8 738.5L377.8 739L378.8 739.5L379.8 740.1L380.8 740.6L381.8 741.2L382.8 741.8L383.8 742.4L384.8 743L385.8 743.6L386.8 744.3L387.8 745L388.8 745.6L389.8 746.3L390.8 747.1L391.8 747.8L392.8 748.6L393.8 749.3L394.8 750.1L395.8 750.9L396.8 751.7L397.8 752.6L398.8 753.4L399.8 754.2L400.8 755.1L401.8 756L402.8 756.8L403.8 757.7L404.8 758.6L405.8 759.5L406.8 760.4L407.8 761.3L408.8 762.2L409.8 763.1L410.8 764L411.8 764.9L412.8 765.8L413.8 766.8L414.8 767.7L415.8 768.7L416.8 769.6L417.8 770.6L418.8 771.6L419.8 772.6L420.8 773.6L421.8 774.6L422.8 775.6L423.8 776.6L424.9 777.6L425.9 778.6L426.9 779.7L427.9 780.7L428.9 781.8L429.9 782.8L430.9 783.9L431.9 785L432.9 786.1L433.9 787.2L434.9 788.3L435.9 789.4L436.9 790.6L437.9 791.7L438.9 792.9L439.9 794.1L440.9 795.3L441.9 796.5L442.9 797.7L443.9 798.9L444.9 800.1L445.9 801.3L446.9 802.5L447.9 803.7L448.9 804.9L449.9 806.1L450.9 807.3L451.9 808.5L452.9 809.7L453.9 810.9L454.9 812.1L455.9 813.3L456.9 814.5L457.9 815.7L458.9 816.9L459.9 818.1L460.9 819.3L461.9 820.5L462.9 821.8L463.9 823L464.9 824.2L465.9 825.5L466.9 826.7L467.9 828L468.9 829.3L469.9 830.5L470.9 831.8L471.9 833.1L472.9 834.4L473.9 835.6L474.9 836.9L475.9 838.2L476.9 839.5L477.9 840.8L478.9 842.2L479.9 843.5L481 844.9L482 846.4L483 847.9L484 849.4L485 851L486 852.7L487 854.4L488 856.2L489 858.1L490 859.9L491 861.9L492 863.9L493 865.9L494 868L495 870.1L496 872.2L497 874.4L498 876.6L499 878.9L500 881.1L501 883.4L502 885.7L503 888L504 890.4L505 892.8L506 895.2L507 897.6L508 900" fill="none" stroke="#858585" stroke-width="4.1" stroke-linejoin="round"/>
<line x1="330.9" y1="876.4" x2="330.9" y2="556.5" stroke="#000" stroke-width="2.4" stroke-dasharray="9 8.47"/>
<path d="M50.3 876.4V870M99.8 876.4V870M134.9 876.4V870M162.1 876.4V864.4M184.3 876.4V870M203.1 876.4V870M219.4 876.4V870M233.8 876.4V870M246.6 876.4V858.6M331.1 876.4V870M380.6 876.4V870M415.7 876.4V870M442.9 876.4V864.4M465.1 876.4V870M483.9 876.4V870M500.2 876.4V870M514.6 876.4V870M527.4 876.4V858.6" stroke="#000" stroke-width="2.3" fill="none"/>
</g>
<path d="M99.8 876.4V882M246.6 876.4V882M380.6 876.4V882M527.4 876.4V882M35 595.3H29.3M35 716.5H29.3M35 837.6H29.3M556 595.3H561.7M556 837.6H561.7" stroke="#333333" stroke-width="2.3" fill="none"/>
<g font-size="17.6" fill="#4D4D4D"><text x="99.8" y="900" text-anchor="middle">30</text><text x="246.6" y="900" text-anchor="middle">100</text><text x="380.6" y="900" text-anchor="middle">300</text><text x="527.4" y="900" text-anchor="middle">1000</text><text x="24.7" y="601.6" text-anchor="end">1</text><text x="24.7" y="722.8" text-anchor="end">0.5</text><text x="24.7" y="843.9" text-anchor="end">0</text><text x="566.2" y="602.3">RRT</text><text x="566.2" y="844.6">No RRT</text></g><text x="295.5" y="919.6" text-anchor="middle" font-size="16.4" fill="#000">Adm. endostatin (ng/mL)</text><text transform="translate(673 716.5) rotate(90)" text-anchor="middle" font-size="16.4" fill="#000">RRT</text><text x="34.9" y="517" font-size="27.3" fill="#000">(b)</text>
<clipPath id="clip_c"><rect x="35" y="1048.6" width="517" height="319.8"/></clipPath>
<path d="M58.5 1043.8L59.5 1043.7L60.5 1043.6L61.5 1043.5L62.5 1043.4L63.5 1043.2L64.5 1043.1L65.5 1043L66.5 1042.9L67.5 1042.8L68.5 1042.6L69.5 1042.5L70.5 1042.4L71.5 1042.2L72.5 1042.1L73.5 1042L74.5 1041.8L75.5 1041.7L76.5 1041.5L77.5 1041.4L78.5 1041.2L79.5 1041.1L80.5 1040.9L81.5 1040.7L82.5 1040.5L83.5 1040.3L84.5 1040.1L85.5 1039.8L86.5 1039.6L87.5 1039.3L88.5 1038.9L89.5 1038.6L90.5 1038.2L91.5 1037.8L92.5 1037.4L93.5 1037L94.5 1036.5L95.5 1036.1L96.5 1035.6L97.5 1035.1L98.5 1034.6L99.5 1034.1L100.5 1033.5L101.5 1033L102.5 1032.4L103.5 1031.8L104.5 1031.2L105.5 1030.6L106.5 1030L107.5 1029.3L108.5 1028.7L109.5 1028L110.5 1027.3L111.5 1026.6L112.5 1025.8L113.5 1025.1L114.5 1024.4L115.5 1023.6L116.5 1022.9L117.5 1022.1L118.5 1021.3L119.5 1020.6L120.5 1019.8L121.5 1019.1L122.5 1018.4L123.5 1017.6L124.5 1016.9L125.5 1016.2L126.5 1015.5L127.5 1014.7L128.5 1014L129.5 1013.3L130.5 1012.6L131.5 1011.9L132.5 1011.2L133.5 1010.5L134.5 1009.8L135.5 1009.1L136.5 1008.4L137.5 1007.8L138.5 1007.1L139.5 1006.4L140.5 1005.7L141.5 1005L142.5 1004.3L143.5 1003.6L144.5 1002.9L145.5 1002.2L146.5 1001.5L147.5 1000.8L148.5 1000.1L149.5 999.4L150.5 998.7L151.5 998L152.5 997.3L153.5 996.6L154.5 995.9L155.5 995.3L156.5 994.6L157.5 994L158.5 993.5L159.5 992.9L160.5 992.3L161.5 991.8L162.5 991.3L163.5 990.8L164.5 990.3L165.5 989.9L166.5 989.5L167.5 989.1L168.5 988.8L169.5 988.5L170.5 988.3L171.5 988L172.5 987.8L173.5 987.7L174.5 987.6L175.5 987.5L176.6 987.4L177.6 987.4L178.6 987.4L179.6 987.6L180.6 987.8L181.6 988L182.6 988.3L183.6 988.7L184.6 989.1L185.6 989.6L186.6 990.1L187.6 990.7L188.6 991.3L189.6 992L190.6 992.7L191.6 993.5L192.6 994.3L193.6 995.2L194.6 996L195.6 996.9L196.6 997.8L197.6 998.6L198.6 999.5L199.6 1000.4L200.6 1001.3L201.6 1002.1L202.6 1003L203.6 1003.8L204.6 1004.5L205.6 1005.2L206.6 1005.8L207.6 1006.4L208.6 1007L209.6 1007.5L210.6 1008.1L211.6 1008.6L212.6 1009L213.6 1009.4L214.6 1009.7L215.6 1010L216.6 1010.3L217.6 1010.5L218.6 1010.8L219.6 1011L220.6 1011.2L221.6 1011.3L222.6 1011.5L223.6 1011.6L224.6 1011.8L225.6 1012L226.6 1012.2L227.6 1012.4L228.6 1012.5L229.6 1012.7L230.6 1012.9L231.6 1013L232.6 1013.2L233.6 1013.4L234.6 1013.6L235.6 1013.9L236.6 1014.2L237.6 1014.6L238.6 1015L239.6 1015.4L240.6 1015.9L241.6 1016.4L242.6 1016.9L243.6 1017.5L244.6 1018.1L245.6 1018.7L246.6 1019.3L247.6 1020L248.6 1020.7L249.6 1021.3L250.6 1022L251.6 1022.7L252.6 1023.4L253.6 1024.1L254.6 1024.8L255.6 1025.5L256.6 1026.2L257.6 1026.9L258.6 1027.6L259.6 1028.3L260.6 1029L261.6 1029.6L262.6 1030.3L263.6 1030.9L264.6 1031.4L265.6 1032L266.6 1032.5L267.6 1033L268.6 1033.5L269.6 1033.9L270.6 1034.4L271.6 1034.8L272.6 1035.3L273.6 1035.7L274.6 1036L275.6 1036.4L276.6 1036.7L277.6 1037.1L278.6 1037.3L279.6 1037.6L280.6 1037.9L281.6 1038.1L282.6 1038.3L283.6 1038.5L284.6 1038.7L285.6 1038.9L286.6 1039.1L287.6 1039.2L288.6 1039.4L289.6 1039.6L290.6 1039.7L291.6 1039.9L292.6 1040L293.6 1040.2L294.6 1040.3L295.6 1040.5L296.6 1040.6L297.6 1040.8L298.6 1040.9L299.6 1041.1L300.6 1041.2L301.6 1041.4L302.6 1041.5L303.6 1041.7L304.6 1041.8L305.6 1041.9L306.6 1042L307.6 1042.1L308.6 1042.3L309.6 1042.4L310.6 1042.5L311.6 1042.6L312.6 1042.7L313.6 1042.8L314.6 1042.8L315.6 1042.9L316.6 1043L317.6 1043.1L318.6 1043.2L319.6 1043.3L320.6 1043.3L321.6 1043.4L322.6 1043.5L323.6 1043.6L324.6 1043.6L325.6 1043.7L326.6 1043.7L327.6 1043.8L328.6 1043.9L329.6 1043.9L330.6 1044L331.6 1044L332.6 1044.1L333.6 1044.2L334.6 1044.2L335.6 1044.3L336.6 1044.3L337.6 1044.4L338.6 1044.4L339.6 1044.5L340.6 1044.5L341.6 1044.6L342.6 1044.6L343.6 1044.7L344.6 1044.7L345.6 1044.7L346.6 1044.8L347.6 1044.8L348.6 1044.8L349.6 1044.8L350.6 1044.8L351.6 1044.9L352.6 1044.9L353.6 1044.9L354.6 1044.9L355.6 1044.9L356.6 1044.9L357.6 1044.9L358.6 1044.9L359.6 1044.9L360.6 1044.9L361.6 1044.9L362.6 1044.9L363.6 1044.9L364.6 1044.9L365.6 1044.9L366.6 1044.9L367.6 1044.9L368.6 1044.9L369.6 1044.9L370.6 1044.9L371.6 1044.9L372.6 1044.9L373.6 1044.9L374.6 1044.9L375.6 1044.9L376.6 1044.9L377.6 1044.9L378.6 1044.9L379.6 1044.9L380.6 1044.9L381.6 1044.9L382.6 1044.8L383.6 1044.8L384.6 1044.8L385.6 1044.8L386.6 1044.8L387.6 1044.8L388.6 1044.8L389.6 1044.8L390.6 1044.8L391.6 1044.8L392.6 1044.8L393.6 1044.8L394.6 1044.8L395.6 1044.7L396.6 1044.7L397.6 1044.7L398.6 1044.7L399.6 1044.7L400.6 1044.7L401.6 1044.7L402.6 1044.7L403.6 1044.7L404.6 1044.7L405.6 1044.6L406.6 1044.6L407.6 1044.6L408.6 1044.6L409.6 1044.6L410.6 1044.6L411.7 1044.6L412.7 1044.6L413.7 1044.6L414.7 1044.6L415.7 1044.6L416.7 1044.6L417.7 1044.5L418.7 1044.5L419.7 1044.5L420.7 1044.5L421.7 1044.5L422.7 1044.5L423.7 1044.5L424.7 1044.5L425.7 1044.5L426.7 1044.5L427.7 1044.5L428.7 1044.5L429.7 1044.5L430.7 1044.5L431.7 1044.5L432.7 1044.5L433.7 1044.5L434.7 1044.5L435.7 1044.5L436.7 1044.5L437.7 1044.5L438.7 1044.5L439.7 1044.5L440.7 1044.5L441.7 1044.6L442.7 1044.6L443.7 1044.6L444.7 1044.6L445.7 1044.6L446.7 1044.6L447.7 1044.6L448.7 1044.6L449.7 1044.6L450.7 1044.6L451.7 1044.6L452.7 1044.6L453.7 1044.6L454.7 1044.6L455.7 1044.6L456.7 1044.6L457.7 1044.6L458.7 1044.6L459.7 1044.6L460.7 1044.6L461.7 1044.6L462.7 1044.6L463.7 1044.5L464.7 1044.5L465.7 1044.5L466.7 1044.5L467.7 1044.5L468.7 1044.5L469.7 1044.5L470.7 1044.5L471.7 1044.5L472.7 1044.4L473.7 1044.4L474.7 1044.4L475.7 1044.3L476.7 1044.3L477.7 1044.3L478.7 1044.3L479.7 1044.2L480.7 1044.2L481.7 1044.2L482.7 1044.2L483.7 1044.2L484.7 1044.2L485.7 1044.2L486.7 1044.3L487.7 1044.3L488.7 1044.3L489.7 1044.3L490.7 1044.4L491.7 1044.4L492.7 1044.4L493.7 1044.4L494.7 1044.5L495.7 1044.5L496.7 1044.5L497.7 1044.5L498.7 1044.6L499.7 1044.6L500.7 1044.6L501.7 1044.6L502.7 1044.7L503.7 1044.7L504.7 1044.7L505.7 1044.8L506.7 1044.8L507.7 1044.8L508.7 1044.8L509.7 1044.9L510.7 1044.9L511.7 1044.9L512.7 1044.9L513.7 1045L514.7 1045L515.7 1045L516.7 1045L517.7 1045.1L518.7 1045.1L519.7 1045.1L520.7 1045.1L521.7 1045.1L522.7 1045.1L523.7 1045.1L524.7 1045.2L525.7 1045.2L526.7 1045.2L527.7 1045.2L528.7 1045.2L528.7 1045.2L58.5 1045.2Z" fill="#1B9E77" fill-opacity="0.5" stroke="none"/>
<path d="M58.5 1045.1L59.5 1045.1L60.5 1045L61.5 1045L62.5 1045L63.5 1044.9L64.5 1044.9L65.5 1044.9L66.5 1044.8L67.5 1044.8L68.5 1044.7L69.5 1044.7L70.5 1044.6L71.5 1044.6L72.5 1044.5L73.5 1044.5L74.5 1044.4L75.5 1044.3L76.5 1044.3L77.5 1044.2L78.5 1044.2L79.5 1044.1L80.5 1044L81.5 1043.9L82.5 1043.9L83.5 1043.8L84.5 1043.7L85.5 1043.6L86.5 1043.5L87.5 1043.4L88.5 1043.3L89.5 1043.2L90.5 1043.1L91.5 1042.9L92.5 1042.8L93.5 1042.6L94.5 1042.5L95.5 1042.3L96.5 1042L97.5 1041.8L98.5 1041.5L99.5 1041.2L100.5 1040.9L101.5 1040.6L102.5 1040.2L103.5 1039.9L104.5 1039.5L105.5 1039L106.5 1038.6L107.5 1038.1L108.5 1037.7L109.5 1037.2L110.5 1036.8L111.5 1036.4L112.5 1035.9L113.5 1035.5L114.5 1035L115.5 1034.5L116.5 1034L117.5 1033.6L118.5 1033.1L119.5 1032.6L120.5 1032.1L121.5 1031.6L122.5 1031.1L123.5 1030.6L124.5 1030.1L125.5 1029.6L126.5 1029.1L127.5 1028.6L128.5 1028.1L129.5 1027.6L130.5 1027.2L131.5 1026.7L132.5 1026.2L133.5 1025.7L134.5 1025.2L135.5 1024.8L136.5 1024.3L137.5 1023.8L138.5 1023.3L139.5 1022.8L140.5 1022.3L141.5 1021.8L142.5 1021.3L143.5 1020.8L144.5 1020.2L145.5 1019.7L146.5 1019.2L147.5 1018.7L148.5 1018.1L149.5 1017.6L150.5 1017L151.5 1016.3L152.5 1015.7L153.5 1015L154.5 1014.3L155.5 1013.6L156.5 1012.8L157.5 1012L158.5 1011.3L159.5 1010.4L160.5 1009.6L161.5 1008.7L162.5 1007.9L163.5 1007L164.5 1006.1L165.5 1005.1L166.5 1004.2L167.5 1003.4L168.5 1002.5L169.5 1001.7L170.5 1000.8L171.5 1000L172.5 999.3L173.5 998.5L174.5 997.7L175.5 997L176.6 996.2L177.6 995.5L178.6 994.8L179.6 994.2L180.6 993.5L181.6 993L182.6 992.5L183.6 992L184.6 991.5L185.6 991.1L186.6 990.8L187.6 990.5L188.6 990.3L189.6 990.2L190.6 990L191.6 990L192.6 990L193.6 990L194.6 990.1L195.6 990.2L196.6 990.3L197.6 990.5L198.6 990.6L199.6 990.8L200.6 991L201.6 991.2L202.6 991.4L203.6 991.7L204.6 991.9L205.6 992.1L206.6 992.4L207.6 992.6L208.6 992.9L209.6 993.1L210.6 993.4L211.6 993.7L212.6 993.9L213.6 994.2L214.6 994.6L215.6 994.9L216.6 995.3L217.6 995.8L218.6 996.2L219.6 996.7L220.6 997.2L221.6 997.7L222.6 998.2L223.6 998.6L224.6 999L225.6 999.4L226.6 999.8L227.6 1000.2L228.6 1000.7L229.6 1001.2L230.6 1001.7L231.6 1002.2L232.6 1002.8L233.6 1003.4L234.6 1004L235.6 1004.6L236.6 1005.2L237.6 1005.9L238.6 1006.5L239.6 1007.2L240.6 1007.8L241.6 1008.5L242.6 1009.1L243.6 1009.7L244.6 1010.3L245.6 1010.9L246.6 1011.5L247.6 1012L248.6 1012.6L249.6 1013.1L250.6 1013.7L251.6 1014.2L252.6 1014.6L253.6 1015.1L254.6 1015.6L255.6 1016L256.6 1016.4L257.6 1016.9L258.6 1017.3L259.6 1017.7L260.6 1018L261.6 1018.4L262.6 1018.7L263.6 1019.1L264.6 1019.4L265.6 1019.7L266.6 1020.1L267.6 1020.4L268.6 1020.7L269.6 1021.1L270.6 1021.5L271.6 1021.8L272.6 1022.2L273.6 1022.6L274.6 1023L275.6 1023.5L276.6 1023.9L277.6 1024.4L278.6 1024.8L279.6 1025.3L280.6 1025.8L281.6 1026.2L282.6 1026.7L283.6 1027.2L284.6 1027.6L285.6 1028.1L286.6 1028.6L287.6 1029L288.6 1029.5L289.6 1030L290.6 1030.5L291.6 1031L292.6 1031.4L293.6 1031.9L294.6 1032.3L295.6 1032.7L296.6 1033L297.6 1033.3L298.6 1033.7L299.6 1034L300.6 1034.3L301.6 1034.6L302.6 1035L303.6 1035.3L304.6 1035.7L305.6 1036.1L306.6 1036.5L307.6 1036.8L308.6 1037.2L309.6 1037.5L310.6 1037.8L311.6 1038.2L312.6 1038.5L313.6 1038.8L314.6 1039.2L315.6 1039.5L316.6 1039.8L317.6 1040.1L318.6 1040.4L319.6 1040.7L320.6 1041L321.6 1041.3L322.6 1041.5L323.6 1041.8L324.6 1042L325.6 1042.2L326.6 1042.4L327.6 1042.7L328.6 1042.8L329.6 1043L330.6 1043.2L331.6 1043.4L332.6 1043.5L333.6 1043.7L334.6 1043.8L335.6 1043.9L336.6 1044L337.6 1044.1L338.6 1044.2L339.6 1044.3L340.6 1044.4L341.6 1044.4L342.6 1044.5L343.6 1044.5L344.6 1044.5L345.6 1044.6L346.6 1044.6L347.6 1044.6L348.6 1044.6L349.6 1044.6L350.6 1044.6L351.6 1044.6L352.6 1044.6L353.6 1044.5L354.6 1044.5L355.6 1044.5L356.6 1044.5L357.6 1044.5L358.6 1044.4L359.6 1044.4L360.6 1044.4L361.6 1044.4L362.6 1044.4L363.6 1044.3L364.6 1044.3L365.6 1044.3L366.6 1044.3L367.6 1044.2L368.6 1044.2L369.6 1044.2L370.6 1044.2L371.6 1044.1L372.6 1044.1L373.6 1044.1L374.6 1044.1L375.6 1044.1L376.6 1044L377.6 1044L378.6 1044L379.6 1044L380.6 1044L381.6 1044L382.6 1043.9L383.6 1043.9L384.6 1043.9L385.6 1043.9L386.6 1043.9L387.6 1043.9L388.6 1043.9L389.6 1043.8L390.6 1043.8L391.6 1043.8L392.6 1043.8L393.6 1043.8L394.6 1043.8L395.6 1043.8L396.6 1043.8L397.6 1043.8L398.6 1043.8L399.6 1043.8L400.6 1043.8L401.6 1043.7L402.6 1043.7L403.6 1043.7L404.6 1043.7L405.6 1043.7L406.6 1043.7L407.6 1043.7L408.6 1043.6L409.6 1043.6L410.6 1043.6L411.7 1043.6L412.7 1043.5L413.7 1043.5L414.7 1043.5L415.7 1043.4L416.7 1043.4L417.7 1043.4L418.7 1043.3L419.7 1043.3L420.7 1043.3L421.7 1043.2L422.7 1043.2L423.7 1043.2L424.7 1043.1L425.7 1043.1L426.7 1043L427.7 1043L428.7 1042.9L429.7 1042.9L430.7 1042.8L431.7 1042.7L432.7 1042.7L433.7 1042.6L434.7 1042.6L435.7 1042.5L436.7 1042.5L437.7 1042.4L438.7 1042.4L439.7 1042.3L440.7 1042.3L441.7 1042.3L442.7 1042.2L443.7 1042.2L444.7 1042.2L445.7 1042.2L446.7 1042.3L447.7 1042.3L448.7 1042.3L449.7 1042.4L450.7 1042.4L451.7 1042.5L452.7 1042.5L453.7 1042.6L454.7 1042.7L455.7 1042.7L456.7 1042.8L457.7 1042.8L458.7 1042.9L459.7 1043L460.7 1043L461.7 1043.1L462.7 1043.1L463.7 1043.2L464.7 1043.2L465.7 1043.2L466.7 1043.2L467.7 1043.2L468.7 1043.2L469.7 1043.2L470.7 1043.2L471.7 1043.2L472.7 1043.1L473.7 1043.1L474.7 1043.1L475.7 1043.1L476.7 1043.1L477.7 1043L478.7 1043L479.7 1043L480.7 1042.9L481.7 1042.9L482.7 1042.9L483.7 1042.9L484.7 1042.9L485.7 1043L486.7 1043L487.7 1043L488.7 1043.1L489.7 1043.1L490.7 1043.2L491.7 1043.2L492.7 1043.3L493.7 1043.3L494.7 1043.4L495.7 1043.4L496.7 1043.5L497.7 1043.5L498.7 1043.6L499.7 1043.7L500.7 1043.7L501.7 1043.8L502.7 1043.8L503.7 1043.9L504.7 1043.9L505.7 1044L506.7 1044L507.7 1044.1L508.7 1044.1L509.7 1044.2L510.7 1044.2L511.7 1044.3L512.7 1044.3L513.7 1044.3L514.7 1044.4L515.7 1044.4L516.7 1044.4L517.7 1044.5L518.7 1044.5L519.7 1044.5L520.7 1044.5L521.7 1044.5L522.7 1044.5L523.7 1044.6L524.7 1044.6L525.7 1044.6L526.7 1044.6L527.7 1044.6L528.7 1044.6L528.7 1045.2L58.5 1045.2Z" fill="#D95F02" fill-opacity="0.5" stroke="none"/>
<path d="M58.5 1043.8L59.5 1043.7L60.5 1043.6L61.5 1043.5L62.5 1043.4L63.5 1043.2L64.5 1043.1L65.5 1043L66.5 1042.9L67.5 1042.8L68.5 1042.6L69.5 1042.5L70.5 1042.4L71.5 1042.2L72.5 1042.1L73.5 1042L74.5 1041.8L75.5 1041.7L76.5 1041.5L77.5 1041.4L78.5 1041.2L79.5 1041.1L80.5 1040.9L81.5 1040.7L82.5 1040.5L83.5 1040.3L84.5 1040.1L85.5 1039.8L86.5 1039.6L87.5 1039.3L88.5 1038.9L89.5 1038.6L90.5 1038.2L91.5 1037.8L92.5 1037.4L93.5 1037L94.5 1036.5L95.5 1036.1L96.5 1035.6L97.5 1035.1L98.5 1034.6L99.5 1034.1L100.5 1033.5L101.5 1033L102.5 1032.4L103.5 1031.8L104.5 1031.2L105.5 1030.6L106.5 1030L107.5 1029.3L108.5 1028.7L109.5 1028L110.5 1027.3L111.5 1026.6L112.5 1025.8L113.5 1025.1L114.5 1024.4L115.5 1023.6L116.5 1022.9L117.5 1022.1L118.5 1021.3L119.5 1020.6L120.5 1019.8L121.5 1019.1L122.5 1018.4L123.5 1017.6L124.5 1016.9L125.5 1016.2L126.5 1015.5L127.5 1014.7L128.5 1014L129.5 1013.3L130.5 1012.6L131.5 1011.9L132.5 1011.2L133.5 1010.5L134.5 1009.8L135.5 1009.1L136.5 1008.4L137.5 1007.8L138.5 1007.1L139.5 1006.4L140.5 1005.7L141.5 1005L142.5 1004.3L143.5 1003.6L144.5 1002.9L145.5 1002.2L146.5 1001.5L147.5 1000.8L148.5 1000.1L149.5 999.4L150.5 998.7L151.5 998L152.5 997.3L153.5 996.6L154.5 995.9L155.5 995.3L156.5 994.6L157.5 994L158.5 993.5L159.5 992.9L160.5 992.3L161.5 991.8L162.5 991.3L163.5 990.8L164.5 990.3L165.5 989.9L166.5 989.5L167.5 989.1L168.5 988.8L169.5 988.5L170.5 988.3L171.5 988L172.5 987.8L173.5 987.7L174.5 987.6L175.5 987.5L176.6 987.4L177.6 987.4L178.6 987.4L179.6 987.6L180.6 987.8L181.6 988L182.6 988.3L183.6 988.7L184.6 989.1L185.6 989.6L186.6 990.1L187.6 990.7L188.6 991.3L189.6 992L190.6 992.7L191.6 993.5L192.6 994.3L193.6 995.2L194.6 996L195.6 996.9L196.6 997.8L197.6 998.6L198.6 999.5L199.6 1000.4L200.6 1001.3L201.6 1002.1L202.6 1003L203.6 1003.8L204.6 1004.5L205.6 1005.2L206.6 1005.8L207.6 1006.4L208.6 1007L209.6 1007.5L210.6 1008.1L211.6 1008.6L212.6 1009L213.6 1009.4L214.6 1009.7L215.6 1010L216.6 1010.3L217.6 1010.5L218.6 1010.8L219.6 1011L220.6 1011.2L221.6 1011.3L222.6 1011.5L223.6 1011.6L224.6 1011.8L225.6 1012L226.6 1012.2L227.6 1012.4L228.6 1012.5L229.6 1012.7L230.6 1012.9L231.6 1013L232.6 1013.2L233.6 1013.4L234.6 1013.6L235.6 1013.9L236.6 1014.2L237.6 1014.6L238.6 1015L239.6 1015.4L240.6 1015.9L241.6 1016.4L242.6 1016.9L243.6 1017.5L244.6 1018.1L245.6 1018.7L246.6 1019.3L247.6 1020L248.6 1020.7L249.6 1021.3L250.6 1022L251.6 1022.7L252.6 1023.4L253.6 1024.1L254.6 1024.8L255.6 1025.5L256.6 1026.2L257.6 1026.9L258.6 1027.6L259.6 1028.3L260.6 1029L261.6 1029.6L262.6 1030.3L263.6 1030.9L264.6 1031.4L265.6 1032L266.6 1032.5L267.6 1033L268.6 1033.5L269.6 1033.9L270.6 1034.4L271.6 1034.8L272.6 1035.3L273.6 1035.7L274.6 1036L275.6 1036.4L276.6 1036.7L277.6 1037.1L278.6 1037.3L279.6 1037.6L280.6 1037.9L281.6 1038.1L282.6 1038.3L283.6 1038.5L284.6 1038.7L285.6 1038.9L286.6 1039.1L287.6 1039.2L288.6 1039.4L289.6 1039.6L290.6 1039.7L291.6 1039.9L292.6 1040L293.6 1040.2L294.6 1040.3L295.6 1040.5L296.6 1040.6L297.6 1040.8L298.6 1040.9L299.6 1041.1L300.6 1041.2L301.6 1041.4L302.6 1041.5L303.6 1041.7L304.6 1041.8L305.6 1041.9L306.6 1042L307.6 1042.1L308.6 1042.3L309.6 1042.4L310.6 1042.5L311.6 1042.6L312.6 1042.7L313.6 1042.8L314.6 1042.8L315.6 1042.9L316.6 1043L317.6 1043.1L318.6 1043.2L319.6 1043.3L320.6 1043.3L321.6 1043.4L322.6 1043.5L323.6 1043.6L324.6 1043.6L325.6 1043.7L326.6 1043.7L327.6 1043.8L328.6 1043.9L329.6 1043.9L330.6 1044L331.6 1044L332.6 1044.1L333.6 1044.2L334.6 1044.2L335.6 1044.3L336.6 1044.3L337.6 1044.4L338.6 1044.4L339.6 1044.5L340.6 1044.5L341.6 1044.6L342.6 1044.6L343.6 1044.7L344.6 1044.7L345.6 1044.7L346.6 1044.8L347.6 1044.8L348.6 1044.8L349.6 1044.8L350.6 1044.8L351.6 1044.9L352.6 1044.9L353.6 1044.9L354.6 1044.9L355.6 1044.9L356.6 1044.9L357.6 1044.9L358.6 1044.9L359.6 1044.9L360.6 1044.9L361.6 1044.9L362.6 1044.9L363.6 1044.9L364.6 1044.9L365.6 1044.9L366.6 1044.9L367.6 1044.9L368.6 1044.9L369.6 1044.9L370.6 1044.9L371.6 1044.9L372.6 1044.9L373.6 1044.9L374.6 1044.9L375.6 1044.9L376.6 1044.9L377.6 1044.9L378.6 1044.9L379.6 1044.9L380.6 1044.9L381.6 1044.9L382.6 1044.8L383.6 1044.8L384.6 1044.8L385.6 1044.8L386.6 1044.8L387.6 1044.8L388.6 1044.8L389.6 1044.8L390.6 1044.8L391.6 1044.8L392.6 1044.8L393.6 1044.8L394.6 1044.8L395.6 1044.7L396.6 1044.7L397.6 1044.7L398.6 1044.7L399.6 1044.7L400.6 1044.7L401.6 1044.7L402.6 1044.7L403.6 1044.7L404.6 1044.7L405.6 1044.6L406.6 1044.6L407.6 1044.6L408.6 1044.6L409.6 1044.6L410.6 1044.6L411.7 1044.6L412.7 1044.6L413.7 1044.6L414.7 1044.6L415.7 1044.6L416.7 1044.6L417.7 1044.5L418.7 1044.5L419.7 1044.5L420.7 1044.5L421.7 1044.5L422.7 1044.5L423.7 1044.5L424.7 1044.5L425.7 1044.5L426.7 1044.5L427.7 1044.5L428.7 1044.5L429.7 1044.5L430.7 1044.5L431.7 1044.5L432.7 1044.5L433.7 1044.5L434.7 1044.5L435.7 1044.5L436.7 1044.5L437.7 1044.5L438.7 1044.5L439.7 1044.5L440.7 1044.5L441.7 1044.6L442.7 1044.6L443.7 1044.6L444.7 1044.6L445.7 1044.6L446.7 1044.6L447.7 1044.6L448.7 1044.6L449.7 1044.6L450.7 1044.6L451.7 1044.6L452.7 1044.6L453.7 1044.6L454.7 1044.6L455.7 1044.6L456.7 1044.6L457.7 1044.6L458.7 1044.6L459.7 1044.6L460.7 1044.6L461.7 1044.6L462.7 1044.6L463.7 1044.5L464.7 1044.5L465.7 1044.5L466.7 1044.5L467.7 1044.5L468.7 1044.5L469.7 1044.5L470.7 1044.5L471.7 1044.5L472.7 1044.4L473.7 1044.4L474.7 1044.4L475.7 1044.3L476.7 1044.3L477.7 1044.3L478.7 1044.3L479.7 1044.2L480.7 1044.2L481.7 1044.2L482.7 1044.2L483.7 1044.2L484.7 1044.2L485.7 1044.2L486.7 1044.3L487.7 1044.3L488.7 1044.3L489.7 1044.3L490.7 1044.4L491.7 1044.4L492.7 1044.4L493.7 1044.4L494.7 1044.5L495.7 1044.5L496.7 1044.5L497.7 1044.5L498.7 1044.6L499.7 1044.6L500.7 1044.6L501.7 1044.6L502.7 1044.7L503.7 1044.7L504.7 1044.7L505.7 1044.8L506.7 1044.8L507.7 1044.8L508.7 1044.8L509.7 1044.9L510.7 1044.9L511.7 1044.9L512.7 1044.9L513.7 1045L514.7 1045L515.7 1045L516.7 1045L517.7 1045.1L518.7 1045.1L519.7 1045.1L520.7 1045.1L521.7 1045.1L522.7 1045.1L523.7 1045.1L524.7 1045.2L525.7 1045.2L526.7 1045.2L527.7 1045.2L528.7 1045.2" fill="none" stroke="#000" stroke-width="2.3" stroke-linejoin="round"/>
<path d="M58.5 1045.1L59.5 1045.1L60.5 1045L61.5 1045L62.5 1045L63.5 1044.9L64.5 1044.9L65.5 1044.9L66.5 1044.8L67.5 1044.8L68.5 1044.7L69.5 1044.7L70.5 1044.6L71.5 1044.6L72.5 1044.5L73.5 1044.5L74.5 1044.4L75.5 1044.3L76.5 1044.3L77.5 1044.2L78.5 1044.2L79.5 1044.1L80.5 1044L81.5 1043.9L82.5 1043.9L83.5 1043.8L84.5 1043.7L85.5 1043.6L86.5 1043.5L87.5 1043.4L88.5 1043.3L89.5 1043.2L90.5 1043.1L91.5 1042.9L92.5 1042.8L93.5 1042.6L94.5 1042.5L95.5 1042.3L96.5 1042L97.5 1041.8L98.5 1041.5L99.5 1041.2L100.5 1040.9L101.5 1040.6L102.5 1040.2L103.5 1039.9L104.5 1039.5L105.5 1039L106.5 1038.6L107.5 1038.1L108.5 1037.7L109.5 1037.2L110.5 1036.8L111.5 1036.4L112.5 1035.9L113.5 1035.5L114.5 1035L115.5 1034.5L116.5 1034L117.5 1033.6L118.5 1033.1L119.5 1032.6L120.5 1032.1L121.5 1031.6L122.5 1031.1L123.5 1030.6L124.5 1030.1L125.5 1029.6L126.5 1029.1L127.5 1028.6L128.5 1028.1L129.5 1027.6L130.5 1027.2L131.5 1026.7L132.5 1026.2L133.5 1025.7L134.5 1025.2L135.5 1024.8L136.5 1024.3L137.5 1023.8L138.5 1023.3L139.5 1022.8L140.5 1022.3L141.5 1021.8L142.5 1021.3L143.5 1020.8L144.5 1020.2L145.5 1019.7L146.5 1019.2L147.5 1018.7L148.5 1018.1L149.5 1017.6L150.5 1017L151.5 1016.3L152.5 1015.7L153.5 1015L154.5 1014.3L155.5 1013.6L156.5 1012.8L157.5 1012L158.5 1011.3L159.5 1010.4L160.5 1009.6L161.5 1008.7L162.5 1007.9L163.5 1007L164.5 1006.1L165.5 1005.1L166.5 1004.2L167.5 1003.4L168.5 1002.5L169.5 1001.7L170.5 1000.8L171.5 1000L172.5 999.3L173.5 998.5L174.5 997.7L175.5 997L176.6 996.2L177.6 995.5L178.6 994.8L179.6 994.2L180.6 993.5L181.6 993L182.6 992.5L183.6 992L184.6 991.5L185.6 991.1L186.6 990.8L187.6 990.5L188.6 990.3L189.6 990.2L190.6 990L191.6 990L192.6 990L193.6 990L194.6 990.1L195.6 990.2L196.6 990.3L197.6 990.5L198.6 990.6L199.6 990.8L200.6 991L201.6 991.2L202.6 991.4L203.6 991.7L204.6 991.9L205.6 992.1L206.6 992.4L207.6 992.6L208.6 992.9L209.6 993.1L210.6 993.4L211.6 993.7L212.6 993.9L213.6 994.2L214.6 994.6L215.6 994.9L216.6 995.3L217.6 995.8L218.6 996.2L219.6 996.7L220.6 997.2L221.6 997.7L222.6 998.2L223.6 998.6L224.6 999L225.6 999.4L226.6 999.8L227.6 1000.2L228.6 1000.7L229.6 1001.2L230.6 1001.7L231.6 1002.2L232.6 1002.8L233.6 1003.4L234.6 1004L235.6 1004.6L236.6 1005.2L237.6 1005.9L238.6 1006.5L239.6 1007.2L240.6 1007.8L241.6 1008.5L242.6 1009.1L243.6 1009.7L244.6 1010.3L245.6 1010.9L246.6 1011.5L247.6 1012L248.6 1012.6L249.6 1013.1L250.6 1013.7L251.6 1014.2L252.6 1014.6L253.6 1015.1L254.6 1015.6L255.6 1016L256.6 1016.4L257.6 1016.9L258.6 1017.3L259.6 1017.7L260.6 1018L261.6 1018.4L262.6 1018.7L263.6 1019.1L264.6 1019.4L265.6 1019.7L266.6 1020.1L267.6 1020.4L268.6 1020.7L269.6 1021.1L270.6 1021.5L271.6 1021.8L272.6 1022.2L273.6 1022.6L274.6 1023L275.6 1023.5L276.6 1023.9L277.6 1024.4L278.6 1024.8L279.6 1025.3L280.6 1025.8L281.6 1026.2L282.6 1026.7L283.6 1027.2L284.6 1027.6L285.6 1028.1L286.6 1028.6L287.6 1029L288.6 1029.5L289.6 1030L290.6 1030.5L291.6 1031L292.6 1031.4L293.6 1031.9L294.6 1032.3L295.6 1032.7L296.6 1033L297.6 1033.3L298.6 1033.7L299.6 1034L300.6 1034.3L301.6 1034.6L302.6 1035L303.6 1035.3L304.6 1035.7L305.6 1036.1L306.6 1036.5L307.6 1036.8L308.6 1037.2L309.6 1037.5L310.6 1037.8L311.6 1038.2L312.6 1038.5L313.6 1038.8L314.6 1039.2L315.6 1039.5L316.6 1039.8L317.6 1040.1L318.6 1040.4L319.6 1040.7L320.6 1041L321.6 1041.3L322.6 1041.5L323.6 1041.8L324.6 1042L325.6 1042.2L326.6 1042.4L327.6 1042.7L328.6 1042.8L329.6 1043L330.6 1043.2L331.6 1043.4L332.6 1043.5L333.6 1043.7L334.6 1043.8L335.6 1043.9L336.6 1044L337.6 1044.1L338.6 1044.2L339.6 1044.3L340.6 1044.4L341.6 1044.4L342.6 1044.5L343.6 1044.5L344.6 1044.5L345.6 1044.6L346.6 1044.6L347.6 1044.6L348.6 1044.6L349.6 1044.6L350.6 1044.6L351.6 1044.6L352.6 1044.6L353.6 1044.5L354.6 1044.5L355.6 1044.5L356.6 1044.5L357.6 1044.5L358.6 1044.4L359.6 1044.4L360.6 1044.4L361.6 1044.4L362.6 1044.4L363.6 1044.3L364.6 1044.3L365.6 1044.3L366.6 1044.3L367.6 1044.2L368.6 1044.2L369.6 1044.2L370.6 1044.2L371.6 1044.1L372.6 1044.1L373.6 1044.1L374.6 1044.1L375.6 1044.1L376.6 1044L377.6 1044L378.6 1044L379.6 1044L380.6 1044L381.6 1044L382.6 1043.9L383.6 1043.9L384.6 1043.9L385.6 1043.9L386.6 1043.9L387.6 1043.9L388.6 1043.9L389.6 1043.8L390.6 1043.8L391.6 1043.8L392.6 1043.8L393.6 1043.8L394.6 1043.8L395.6 1043.8L396.6 1043.8L397.6 1043.8L398.6 1043.8L399.6 1043.8L400.6 1043.8L401.6 1043.7L402.6 1043.7L403.6 1043.7L404.6 1043.7L405.6 1043.7L406.6 1043.7L407.6 1043.7L408.6 1043.6L409.6 1043.6L410.6 1043.6L411.7 1043.6L412.7 1043.5L413.7 1043.5L414.7 1043.5L415.7 1043.4L416.7 1043.4L417.7 1043.4L418.7 1043.3L419.7 1043.3L420.7 1043.3L421.7 1043.2L422.7 1043.2L423.7 1043.2L424.7 1043.1L425.7 1043.1L426.7 1043L427.7 1043L428.7 1042.9L429.7 1042.9L430.7 1042.8L431.7 1042.7L432.7 1042.7L433.7 1042.6L434.7 1042.6L435.7 1042.5L436.7 1042.5L437.7 1042.4L438.7 1042.4L439.7 1042.3L440.7 1042.3L441.7 1042.3L442.7 1042.2L443.7 1042.2L444.7 1042.2L445.7 1042.2L446.7 1042.3L447.7 1042.3L448.7 1042.3L449.7 1042.4L450.7 1042.4L451.7 1042.5L452.7 1042.5L453.7 1042.6L454.7 1042.7L455.7 1042.7L456.7 1042.8L457.7 1042.8L458.7 1042.9L459.7 1043L460.7 1043L461.7 1043.1L462.7 1043.1L463.7 1043.2L464.7 1043.2L465.7 1043.2L466.7 1043.2L467.7 1043.2L468.7 1043.2L469.7 1043.2L470.7 1043.2L471.7 1043.2L472.7 1043.1L473.7 1043.1L474.7 1043.1L475.7 1043.1L476.7 1043.1L477.7 1043L478.7 1043L479.7 1043L480.7 1042.9L481.7 1042.9L482.7 1042.9L483.7 1042.9L484.7 1042.9L485.7 1043L486.7 1043L487.7 1043L488.7 1043.1L489.7 1043.1L490.7 1043.2L491.7 1043.2L492.7 1043.3L493.7 1043.3L494.7 1043.4L495.7 1043.4L496.7 1043.5L497.7 1043.5L498.7 1043.6L499.7 1043.7L500.7 1043.7L501.7 1043.8L502.7 1043.8L503.7 1043.9L504.7 1043.9L505.7 1044L506.7 1044L507.7 1044.1L508.7 1044.1L509.7 1044.2L510.7 1044.2L511.7 1044.3L512.7 1044.3L513.7 1044.3L514.7 1044.4L515.7 1044.4L516.7 1044.4L517.7 1044.5L518.7 1044.5L519.7 1044.5L520.7 1044.5L521.7 1044.5L522.7 1044.5L523.7 1044.6L524.7 1044.6L525.7 1044.6L526.7 1044.6L527.7 1044.6L528.7 1044.6" fill="none" stroke="#000" stroke-width="2.3" stroke-linejoin="round"/>
<rect x="35" y="1048.6" width="517" height="319.8" fill="#EBEBEB"/>
<g clip-path="url(#clip_c)">
<path d="M38 1048.6V1368.4M186 1048.6V1368.4M327.5 1048.6V1368.4M469 1048.6V1368.4M617 1048.6V1368.4M35 1148H552M35 1269.1H552" stroke="#fff" stroke-width="1.05" fill="none"/>
<path d="M112 1048.6V1368.4M260 1048.6V1368.4M395 1048.6V1368.4M543 1048.6V1368.4M35 1087.4H552M35 1208.6H552M35 1329.7H552" stroke="#fff" stroke-width="2.1" fill="none"/>
<g fill="#1B9E77" fill-opacity="0.64" stroke="#1B9E77" stroke-opacity="0.85" stroke-width="0.9"><circle cx="58.2" cy="1305.7" r="2.55"/><circle cx="81.2" cy="1329.7" r="2.55"/><circle cx="92.9" cy="1350.2" r="2.55"/><circle cx="98.7" cy="1337.7" r="2.55"/><circle cx="102.4" cy="1343.2" r="2.55"/><circle cx="107.9" cy="1343.4" r="2.55"/><circle cx="106.1" cy="1353.9" r="2.55"/><circle cx="115.4" cy="1353.9" r="2.55"/><circle cx="108.6" cy="1310.2" r="2.55"/><circle cx="119.4" cy="1311.5" r="2.55"/><circle cx="108.1" cy="1322.7" r="2.55"/><circle cx="112.6" cy="1325.9" r="2.55"/><circle cx="127.9" cy="1315.2" r="2.55"/><circle cx="124.9" cy="1320.7" r="2.55"/><circle cx="121.1" cy="1328.9" r="2.55"/><circle cx="118.6" cy="1331.4" r="2.55"/><circle cx="121.1" cy="1337.7" r="2.55"/><circle cx="118.6" cy="1342.7" r="2.55"/><circle cx="130.6" cy="1328.2" r="2.55"/><circle cx="129.9" cy="1331.9" r="2.55"/><circle cx="130.6" cy="1338.9" r="2.55"/><circle cx="129.4" cy="1344.4" r="2.55"/><circle cx="133.6" cy="1345.2" r="2.55"/><circle cx="133.1" cy="1350.2" r="2.55"/><circle cx="133.1" cy="1353.2" r="2.55"/><circle cx="137.3" cy="1338.9" r="2.55"/><circle cx="137.8" cy="1325.2" r="2.55"/><circle cx="141.6" cy="1331.4" r="2.55"/><circle cx="142.3" cy="1319.4" r="2.55"/><circle cx="142.3" cy="1323.2" r="2.55"/><circle cx="145.3" cy="1322.7" r="2.55"/><circle cx="147.3" cy="1312.7" r="2.55"/><circle cx="149.8" cy="1313.4" r="2.55"/><circle cx="152.3" cy="1315.2" r="2.55"/><circle cx="147.8" cy="1345.2" r="2.55"/><circle cx="149.3" cy="1349.4" r="2.55"/><circle cx="151.1" cy="1339.7" r="2.55"/><circle cx="157.3" cy="1305.7" r="2.55"/><circle cx="163.6" cy="1352.7" r="2.55"/><circle cx="267.5" cy="1310.8" r="2.55"/><circle cx="260.5" cy="1312" r="2.55"/><circle cx="267.5" cy="1314.8" r="2.55"/><circle cx="254.5" cy="1317.3" r="2.55"/><circle cx="260.7" cy="1317.8" r="2.55"/><circle cx="250" cy="1319.5" r="2.55"/><circle cx="257.5" cy="1321" r="2.55"/><circle cx="250.5" cy="1324" r="2.55"/><circle cx="257" cy="1325.8" r="2.55"/><circle cx="242.5" cy="1322.3" r="2.55"/><circle cx="245.5" cy="1325.3" r="2.55"/><circle cx="241.2" cy="1327.7" r="2.55"/><circle cx="247" cy="1333.2" r="2.55"/><circle cx="256.2" cy="1333.2" r="2.55"/><circle cx="262.5" cy="1336" r="2.55"/><circle cx="247" cy="1337.7" r="2.55"/><circle cx="263.7" cy="1343.2" r="2.55"/><circle cx="266.2" cy="1344.7" r="2.55"/><circle cx="251.2" cy="1346" r="2.55"/><circle cx="249.5" cy="1349.7" r="2.55"/><circle cx="245" cy="1352.2" r="2.55"/><circle cx="241.2" cy="1352.7" r="2.55"/><circle cx="258" cy="1353.5" r="2.55"/><circle cx="278" cy="1334.5" r="2.55"/><circle cx="308.1" cy="1307.5" r="2.55"/><circle cx="289.9" cy="1326.5" r="2.55"/><circle cx="287.4" cy="1329.5" r="2.55"/><circle cx="304.4" cy="1325" r="2.55"/><circle cx="307.4" cy="1331.5" r="2.55"/><circle cx="301.2" cy="1333.5" r="2.55"/><circle cx="297.4" cy="1335.2" r="2.55"/><circle cx="303.7" cy="1338.5" r="2.55"/><circle cx="307.9" cy="1338.2" r="2.55"/><circle cx="306.1" cy="1341.5" r="2.55"/><circle cx="294.4" cy="1342" r="2.55"/><circle cx="296.2" cy="1342.2" r="2.55"/><circle cx="288.9" cy="1345" r="2.55"/><circle cx="292.4" cy="1349.5" r="2.55"/><circle cx="317.6" cy="1333.5" r="2.55"/><circle cx="356.8" cy="1338" r="2.55"/><circle cx="406.5" cy="1311.5" r="2.55"/><circle cx="419.9" cy="1315.2" r="2.55"/><circle cx="442.9" cy="1310.5" r="2.55"/><circle cx="421.9" cy="1337.2" r="2.55"/><circle cx="444.9" cy="1335.9" r="2.55"/><circle cx="445.1" cy="1345.2" r="2.55"/><circle cx="485.3" cy="1329.7" r="2.55"/><circle cx="476.4" cy="1352.1" r="2.55"/><circle cx="503.1" cy="1341.9" r="2.55"/><circle cx="521.3" cy="1349.7" r="2.55"/><circle cx="208.1" cy="1329" r="2.55"/><circle cx="176.6" cy="1307.2" r="2.55"/><circle cx="228.6" cy="1341.6" r="2.55"/><circle cx="200.3" cy="1338.7" r="2.55"/><circle cx="159" cy="1330.8" r="2.55"/><circle cx="205.5" cy="1312" r="2.55"/><circle cx="190.9" cy="1347" r="2.55"/><circle cx="173.3" cy="1318.7" r="2.55"/><circle cx="203.2" cy="1322.1" r="2.55"/><circle cx="169.2" cy="1315.6" r="2.55"/><circle cx="166.8" cy="1318.4" r="2.55"/><circle cx="173.4" cy="1346.6" r="2.55"/><circle cx="161" cy="1327" r="2.55"/><circle cx="156.2" cy="1331.6" r="2.55"/><circle cx="200.2" cy="1323.4" r="2.55"/><circle cx="186.5" cy="1322.6" r="2.55"/><circle cx="155.8" cy="1306.9" r="2.55"/><circle cx="169.2" cy="1320.3" r="2.55"/><circle cx="209.1" cy="1334.8" r="2.55"/><circle cx="218.5" cy="1343.5" r="2.55"/><circle cx="188.3" cy="1318.2" r="2.55"/><circle cx="155.8" cy="1315.5" r="2.55"/><circle cx="222.8" cy="1328" r="2.55"/><circle cx="160.6" cy="1311.4" r="2.55"/><circle cx="161.1" cy="1333.9" r="2.55"/><circle cx="198.8" cy="1346.5" r="2.55"/><circle cx="172.1" cy="1319.1" r="2.55"/><circle cx="155.9" cy="1351" r="2.55"/><circle cx="178.3" cy="1330.6" r="2.55"/><circle cx="197.2" cy="1318.4" r="2.55"/><circle cx="162.5" cy="1350.7" r="2.55"/><circle cx="180" cy="1315" r="2.55"/><circle cx="174.5" cy="1339.5" r="2.55"/><circle cx="194.4" cy="1333.6" r="2.55"/><circle cx="177.5" cy="1306.5" r="2.55"/><circle cx="231.6" cy="1335.6" r="2.55"/><circle cx="162.6" cy="1319.2" r="2.55"/><circle cx="164.2" cy="1330.7" r="2.55"/><circle cx="179.6" cy="1311" r="2.55"/><circle cx="192.4" cy="1315.3" r="2.55"/><circle cx="192.2" cy="1313.2" r="2.55"/><circle cx="159.7" cy="1330.3" r="2.55"/><circle cx="210.3" cy="1341.6" r="2.55"/><circle cx="222.2" cy="1351.3" r="2.55"/><circle cx="191.6" cy="1325.6" r="2.55"/><circle cx="192.8" cy="1329.8" r="2.55"/><circle cx="188.2" cy="1325.8" r="2.55"/><circle cx="239.1" cy="1338.2" r="2.55"/><circle cx="175.3" cy="1309.6" r="2.55"/><circle cx="236.4" cy="1306.5" r="2.55"/><circle cx="232.7" cy="1325.9" r="2.55"/><circle cx="193.3" cy="1321.4" r="2.55"/><circle cx="227" cy="1334.6" r="2.55"/><circle cx="185.3" cy="1340.4" r="2.55"/><circle cx="160.7" cy="1345.9" r="2.55"/><circle cx="188.5" cy="1349.7" r="2.55"/><circle cx="177" cy="1320.6" r="2.55"/><circle cx="177.7" cy="1339.5" r="2.55"/><circle cx="170.2" cy="1326.6" r="2.55"/><circle cx="151.4" cy="1312.6" r="2.55"/><circle cx="235.6" cy="1311.6" r="2.55"/><circle cx="171.3" cy="1317.6" r="2.55"/><circle cx="237.6" cy="1331.4" r="2.55"/><circle cx="213.2" cy="1311.8" r="2.55"/><circle cx="175.3" cy="1335.3" r="2.55"/><circle cx="190.9" cy="1342.4" r="2.55"/><circle cx="237.6" cy="1346.5" r="2.55"/><circle cx="162" cy="1348.5" r="2.55"/><circle cx="209.5" cy="1337.6" r="2.55"/><circle cx="184.5" cy="1337" r="2.55"/><circle cx="191.3" cy="1349.8" r="2.55"/><circle cx="198.4" cy="1313.1" r="2.55"/><circle cx="191.8" cy="1324.3" r="2.55"/><circle cx="229.2" cy="1329.8" r="2.55"/><circle cx="194.2" cy="1343.5" r="2.55"/><circle cx="232.4" cy="1318.6" r="2.55"/><circle cx="233.3" cy="1324" r="2.55"/><circle cx="226.3" cy="1308.7" r="2.55"/><circle cx="188" cy="1349.2" r="2.55"/><circle cx="211" cy="1315.3" r="2.55"/><circle cx="151.5" cy="1311.2" r="2.55"/><circle cx="194.2" cy="1329" r="2.55"/><circle cx="189.7" cy="1338.3" r="2.55"/><circle cx="173.3" cy="1319.8" r="2.55"/><circle cx="227.1" cy="1339.5" r="2.55"/><circle cx="188.8" cy="1318.1" r="2.55"/><circle cx="177.4" cy="1320.5" r="2.55"/><circle cx="178.8" cy="1350" r="2.55"/><circle cx="201.4" cy="1309" r="2.55"/><circle cx="156.2" cy="1343.8" r="2.55"/><circle cx="179.9" cy="1325.5" r="2.55"/><circle cx="211.8" cy="1344.2" r="2.55"/><circle cx="234.4" cy="1320.9" r="2.55"/><circle cx="196.8" cy="1337.1" r="2.55"/><circle cx="182.5" cy="1340" r="2.55"/><circle cx="217.5" cy="1323.2" r="2.55"/><circle cx="221.9" cy="1306.7" r="2.55"/><circle cx="170.8" cy="1351.4" r="2.55"/><circle cx="228.3" cy="1316.2" r="2.55"/><circle cx="220" cy="1322.1" r="2.55"/><circle cx="168.1" cy="1306.6" r="2.55"/><circle cx="221.1" cy="1317.6" r="2.55"/><circle cx="180.8" cy="1315" r="2.55"/><circle cx="174" cy="1315.2" r="2.55"/><circle cx="211.5" cy="1346" r="2.55"/><circle cx="166.5" cy="1309.3" r="2.55"/><circle cx="211.6" cy="1340.1" r="2.55"/><circle cx="228" cy="1331.3" r="2.55"/><circle cx="175" cy="1309.1" r="2.55"/><circle cx="181.1" cy="1319.4" r="2.55"/><circle cx="190.9" cy="1314.5" r="2.55"/><circle cx="162.3" cy="1316.5" r="2.55"/><circle cx="192.3" cy="1347.7" r="2.55"/><circle cx="183.1" cy="1323.3" r="2.55"/><circle cx="236.9" cy="1343.2" r="2.55"/><circle cx="202.3" cy="1342.1" r="2.55"/><circle cx="207.4" cy="1322" r="2.55"/><circle cx="213.3" cy="1311.5" r="2.55"/><circle cx="201.7" cy="1348.7" r="2.55"/><circle cx="159.7" cy="1321.4" r="2.55"/><circle cx="186" cy="1329.4" r="2.55"/><circle cx="224.7" cy="1332.6" r="2.55"/><circle cx="228" cy="1319.2" r="2.55"/><circle cx="158.5" cy="1339.1" r="2.55"/><circle cx="166.1" cy="1337.5" r="2.55"/><circle cx="173.9" cy="1336.4" r="2.55"/><circle cx="193.5" cy="1313.4" r="2.55"/><circle cx="171" cy="1342.9" r="2.55"/><circle cx="177.8" cy="1342.8" r="2.55"/><circle cx="226.9" cy="1312.6" r="2.55"/><circle cx="169.1" cy="1329.7" r="2.55"/><circle cx="193" cy="1348.4" r="2.55"/><circle cx="172" cy="1342.4" r="2.55"/><circle cx="164.1" cy="1342.2" r="2.55"/><circle cx="236.9" cy="1323.8" r="2.55"/><circle cx="185.6" cy="1317.9" r="2.55"/><circle cx="203.3" cy="1316.8" r="2.55"/><circle cx="170.1" cy="1350" r="2.55"/><circle cx="159" cy="1344.3" r="2.55"/><circle cx="220.6" cy="1345" r="2.55"/><circle cx="154.9" cy="1325.1" r="2.55"/><circle cx="220.2" cy="1336.6" r="2.55"/><circle cx="179.5" cy="1320.8" r="2.55"/><circle cx="231.8" cy="1334.9" r="2.55"/><circle cx="228.8" cy="1338.9" r="2.55"/><circle cx="169.9" cy="1307.5" r="2.55"/><circle cx="188.9" cy="1316.8" r="2.55"/><circle cx="200.3" cy="1335.4" r="2.55"/><circle cx="237.3" cy="1322.4" r="2.55"/><circle cx="214.4" cy="1310.3" r="2.55"/><circle cx="169.6" cy="1329.2" r="2.55"/><circle cx="212.5" cy="1336.6" r="2.55"/><circle cx="202.4" cy="1342.9" r="2.55"/><circle cx="213.3" cy="1311.2" r="2.55"/><circle cx="220.7" cy="1324.1" r="2.55"/><circle cx="168.1" cy="1346.8" r="2.55"/><circle cx="212.5" cy="1316.3" r="2.55"/><circle cx="232.3" cy="1314.8" r="2.55"/><circle cx="211.8" cy="1339.8" r="2.55"/><circle cx="232.7" cy="1332.8" r="2.55"/><circle cx="239.2" cy="1335.6" r="2.55"/><circle cx="215.5" cy="1315.1" r="2.55"/><circle cx="197.5" cy="1307" r="2.55"/><circle cx="182.4" cy="1333.5" r="2.55"/><circle cx="193.6" cy="1339.8" r="2.55"/><circle cx="154" cy="1326" r="2.55"/><circle cx="209.1" cy="1326.9" r="2.55"/><circle cx="232.3" cy="1319.8" r="2.55"/><circle cx="188.4" cy="1351.1" r="2.55"/><circle cx="196.4" cy="1353.4" r="2.55"/><circle cx="198.6" cy="1308.4" r="2.55"/><circle cx="199.1" cy="1349.1" r="2.55"/><circle cx="165.7" cy="1345.5" r="2.55"/><circle cx="191.2" cy="1333.6" r="2.55"/><circle cx="165.4" cy="1325.3" r="2.55"/><circle cx="167.3" cy="1348.5" r="2.55"/><circle cx="209.9" cy="1352.1" r="2.55"/><circle cx="216.8" cy="1347.8" r="2.55"/><circle cx="213.6" cy="1326.8" r="2.55"/><circle cx="168.4" cy="1339.7" r="2.55"/><circle cx="190.1" cy="1312.8" r="2.55"/><circle cx="206.8" cy="1353.3" r="2.55"/><circle cx="180.2" cy="1344.7" r="2.55"/><circle cx="226.5" cy="1349.2" r="2.55"/><circle cx="204.6" cy="1322.2" r="2.55"/><circle cx="187.4" cy="1318.8" r="2.55"/><circle cx="211.9" cy="1326.5" r="2.55"/><circle cx="218.3" cy="1308.6" r="2.55"/><circle cx="212" cy="1319.5" r="2.55"/><circle cx="235.1" cy="1308.3" r="2.55"/><circle cx="235.3" cy="1335.7" r="2.55"/><circle cx="156.6" cy="1315.5" r="2.55"/><circle cx="162.9" cy="1347.1" r="2.55"/><circle cx="161.8" cy="1351.2" r="2.55"/><circle cx="167.5" cy="1348.1" r="2.55"/><circle cx="230.8" cy="1349.4" r="2.55"/><circle cx="215" cy="1311.4" r="2.55"/><circle cx="152.1" cy="1337.6" r="2.55"/><circle cx="181.2" cy="1314.5" r="2.55"/><circle cx="198.7" cy="1324.9" r="2.55"/><circle cx="213" cy="1335.2" r="2.55"/><circle cx="203.7" cy="1341" r="2.55"/><circle cx="168.5" cy="1335.7" r="2.55"/><circle cx="184.9" cy="1327.8" r="2.55"/><circle cx="214.7" cy="1332.8" r="2.55"/><circle cx="213.6" cy="1317.1" r="2.55"/><circle cx="202.1" cy="1327.5" r="2.55"/><circle cx="167" cy="1319.3" r="2.55"/><circle cx="168.9" cy="1306.9" r="2.55"/><circle cx="238.7" cy="1324.7" r="2.55"/><circle cx="181.7" cy="1345.5" r="2.55"/><circle cx="204.3" cy="1317.2" r="2.55"/><circle cx="157.9" cy="1342.3" r="2.55"/><circle cx="226.3" cy="1312.5" r="2.55"/><circle cx="220.6" cy="1352.4" r="2.55"/></g>
<g fill="#D95F02" fill-opacity="0.64" stroke="#D95F02" stroke-opacity="0.85" stroke-width="0.9"><circle cx="92.5" cy="1078.3" r="2.55"/><circle cx="109.5" cy="1101.7" r="2.55"/><circle cx="270.5" cy="1063.5" r="2.55"/><circle cx="274.4" cy="1067.8" r="2.55"/><circle cx="296.2" cy="1065.3" r="2.55"/><circle cx="296.6" cy="1065.7" r="2.55"/><circle cx="310.6" cy="1070.3" r="2.55"/><circle cx="305.4" cy="1073.3" r="2.55"/><circle cx="314.1" cy="1077" r="2.55"/><circle cx="330.9" cy="1067.5" r="2.55"/><circle cx="326.4" cy="1082.5" r="2.55"/><circle cx="270" cy="1073.5" r="2.55"/><circle cx="288.2" cy="1079" r="2.55"/><circle cx="271.2" cy="1088.5" r="2.55"/><circle cx="273.7" cy="1089.7" r="2.55"/><circle cx="268" cy="1092" r="2.55"/><circle cx="284.4" cy="1091" r="2.55"/><circle cx="294.2" cy="1088" r="2.55"/><circle cx="286.2" cy="1097.5" r="2.55"/><circle cx="305.9" cy="1095.5" r="2.55"/><circle cx="270.5" cy="1103.2" r="2.55"/><circle cx="307.4" cy="1104" r="2.55"/><circle cx="322.9" cy="1100" r="2.55"/><circle cx="341.1" cy="1105.2" r="2.55"/><circle cx="351.8" cy="1107.2" r="2.55"/><circle cx="391.8" cy="1080.8" r="2.55"/><circle cx="424.7" cy="1071.8" r="2.55"/><circle cx="456.8" cy="1070.4" r="2.55"/><circle cx="445.7" cy="1085" r="2.55"/><circle cx="452.1" cy="1091.4" r="2.55"/><circle cx="424.4" cy="1095.2" r="2.55"/><circle cx="496.2" cy="1064.2" r="2.55"/><circle cx="522.5" cy="1067.5" r="2.55"/><circle cx="141.6" cy="1066.3" r="2.55"/><circle cx="159.6" cy="1063.7" r="2.55"/><circle cx="165.2" cy="1064.3" r="2.55"/><circle cx="176" cy="1065.7" r="2.55"/><circle cx="176.6" cy="1067.3" r="2.55"/><circle cx="198.6" cy="1064.7" r="2.55"/><circle cx="215" cy="1068.7" r="2.55"/><circle cx="219.4" cy="1069.3" r="2.55"/><circle cx="228" cy="1067.7" r="2.55"/><circle cx="231.2" cy="1068.9" r="2.55"/><circle cx="236" cy="1066.9" r="2.55"/><circle cx="250" cy="1065.3" r="2.55"/><circle cx="150.6" cy="1074.7" r="2.55"/><circle cx="161" cy="1071.9" r="2.55"/><circle cx="165" cy="1074.7" r="2.55"/><circle cx="169" cy="1072.9" r="2.55"/><circle cx="171" cy="1074.3" r="2.55"/><circle cx="175" cy="1075.3" r="2.55"/><circle cx="179" cy="1076.3" r="2.55"/><circle cx="182.4" cy="1069.7" r="2.55"/><circle cx="186" cy="1070.3" r="2.55"/><circle cx="185" cy="1075.3" r="2.55"/><circle cx="198.6" cy="1073.7" r="2.55"/><circle cx="197.6" cy="1076.3" r="2.55"/><circle cx="203" cy="1075.9" r="2.55"/><circle cx="207" cy="1075.9" r="2.55"/><circle cx="218" cy="1074.7" r="2.55"/><circle cx="221" cy="1074.3" r="2.55"/><circle cx="225.6" cy="1074.3" r="2.55"/><circle cx="239.6" cy="1070.9" r="2.55"/><circle cx="243" cy="1075.3" r="2.55"/><circle cx="247" cy="1072.9" r="2.55"/><circle cx="249.6" cy="1074.7" r="2.55"/><circle cx="252.4" cy="1076.3" r="2.55"/><circle cx="262" cy="1075.3" r="2.55"/><circle cx="236" cy="1069.7" r="2.55"/><circle cx="158.6" cy="1082.3" r="2.55"/><circle cx="162.6" cy="1082.7" r="2.55"/><circle cx="183" cy="1078.9" r="2.55"/><circle cx="185" cy="1081.3" r="2.55"/><circle cx="189.4" cy="1081.9" r="2.55"/><circle cx="196" cy="1079.3" r="2.55"/><circle cx="199.6" cy="1079.7" r="2.55"/><circle cx="205" cy="1080.3" r="2.55"/><circle cx="210" cy="1079.7" r="2.55"/><circle cx="214" cy="1081.9" r="2.55"/><circle cx="219" cy="1080.9" r="2.55"/><circle cx="228" cy="1080.9" r="2.55"/><circle cx="228.6" cy="1082.5" r="2.55"/><circle cx="237" cy="1080.3" r="2.55"/><circle cx="241" cy="1078.3" r="2.55"/><circle cx="242.4" cy="1079.5" r="2.55"/><circle cx="261" cy="1081.9" r="2.55"/><circle cx="263" cy="1080.7" r="2.55"/><circle cx="139.6" cy="1089.3" r="2.55"/><circle cx="173" cy="1085.3" r="2.55"/><circle cx="184" cy="1083.9" r="2.55"/><circle cx="189" cy="1085.3" r="2.55"/><circle cx="202" cy="1084.7" r="2.55"/><circle cx="207" cy="1084.7" r="2.55"/><circle cx="215" cy="1084.7" r="2.55"/><circle cx="218" cy="1085.7" r="2.55"/><circle cx="233.6" cy="1087.3" r="2.55"/><circle cx="240.6" cy="1085.7" r="2.55"/><circle cx="250.6" cy="1085.3" r="2.55"/><circle cx="255" cy="1086.9" r="2.55"/><circle cx="259" cy="1084.3" r="2.55"/><circle cx="131" cy="1093.7" r="2.55"/><circle cx="137.4" cy="1095.9" r="2.55"/><circle cx="169.4" cy="1091.3" r="2.55"/><circle cx="173.4" cy="1091.3" r="2.55"/><circle cx="182.4" cy="1090.9" r="2.55"/><circle cx="186.6" cy="1092.3" r="2.55"/><circle cx="194" cy="1090.3" r="2.55"/><circle cx="197.4" cy="1094.7" r="2.55"/><circle cx="186" cy="1095.3" r="2.55"/><circle cx="190" cy="1095.3" r="2.55"/><circle cx="224" cy="1093.9" r="2.55"/><circle cx="228" cy="1094.7" r="2.55"/><circle cx="234" cy="1093.9" r="2.55"/><circle cx="247" cy="1093.3" r="2.55"/><circle cx="249.4" cy="1094.7" r="2.55"/><circle cx="257" cy="1090.9" r="2.55"/><circle cx="267" cy="1092.3" r="2.55"/><circle cx="147.4" cy="1097.9" r="2.55"/><circle cx="147.4" cy="1101.7" r="2.55"/><circle cx="154.6" cy="1097.3" r="2.55"/><circle cx="154" cy="1102.3" r="2.55"/><circle cx="170.6" cy="1097.9" r="2.55"/><circle cx="174.6" cy="1100.9" r="2.55"/><circle cx="178.6" cy="1102.9" r="2.55"/><circle cx="185" cy="1096.7" r="2.55"/><circle cx="191.6" cy="1098.9" r="2.55"/><circle cx="185" cy="1102.3" r="2.55"/><circle cx="190" cy="1103.3" r="2.55"/><circle cx="205" cy="1100.9" r="2.55"/><circle cx="208" cy="1103.3" r="2.55"/><circle cx="212.6" cy="1096.7" r="2.55"/><circle cx="222" cy="1098.3" r="2.55"/><circle cx="226" cy="1100.3" r="2.55"/><circle cx="230.6" cy="1099.7" r="2.55"/><circle cx="217.4" cy="1102.7" r="2.55"/><circle cx="236.6" cy="1102.7" r="2.55"/><circle cx="243" cy="1101.3" r="2.55"/><circle cx="249.4" cy="1099.7" r="2.55"/><circle cx="259" cy="1102.3" r="2.55"/><circle cx="265" cy="1099.7" r="2.55"/><circle cx="155" cy="1106.3" r="2.55"/><circle cx="156" cy="1109.3" r="2.55"/><circle cx="159.6" cy="1110.3" r="2.55"/><circle cx="165.6" cy="1110.9" r="2.55"/><circle cx="181.4" cy="1107.7" r="2.55"/><circle cx="181.4" cy="1110.3" r="2.55"/><circle cx="189.4" cy="1111.9" r="2.55"/><circle cx="195.6" cy="1106.3" r="2.55"/><circle cx="198" cy="1111.3" r="2.55"/><circle cx="203.6" cy="1107.7" r="2.55"/><circle cx="206.6" cy="1103.9" r="2.55"/><circle cx="210" cy="1107.7" r="2.55"/><circle cx="212" cy="1110.3" r="2.55"/><circle cx="215" cy="1111.3" r="2.55"/><circle cx="217.6" cy="1109.7" r="2.55"/><circle cx="218" cy="1105.3" r="2.55"/><circle cx="226" cy="1104.9" r="2.55"/><circle cx="238" cy="1107.7" r="2.55"/><circle cx="240.6" cy="1109.3" r="2.55"/><circle cx="245.6" cy="1106.3" r="2.55"/><circle cx="250.6" cy="1106.3" r="2.55"/><circle cx="259" cy="1105.3" r="2.55"/><circle cx="247" cy="1103.9" r="2.55"/></g>
<path d="M71.2 1189.4L72.2 1192L73.2 1194.5L74.2 1196.9L75.2 1199.3L76.2 1201.7L77.2 1203.9L78.2 1206.2L79.2 1208.4L80.2 1210.6L81.2 1212.7L82.2 1214.8L83.2 1216.9L84.2 1218.8L85.2 1220.7L86.2 1222.5L87.2 1224.2L88.2 1225.9L89.2 1227.5L90.2 1229.1L91.2 1230.7L92.2 1232.3L93.2 1233.8L94.2 1235.2L95.2 1236.6L96.2 1238L97.2 1239.2L98.2 1240.4L99.2 1241.5L100.2 1242.6L101.2 1243.7L102.2 1244.7L103.2 1245.7L104.2 1246.6L105.2 1247.5L106.2 1248.4L107.2 1249.1L108.2 1249.9L109.2 1250.6L110.3 1251.3L111.3 1251.9L112.3 1252.6L113.3 1253.1L114.3 1253.7L115.3 1254.2L116.3 1254.7L117.3 1255.1L118.3 1255.5L119.3 1255.8L120.3 1256.1L121.3 1256.4L122.3 1256.6L123.3 1256.8L124.3 1256.9L125.3 1257L126.3 1257.1L127.3 1257.2L128.3 1257.2L129.3 1257.2L130.3 1257.2L131.3 1257.1L132.3 1256.9L133.3 1256.7L134.3 1256.5L135.3 1256.2L136.3 1256L137.3 1255.6L138.3 1255.3L139.3 1254.9L140.3 1254.6L141.3 1254.1L142.3 1253.7L143.3 1253.3L144.3 1252.8L145.3 1252.3L146.3 1251.8L147.3 1251.2L148.3 1250.6L149.3 1250.1L150.3 1249.4L151.3 1248.8L152.3 1248.2L153.3 1247.5L154.3 1246.8L155.3 1246L156.3 1245.2L157.3 1244.4L158.3 1243.6L159.3 1242.7L160.3 1241.7L161.3 1240.8L162.3 1239.8L163.3 1238.8L164.3 1237.8L165.3 1236.8L166.3 1235.8L167.3 1234.8L168.3 1233.8L169.3 1232.8L170.3 1231.9L171.3 1230.9L172.3 1230L173.3 1229.2L174.3 1228.4L175.3 1227.6L176.3 1226.9L177.3 1226.3L178.3 1225.7L179.3 1225.1L180.3 1224.6L181.3 1224L182.3 1223.6L183.3 1223.1L184.3 1222.6L185.3 1222.1L186.4 1221.7L187.4 1221.2L188.4 1220.7L189.4 1220.3L190.4 1219.8L191.4 1219.4L192.4 1218.9L193.4 1218.5L194.4 1218.1L195.4 1217.7L196.4 1217.3L197.4 1216.9L198.4 1216.5L199.4 1216.1L200.4 1215.7L201.4 1215.4L202.4 1215L203.4 1214.6L204.4 1214.2L205.4 1213.8L206.4 1213.5L207.4 1213.1L208.4 1212.7L209.4 1212.3L210.4 1212L211.4 1211.6L212.4 1211.2L213.4 1210.9L214.4 1210.5L215.4 1210.1L216.4 1209.7L217.4 1209.3L218.4 1208.9L219.4 1208.4L220.4 1207.9L221.4 1207.4L222.4 1206.9L223.4 1206.4L224.4 1205.8L225.4 1205.2L226.4 1204.6L227.4 1204L228.4 1203.4L229.4 1202.8L230.4 1202.2L231.4 1201.6L232.4 1200.9L233.4 1200.3L234.4 1199.6L235.4 1199L236.4 1198.3L237.4 1197.6L238.4 1197L239.4 1196.3L240.4 1195.6L241.4 1194.9L242.4 1194.2L243.4 1193.6L244.4 1192.9L245.4 1192.2L246.4 1191.6L247.4 1190.9L248.4 1190.2L249.4 1189.6L250.4 1188.9L251.4 1188.3L252.4 1187.6L253.4 1187L254.4 1186.3L255.4 1185.7L256.4 1185.1L257.4 1184.4L258.4 1183.8L259.4 1183.1L260.4 1182.5L261.4 1181.8L262.5 1181.2L263.5 1180.6L264.5 1179.9L265.5 1179.3L266.5 1178.6L267.5 1178L268.5 1177.4L269.5 1176.7L270.5 1176.1L271.5 1175.4L272.5 1174.8L273.5 1174.2L274.5 1173.5L275.5 1172.9L276.5 1172.2L277.5 1171.6L278.5 1171L279.5 1170.3L280.5 1169.7L281.5 1169.1L282.5 1168.5L283.5 1167.9L284.5 1167.3L285.5 1166.7L286.5 1166.2L287.5 1165.6L288.5 1165.1L289.5 1164.6L290.5 1164L291.5 1163.5L292.5 1163L293.5 1162.4L294.5 1161.9L295.5 1161.4L296.5 1160.9L297.5 1160.3L298.5 1159.8L299.5 1159.3L300.5 1158.8L301.5 1158.3L302.5 1157.8L303.5 1157.3L304.5 1156.9L305.5 1156.4L306.5 1156L307.5 1155.5L308.5 1155.1L309.5 1154.7L310.5 1154.4L311.5 1154L312.5 1153.7L313.5 1153.4L314.5 1153L315.5 1152.8L316.5 1152.5L317.5 1152.2L318.5 1152L319.5 1151.7L320.5 1151.5L321.5 1151.2L322.5 1151L323.5 1150.8L324.5 1150.6L325.5 1150.4L326.5 1150.2L327.5 1150L328.5 1149.9L329.5 1149.7L330.5 1149.6L331.5 1149.4L332.5 1149.3L333.5 1149.1L334.5 1149L335.5 1148.9L336.5 1148.8L337.5 1148.7L338.6 1148.6L339.6 1148.5L340.6 1148.4L341.6 1148.3L342.6 1148.3L343.6 1148.2L344.6 1148.1L345.6 1148.1L346.6 1148.1L347.6 1148L348.6 1148L349.6 1148L350.6 1148L351.6 1148L352.6 1148.1L353.6 1148.1L354.6 1148.1L355.6 1148.2L356.6 1148.3L357.6 1148.4L358.6 1148.4L359.6 1148.5L360.6 1148.6L361.6 1148.7L362.6 1148.8L363.6 1149L364.6 1149.1L365.6 1149.2L366.6 1149.3L367.6 1149.4L368.6 1149.5L369.6 1149.7L370.6 1149.8L371.6 1149.9L372.6 1150L373.6 1150.2L374.6 1150.3L375.6 1150.5L376.6 1150.7L377.6 1150.8L378.6 1151.1L379.6 1151.3L380.6 1151.5L381.6 1151.7L382.6 1152L383.6 1152.2L384.6 1152.5L385.6 1152.7L386.6 1153L387.6 1153.2L388.6 1153.5L389.6 1153.7L390.6 1154L391.6 1154.2L392.6 1154.5L393.6 1154.7L394.6 1155L395.6 1155.3L396.6 1155.5L397.6 1155.8L398.6 1156.1L399.6 1156.3L400.6 1156.6L401.6 1156.9L402.6 1157.2L403.6 1157.5L404.6 1157.8L405.6 1158.2L406.6 1158.5L407.6 1158.9L408.6 1159.2L409.6 1159.6L410.6 1159.9L411.6 1160.3L412.6 1160.6L413.6 1160.9L414.7 1161.3L415.7 1161.6L416.7 1161.9L417.7 1162.2L418.7 1162.6L419.7 1162.9L420.7 1163.2L421.7 1163.5L422.7 1163.8L423.7 1164.1L424.7 1164.4L425.7 1164.6L426.7 1164.9L427.7 1165.1L428.7 1165.4L429.7 1165.6L430.7 1165.8L431.7 1166L432.7 1166.2L433.7 1166.4L434.7 1166.6L435.7 1166.8L436.7 1166.9L437.7 1167.1L438.7 1167.3L439.7 1167.4L440.7 1167.6L441.7 1167.8L442.7 1167.9L443.7 1168.1L444.7 1168.2L445.7 1168.4L446.7 1168.5L447.7 1168.7L448.7 1168.8L449.7 1168.9L450.7 1169L451.7 1169.2L452.7 1169.3L453.7 1169.4L454.7 1169.5L455.7 1169.5L456.7 1169.6L457.7 1169.7L458.7 1169.7L459.7 1169.8L460.7 1169.8L461.7 1169.8L462.7 1169.9L463.7 1169.9L464.7 1169.9L465.7 1169.9L466.7 1169.9L467.7 1169.9L468.7 1169.9L469.7 1169.8L470.7 1169.8L471.7 1169.8L472.7 1169.7L473.7 1169.6L474.7 1169.6L475.7 1169.5L476.7 1169.4L477.7 1169.3L478.7 1169.2L479.7 1169L480.7 1168.9L481.7 1168.8L482.7 1168.6L483.7 1168.4L484.7 1168.3L485.7 1168.1L486.7 1167.9L487.7 1167.7L488.7 1167.5L489.7 1167.3L490.8 1167.1L491.8 1166.9L492.8 1166.6L493.8 1166.4L494.8 1166.1L495.8 1165.9L496.8 1165.6L497.8 1165.4L498.8 1165.1L499.8 1164.8L500.8 1164.5L501.8 1164.2L502.8 1163.9L503.8 1163.5L504.8 1163.2L505.8 1162.9L506.8 1162.5L507.8 1162.1L508.8 1161.7L509.8 1161.4L510.8 1161L511.8 1160.5L512.8 1160.1L513.8 1159.7L514.8 1159.3L515.8 1158.8L516.8 1158.4L517.8 1157.9L518.8 1157.5L519.8 1157L520.8 1156.5L521.8 1156.1L522.8 1155.6L523.8 1155.1L524.8 1154.6L525.8 1154.1L526.8 1153.5L527.8 1153L528.8 1152.5L528.8 1379L527.8 1377.1L526.8 1375.2L525.8 1373.2L524.8 1371.3L523.8 1369.3L522.8 1367.4L521.8 1365.4L520.8 1363.4L519.8 1361.5L518.8 1359.5L517.8 1357.6L516.8 1355.6L515.8 1353.7L514.8 1351.8L513.8 1350L512.8 1348.2L511.8 1346.4L510.8 1344.6L509.8 1342.9L508.8 1341.2L507.8 1339.5L506.8 1337.9L505.8 1336.2L504.8 1334.6L503.8 1333L502.8 1331.3L501.8 1329.7L500.8 1328.1L499.8 1326.6L498.8 1325L497.8 1323.4L496.8 1321.9L495.8 1320.4L494.8 1318.9L493.8 1317.4L492.8 1315.9L491.8 1314.5L490.8 1313L489.7 1311.6L488.7 1310.2L487.7 1308.8L486.7 1307.4L485.7 1306.1L484.7 1304.8L483.7 1303.5L482.7 1302.2L481.7 1301L480.7 1299.8L479.7 1298.6L478.7 1297.5L477.7 1296.4L476.7 1295.3L475.7 1294.2L474.7 1293.2L473.7 1292.1L472.7 1291.1L471.7 1290.1L470.7 1289.1L469.7 1288.1L468.7 1287.2L467.7 1286.3L466.7 1285.4L465.7 1284.5L464.7 1283.6L463.7 1282.7L462.7 1281.8L461.7 1281L460.7 1280.1L459.7 1279.3L458.7 1278.4L457.7 1277.6L456.7 1276.8L455.7 1276L454.7 1275.1L453.7 1274.3L452.7 1273.5L451.7 1272.8L450.7 1272L449.7 1271.2L448.7 1270.5L447.7 1269.7L446.7 1269L445.7 1268.2L444.7 1267.5L443.7 1266.8L442.7 1266L441.7 1265.3L440.7 1264.6L439.7 1263.8L438.7 1263.1L437.7 1262.4L436.7 1261.6L435.7 1260.9L434.7 1260.2L433.7 1259.5L432.7 1258.8L431.7 1258.1L430.7 1257.4L429.7 1256.7L428.7 1256L427.7 1255.4L426.7 1254.7L425.7 1254.1L424.7 1253.5L423.7 1252.8L422.7 1252.2L421.7 1251.6L420.7 1251L419.7 1250.4L418.7 1249.8L417.7 1249.2L416.7 1248.6L415.7 1248.1L414.7 1247.5L413.6 1247L412.6 1246.5L411.6 1246L410.6 1245.5L409.6 1245L408.6 1244.5L407.6 1244L406.6 1243.5L405.6 1243L404.6 1242.4L403.6 1241.9L402.6 1241.4L401.6 1240.9L400.6 1240.5L399.6 1240L398.6 1239.5L397.6 1239.1L396.6 1238.7L395.6 1238.3L394.6 1237.9L393.6 1237.5L392.6 1237.2L391.6 1236.8L390.6 1236.5L389.6 1236.2L388.6 1235.8L387.6 1235.5L386.6 1235.2L385.6 1234.9L384.6 1234.7L383.6 1234.4L382.6 1234.1L381.6 1233.9L380.6 1233.6L379.6 1233.4L378.6 1233.2L377.6 1232.9L376.6 1232.7L375.6 1232.5L374.6 1232.3L373.6 1232.1L372.6 1231.9L371.6 1231.7L370.6 1231.5L369.6 1231.3L368.6 1231.2L367.6 1231L366.6 1230.8L365.6 1230.6L364.6 1230.5L363.6 1230.3L362.6 1230.1L361.6 1230L360.6 1229.8L359.6 1229.7L358.6 1229.5L357.6 1229.4L356.6 1229.2L355.6 1229.1L354.6 1228.9L353.6 1228.8L352.6 1228.7L351.6 1228.5L350.6 1228.4L349.6 1228.2L348.6 1228.1L347.6 1228L346.6 1227.8L345.6 1227.7L344.6 1227.6L343.6 1227.4L342.6 1227.3L341.6 1227.1L340.6 1227L339.6 1226.9L338.6 1226.7L337.5 1226.6L336.5 1226.4L335.5 1226.3L334.5 1226.1L333.5 1226L332.5 1225.8L331.5 1225.7L330.5 1225.6L329.5 1225.4L328.5 1225.3L327.5 1225.2L326.5 1225.1L325.5 1225L324.5 1224.9L323.5 1224.8L322.5 1224.7L321.5 1224.6L320.5 1224.6L319.5 1224.5L318.5 1224.4L317.5 1224.3L316.5 1224.3L315.5 1224.2L314.5 1224.1L313.5 1224.1L312.5 1224L311.5 1224L310.5 1223.9L309.5 1223.8L308.5 1223.8L307.5 1223.7L306.5 1223.6L305.5 1223.6L304.5 1223.5L303.5 1223.5L302.5 1223.4L301.5 1223.3L300.5 1223.3L299.5 1223.2L298.5 1223.2L297.5 1223.1L296.5 1223.1L295.5 1223L294.5 1223L293.5 1222.9L292.5 1222.9L291.5 1222.8L290.5 1222.8L289.5 1222.8L288.5 1222.8L287.5 1222.8L286.5 1222.8L285.5 1222.8L284.5 1222.8L283.5 1222.8L282.5 1222.9L281.5 1222.9L280.5 1222.9L279.5 1223L278.5 1223L277.5 1223.1L276.5 1223.2L275.5 1223.2L274.5 1223.3L273.5 1223.4L272.5 1223.6L271.5 1223.7L270.5 1223.8L269.5 1224L268.5 1224.1L267.5 1224.3L266.5 1224.5L265.5 1224.7L264.5 1224.9L263.5 1225.1L262.5 1225.4L261.4 1225.6L260.4 1225.9L259.4 1226.2L258.4 1226.5L257.4 1226.9L256.4 1227.2L255.4 1227.6L254.4 1228L253.4 1228.4L252.4 1228.8L251.4 1229.2L250.4 1229.6L249.4 1230.1L248.4 1230.6L247.4 1231.1L246.4 1231.6L245.4 1232.1L244.4 1232.6L243.4 1233.1L242.4 1233.7L241.4 1234.2L240.4 1234.8L239.4 1235.3L238.4 1235.9L237.4 1236.5L236.4 1237.1L235.4 1237.7L234.4 1238.3L233.4 1238.9L232.4 1239.5L231.4 1240.2L230.4 1240.8L229.4 1241.5L228.4 1242.1L227.4 1242.7L226.4 1243.3L225.4 1243.9L224.4 1244.5L223.4 1245L222.4 1245.6L221.4 1246.1L220.4 1246.5L219.4 1247L218.4 1247.4L217.4 1247.7L216.4 1248L215.4 1248.2L214.4 1248.4L213.4 1248.5L212.4 1248.6L211.4 1248.7L210.4 1248.8L209.4 1249L208.4 1249.1L207.4 1249.2L206.4 1249.3L205.4 1249.5L204.4 1249.7L203.4 1249.9L202.4 1250.2L201.4 1250.5L200.4 1250.8L199.4 1251.2L198.4 1251.5L197.4 1251.9L196.4 1252.2L195.4 1252.6L194.4 1253L193.4 1253.3L192.4 1253.7L191.4 1254.1L190.4 1254.4L189.4 1254.8L188.4 1255.2L187.4 1255.6L186.4 1256L185.3 1256.4L184.3 1256.9L183.3 1257.4L182.3 1257.9L181.3 1258.5L180.3 1259.2L179.3 1259.9L178.3 1260.7L177.3 1261.6L176.3 1262.6L175.3 1263.7L174.3 1264.8L173.3 1266L172.3 1267.2L171.3 1268.4L170.3 1269.6L169.3 1270.8L168.3 1272L167.3 1273.2L166.3 1274.4L165.3 1275.6L164.3 1276.7L163.3 1277.8L162.3 1279L161.3 1280.1L160.3 1281.2L159.3 1282.3L158.3 1283.5L157.3 1284.6L156.3 1285.7L155.3 1286.8L154.3 1288L153.3 1289.1L152.3 1290.2L151.3 1291.3L150.3 1292.5L149.3 1293.6L148.3 1294.7L147.3 1295.9L146.3 1297L145.3 1298.2L144.3 1299.3L143.3 1300.5L142.3 1301.7L141.3 1302.9L140.3 1304.1L139.3 1305.3L138.3 1306.6L137.3 1307.9L136.3 1309.2L135.3 1310.6L134.3 1311.9L133.3 1313.3L132.3 1314.7L131.3 1316.1L130.3 1317.4L129.3 1318.8L128.3 1320.2L127.3 1321.6L126.3 1323L125.3 1324.4L124.3 1325.8L123.3 1327.1L122.3 1328.5L121.3 1329.9L120.3 1331.2L119.3 1332.6L118.3 1334L117.3 1335.4L116.3 1336.7L115.3 1338.2L114.3 1339.6L113.3 1341.1L112.3 1342.7L111.3 1344.3L110.3 1346L109.2 1347.6L108.2 1349.3L107.2 1350.9L106.2 1352.6L105.2 1354.2L104.2 1355.8L103.2 1357.3L102.2 1358.9L101.2 1360.4L100.2 1362L99.2 1363.6L98.2 1365.2L97.2 1366.9L96.2 1368.6L95.2 1370.4L94.2 1372.2L93.2 1374L92.2 1375.8L91.2 1377.7L90.2 1379.6L89.2 1381.5L88.2 1383.5L87.2 1385.5L86.2 1387.5L85.2 1389.5L84.2 1391.5L83.2 1393.6L82.2 1395.7L81.2 1397.8L80.2 1399.9L79.2 1402L78.2 1404.2L77.2 1406.4L76.2 1408.6L75.2 1410.9L74.2 1413.1L73.2 1415.4L72.2 1417.7L71.2 1420Z" fill="#999999" fill-opacity="0.4" stroke="none"/>
<path d="M71.2 1309.9L72.2 1309.6L73.2 1309.3L74.2 1309L75.2 1308.7L76.2 1308.4L77.2 1308L78.2 1307.7L79.2 1307.4L80.2 1307.1L81.2 1306.7L82.2 1306.4L83.2 1306L84.2 1305.6L85.2 1305.2L86.2 1304.8L87.2 1304.4L88.2 1304L89.2 1303.5L90.2 1303.1L91.2 1302.6L92.2 1302.2L93.2 1301.7L94.2 1301.3L95.2 1300.9L96.2 1300.4L97.2 1300L98.2 1299.5L99.2 1299.1L100.2 1298.7L101.2 1298.3L102.2 1297.8L103.2 1297.4L104.2 1297L105.2 1296.6L106.2 1296.2L107.2 1295.7L108.2 1295.3L109.2 1294.9L110.3 1294.4L111.3 1294L112.3 1293.5L113.3 1293L114.3 1292.5L115.3 1292L116.3 1291.4L117.3 1290.9L118.3 1290.4L119.3 1289.8L120.3 1289.2L121.3 1288.6L122.3 1288.1L123.3 1287.5L124.3 1286.9L125.3 1286.3L126.3 1285.6L127.3 1285L128.3 1284.4L129.3 1283.7L130.3 1283.1L131.3 1282.4L132.3 1281.7L133.3 1281L134.3 1280.3L135.3 1279.6L136.3 1278.9L137.3 1278.2L138.3 1277.4L139.3 1276.7L140.3 1275.9L141.3 1275.2L142.3 1274.4L143.3 1273.6L144.3 1272.9L145.3 1272.1L146.3 1271.3L147.3 1270.5L148.3 1269.7L149.3 1268.9L150.3 1268.1L151.3 1267.2L152.3 1266.4L153.3 1265.6L154.3 1264.7L155.3 1263.9L156.3 1263L157.3 1262.1L158.3 1261.2L159.3 1260.3L160.3 1259.4L161.3 1258.4L162.3 1257.4L163.3 1256.5L164.3 1255.5L165.3 1254.4L166.3 1253.4L167.3 1252.4L168.3 1251.4L169.3 1250.3L170.3 1249.4L171.3 1248.4L172.3 1247.5L173.3 1246.7L174.3 1245.8L175.3 1245.1L176.3 1244.3L177.3 1243.6L178.3 1242.9L179.3 1242.3L180.3 1241.7L181.3 1241.1L182.3 1240.6L183.3 1240L184.3 1239.6L185.3 1239.1L186.4 1238.7L187.4 1238.2L188.4 1237.8L189.4 1237.4L190.4 1237L191.4 1236.6L192.4 1236.2L193.4 1235.9L194.4 1235.5L195.4 1235.1L196.4 1234.7L197.4 1234.4L198.4 1234L199.4 1233.6L200.4 1233.3L201.4 1232.9L202.4 1232.6L203.4 1232.3L204.4 1232L205.4 1231.7L206.4 1231.5L207.4 1231.3L208.4 1231.1L209.4 1230.9L210.4 1230.8L211.4 1230.6L212.4 1230.3L213.4 1230.1L214.4 1229.8L215.4 1229.5L216.4 1229.1L217.4 1228.7L218.4 1228.2L219.4 1227.7L220.4 1227.1L221.4 1226.5L222.4 1225.9L223.4 1225.3L224.4 1224.6L225.4 1224L226.4 1223.4L227.4 1222.7L228.4 1222.1L229.4 1221.5L230.4 1220.9L231.4 1220.2L232.4 1219.6L233.4 1219L234.4 1218.4L235.4 1217.8L236.4 1217.1L237.4 1216.5L238.4 1215.9L239.4 1215.2L240.4 1214.6L241.4 1214L242.4 1213.3L243.4 1212.7L244.4 1212L245.4 1211.4L246.4 1210.8L247.4 1210.2L248.4 1209.6L249.4 1209L250.4 1208.4L251.4 1207.8L252.4 1207.3L253.4 1206.7L254.4 1206.2L255.4 1205.7L256.4 1205.2L257.4 1204.7L258.4 1204.2L259.4 1203.7L260.4 1203.2L261.4 1202.8L262.5 1202.4L263.5 1201.9L264.5 1201.5L265.5 1201.1L266.5 1200.7L267.5 1200.3L268.5 1199.9L269.5 1199.5L270.5 1199.1L271.5 1198.7L272.5 1198.4L273.5 1198L274.5 1197.6L275.5 1197.3L276.5 1196.9L277.5 1196.6L278.5 1196.2L279.5 1195.9L280.5 1195.6L281.5 1195.2L282.5 1194.9L283.5 1194.6L284.5 1194.3L285.5 1194L286.5 1193.7L287.5 1193.4L288.5 1193.1L289.5 1192.9L290.5 1192.6L291.5 1192.4L292.5 1192.1L293.5 1191.9L294.5 1191.7L295.5 1191.5L296.5 1191.3L297.5 1191.1L298.5 1190.9L299.5 1190.8L300.5 1190.6L301.5 1190.5L302.5 1190.3L303.5 1190.2L304.5 1190.1L305.5 1190L306.5 1189.8L307.5 1189.7L308.5 1189.6L309.5 1189.5L310.5 1189.4L311.5 1189.3L312.5 1189.2L313.5 1189.1L314.5 1189L315.5 1188.9L316.5 1188.9L317.5 1188.8L318.5 1188.7L319.5 1188.6L320.5 1188.5L321.5 1188.5L322.5 1188.4L323.5 1188.3L324.5 1188.2L325.5 1188.2L326.5 1188.1L327.5 1188.1L328.5 1188L329.5 1188L330.5 1187.9L331.5 1187.9L332.5 1187.9L333.5 1187.8L334.5 1187.8L335.5 1187.8L336.5 1187.8L337.5 1187.8L338.6 1187.8L339.6 1187.8L340.6 1187.8L341.6 1187.9L342.6 1187.9L343.6 1187.9L344.6 1188L345.6 1188L346.6 1188.1L347.6 1188.1L348.6 1188.2L349.6 1188.2L350.6 1188.3L351.6 1188.4L352.6 1188.5L353.6 1188.5L354.6 1188.6L355.6 1188.7L356.6 1188.8L357.6 1188.9L358.6 1188.9L359.6 1189L360.6 1189.1L361.6 1189.2L362.6 1189.3L363.6 1189.4L364.6 1189.5L365.6 1189.6L366.6 1189.7L367.6 1189.8L368.6 1189.9L369.6 1190.1L370.6 1190.2L371.6 1190.3L372.6 1190.5L373.6 1190.6L374.6 1190.8L375.6 1191L376.6 1191.2L377.6 1191.4L378.6 1191.6L379.6 1191.8L380.6 1192L381.6 1192.3L382.6 1192.5L383.6 1192.8L384.6 1193.1L385.6 1193.3L386.6 1193.6L387.6 1193.9L388.6 1194.2L389.6 1194.4L390.6 1194.7L391.6 1195L392.6 1195.3L393.6 1195.5L394.6 1195.8L395.6 1196.1L396.6 1196.4L397.6 1196.7L398.6 1197L399.6 1197.3L400.6 1197.7L401.6 1198L402.6 1198.4L403.6 1198.7L404.6 1199.1L405.6 1199.5L406.6 1199.9L407.6 1200.3L408.6 1200.7L409.6 1201.1L410.6 1201.5L411.6 1201.9L412.6 1202.4L413.6 1202.8L414.7 1203.2L415.7 1203.6L416.7 1204L417.7 1204.5L418.7 1204.9L419.7 1205.3L420.7 1205.7L421.7 1206.2L422.7 1206.6L423.7 1207.1L424.7 1207.5L425.7 1208L426.7 1208.5L427.7 1208.9L428.7 1209.4L429.7 1209.9L430.7 1210.4L431.7 1211L432.7 1211.5L433.7 1212L434.7 1212.5L435.7 1213L436.7 1213.5L437.7 1214L438.7 1214.5L439.7 1215L440.7 1215.5L441.7 1216L442.7 1216.5L443.7 1217L444.7 1217.5L445.7 1218L446.7 1218.5L447.7 1219L448.7 1219.5L449.7 1220L450.7 1220.5L451.7 1221L452.7 1221.5L453.7 1222.1L454.7 1222.6L455.7 1223.2L456.7 1223.7L457.7 1224.3L458.7 1224.9L459.7 1225.4L460.7 1226L461.7 1226.6L462.7 1227.1L463.7 1227.7L464.7 1228.3L465.7 1228.8L466.7 1229.3L467.7 1229.9L468.7 1230.4L469.7 1230.9L470.7 1231.4L471.7 1232L472.7 1232.5L473.7 1233L474.7 1233.6L475.7 1234.2L476.7 1234.7L477.7 1235.3L478.7 1235.9L479.7 1236.5L480.7 1237.1L481.7 1237.7L482.7 1238.3L483.7 1238.9L484.7 1239.5L485.7 1240.1L486.7 1240.8L487.7 1241.4L488.7 1242L489.7 1242.6L490.8 1243.2L491.8 1243.8L492.8 1244.4L493.8 1245L494.8 1245.6L495.8 1246.2L496.8 1246.8L497.8 1247.4L498.8 1248L499.8 1248.6L500.8 1249.2L501.8 1249.8L502.8 1250.4L503.8 1251L504.8 1251.6L505.8 1252.2L506.8 1252.8L507.8 1253.4L508.8 1254L509.8 1254.6L510.8 1255.2L511.8 1255.8L512.8 1256.4L513.8 1257L514.8 1257.6L515.8 1258.2L516.8 1258.8L517.8 1259.4L518.8 1260L519.8 1260.6L520.8 1261.2L521.8 1261.8L522.8 1262.4L523.8 1263L524.8 1263.6L525.8 1264.2L526.8 1264.8L527.8 1265.4L528.8 1266" fill="none" stroke="#858585" stroke-width="4.1" stroke-linejoin="round"/>
<line x1="345.3" y1="1368.4" x2="345.3" y2="1048.6" stroke="#000" stroke-width="2.4" stroke-dasharray="9 8.47"/>
<path d="M62.2 1368.4V1362M112 1368.4V1362M147.4 1368.4V1362M174.8 1368.4V1356.4M197.2 1368.4V1362M216.2 1368.4V1362M232.6 1368.4V1362M247.1 1368.4V1362M260 1368.4V1350.6M345.2 1368.4V1362M395 1368.4V1362M430.4 1368.4V1362M457.8 1368.4V1356.4M480.2 1368.4V1362M499.2 1368.4V1362M515.6 1368.4V1362M530.1 1368.4V1362M543 1368.4V1350.6" stroke="#000" stroke-width="2.3" fill="none"/>
</g>
<path d="M112 1368.4V1374M260 1368.4V1374M395 1368.4V1374M543 1368.4V1374M35 1087.4H29.3M35 1208.6H29.3M35 1329.7H29.3M552 1087.4H557.7M552 1329.7H557.7" stroke="#333333" stroke-width="2.3" fill="none"/>
<g font-size="17.6" fill="#4D4D4D"><text x="112" y="1392" text-anchor="middle">30</text><text x="260" y="1392" text-anchor="middle">100</text><text x="395" y="1392" text-anchor="middle">300</text><text x="543" y="1392" text-anchor="middle">1000</text><text x="24.7" y="1093.7" text-anchor="end">1</text><text x="24.7" y="1214.9" text-anchor="end">0.5</text><text x="24.7" y="1336" text-anchor="end">0</text><text x="562.2" y="1094.4" letter-spacing="0.28">Non-Survivor</text><text x="562.2" y="1336.7" letter-spacing="0.28">Survivor</text></g><text x="293.5" y="1411.6" text-anchor="middle" font-size="16.4" fill="#000">Adm. endostatin (ng/mL)</text><text transform="translate(673 1208.5) rotate(90)" text-anchor="middle" font-size="16.4" fill="#000">90-day mortality</text><text x="34.9" y="1009" font-size="27.3" fill="#000">(c)</text>
<text x="663.6" y="110.3" font-size="16.4" fill="#000">.</text>
<text x="663.6" y="602.3" font-size="16.4" fill="#000">.</text>
</svg></body></html>
